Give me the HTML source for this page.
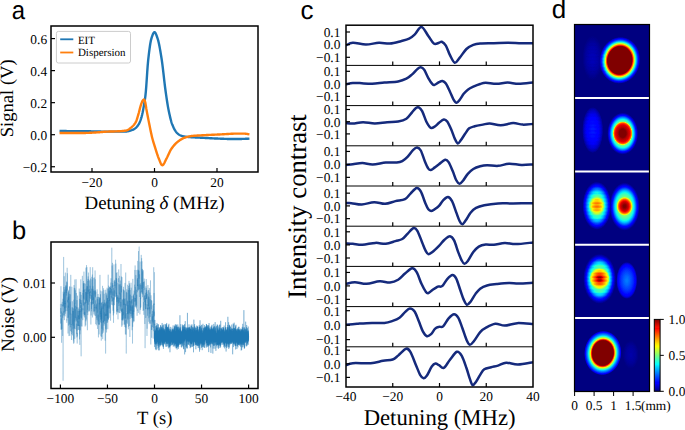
<!DOCTYPE html>
<html><head><meta charset="utf-8"><style>
html,body{margin:0;padding:0;background:#fff;overflow:hidden;}
svg{display:block;text-rendering:geometricPrecision;}
</style></head><body>
<svg width="685" height="430" viewBox="0 0 685 430">
<defs>
<clipPath id="clipA"><rect x="51" y="26" width="207" height="146"/></clipPath>
<clipPath id="clipB"><rect x="51" y="242" width="207" height="146.5"/></clipPath>
<clipPath id="clipC"><rect x="346" y="25.2" width="187" height="361.8"/></clipPath>
<clipPath id="clipD"><rect x="574.5" y="24.5" width="75.0" height="367.0"/></clipPath>
</defs>
<rect width="685" height="430" fill="#fff"/>
<g clip-path="url(#clipA)"><path d="M60.75,131.02 L61.22,131.02 L61.69,131.03 L62.16,131.03 L62.63,131.03 L63.10,131.04 L63.57,131.04 L64.04,131.05 L64.51,131.05 L64.98,131.06 L65.45,131.06 L65.92,131.07 L66.39,131.07 L66.86,131.08 L67.33,131.08 L67.80,131.09 L68.27,131.09 L68.74,131.10 L69.21,131.10 L69.68,131.11 L70.15,131.11 L70.62,131.12 L71.09,131.12 L71.56,131.13 L72.03,131.13 L72.50,131.14 L72.97,131.14 L73.44,131.15 L73.91,131.15 L74.38,131.16 L74.85,131.16 L75.32,131.16 L75.79,131.17 L76.26,131.17 L76.73,131.18 L77.20,131.18 L77.67,131.19 L78.14,131.19 L78.61,131.20 L79.08,131.20 L79.55,131.21 L80.02,131.21 L80.49,131.21 L80.96,131.22 L81.43,131.22 L81.90,131.23 L82.37,131.23 L82.84,131.24 L83.31,131.24 L83.78,131.24 L84.25,131.25 L84.72,131.25 L85.19,131.26 L85.66,131.26 L86.13,131.27 L86.60,131.27 L87.07,131.28 L87.54,131.28 L88.01,131.29 L88.48,131.29 L88.95,131.30 L89.42,131.30 L89.89,131.31 L90.36,131.31 L90.83,131.32 L91.30,131.33 L91.77,131.33 L92.23,131.34 L92.70,131.35 L93.17,131.36 L93.64,131.37 L94.11,131.38 L94.58,131.39 L95.05,131.40 L95.52,131.41 L95.99,131.43 L96.46,131.44 L96.93,131.45 L97.40,131.47 L97.87,131.48 L98.34,131.50 L98.81,131.51 L99.28,131.52 L99.75,131.54 L100.22,131.55 L100.69,131.56 L101.16,131.58 L101.63,131.59 L102.10,131.60 L102.57,131.61 L103.04,131.62 L103.51,131.63 L103.98,131.64 L104.45,131.64 L104.92,131.65 L105.39,131.65 L105.86,131.66 L106.33,131.66 L106.80,131.66 L107.27,131.66 L107.74,131.66 L108.21,131.66 L108.68,131.66 L109.15,131.66 L109.62,131.66 L110.09,131.66 L110.56,131.66 L111.03,131.66 L111.50,131.66 L111.97,131.66 L112.44,131.66 L112.91,131.66 L113.38,131.66 L113.85,131.66 L114.32,131.66 L114.79,131.66 L115.26,131.66 L115.73,131.66 L116.20,131.66 L116.67,131.66 L117.14,131.66 L117.61,131.66 L118.08,131.65 L118.55,131.65 L119.02,131.65 L119.49,131.64 L119.96,131.64 L120.43,131.63 L120.90,131.63 L121.37,131.62 L121.84,131.61 L122.31,131.60 L122.78,131.59 L123.25,131.58 L123.72,131.57 L124.19,131.56 L124.66,131.54 L125.13,131.53 L125.60,131.51 L126.07,131.50 L126.54,131.47 L127.01,131.41 L127.48,131.34 L127.95,131.25 L128.42,131.14 L128.89,131.02 L129.36,130.89 L129.83,130.75 L130.30,130.61 L130.77,130.47 L131.24,130.32 L131.71,130.16 L132.18,129.98 L132.65,129.79 L133.12,129.57 L133.59,129.34 L134.06,129.08 L134.53,128.80 L135.00,128.49 L135.47,128.13 L135.94,127.73 L136.41,127.27 L136.88,126.76 L137.35,126.20 L137.82,125.58 L138.29,124.90 L138.76,124.17 L139.23,123.31 L139.70,122.28 L140.17,121.10 L140.64,119.78 L141.11,118.34 L141.58,116.78 L142.05,115.07 L142.52,113.02 L142.99,110.66 L143.46,108.10 L143.93,105.43 L144.40,102.70 L144.87,99.75 L145.34,96.32 L145.81,91.95 L146.28,86.05 L146.75,79.24 L147.22,72.20 L147.69,65.65 L148.16,60.28 L148.63,56.12 L149.10,52.19 L149.57,48.54 L150.04,45.24 L150.51,42.39 L150.98,40.07 L151.45,38.36 L151.92,36.91 L152.39,35.55 L152.86,34.34 L153.33,33.34 L153.80,32.62 L154.27,32.22 L154.73,32.23 L155.20,32.65 L155.67,33.42 L156.14,34.45 L156.61,35.67 L157.08,37.01 L157.55,38.38 L158.02,39.85 L158.49,41.65 L158.96,43.74 L159.43,46.07 L159.90,48.61 L160.37,51.31 L160.84,54.14 L161.31,57.05 L161.78,60.03 L162.25,63.35 L162.72,67.07 L163.19,71.06 L163.66,75.21 L164.13,79.38 L164.60,83.44 L165.07,87.27 L165.54,90.76 L166.01,94.10 L166.48,97.38 L166.95,100.54 L167.42,103.54 L167.89,106.33 L168.36,108.85 L168.83,111.17 L169.30,113.42 L169.77,115.58 L170.24,117.62 L170.71,119.51 L171.18,121.24 L171.65,122.79 L172.12,124.12 L172.59,125.29 L173.06,126.39 L173.53,127.44 L174.00,128.42 L174.47,129.33 L174.94,130.17 L175.41,130.93 L175.88,131.62 L176.35,132.23 L176.82,132.76 L177.29,133.21 L177.76,133.63 L178.23,134.02 L178.70,134.38 L179.17,134.70 L179.64,135.00 L180.11,135.25 L180.58,135.47 L181.05,135.66 L181.52,135.81 L181.99,135.96 L182.46,136.09 L182.93,136.21 L183.40,136.32 L183.87,136.41 L184.34,136.50 L184.81,136.58 L185.28,136.64 L185.75,136.71 L186.22,136.76 L186.69,136.82 L187.16,136.87 L187.63,136.92 L188.10,136.96 L188.57,137.01 L189.04,137.05 L189.51,137.08 L189.98,137.12 L190.45,137.16 L190.92,137.19 L191.39,137.22 L191.86,137.25 L192.33,137.28 L192.80,137.31 L193.27,137.34 L193.74,137.37 L194.21,137.40 L194.68,137.42 L195.15,137.45 L195.62,137.47 L196.09,137.49 L196.56,137.52 L197.03,137.54 L197.50,137.56 L197.97,137.58 L198.44,137.60 L198.91,137.62 L199.38,137.65 L199.85,137.67 L200.32,137.69 L200.79,137.71 L201.26,137.74 L201.73,137.76 L202.20,137.79 L202.67,137.81 L203.14,137.84 L203.61,137.86 L204.08,137.89 L204.55,137.91 L205.02,137.94 L205.49,137.96 L205.96,137.99 L206.43,138.02 L206.90,138.04 L207.37,138.07 L207.84,138.10 L208.31,138.12 L208.78,138.15 L209.25,138.17 L209.72,138.20 L210.19,138.22 L210.66,138.25 L211.13,138.27 L211.60,138.30 L212.07,138.32 L212.54,138.35 L213.01,138.37 L213.48,138.39 L213.95,138.41 L214.42,138.44 L214.89,138.46 L215.36,138.48 L215.83,138.50 L216.30,138.52 L216.77,138.54 L217.23,138.55 L217.70,138.57 L218.17,138.59 L218.64,138.61 L219.11,138.63 L219.58,138.65 L220.05,138.67 L220.52,138.69 L220.99,138.71 L221.46,138.73 L221.93,138.75 L222.40,138.77 L222.87,138.79 L223.34,138.80 L223.81,138.82 L224.28,138.84 L224.75,138.86 L225.22,138.87 L225.69,138.89 L226.16,138.91 L226.63,138.92 L227.10,138.94 L227.57,138.95 L228.04,138.96 L228.51,138.97 L228.98,138.98 L229.45,138.99 L229.92,139.00 L230.39,139.01 L230.86,139.02 L231.33,139.02 L231.80,139.02 L232.27,139.02 L232.74,139.03 L233.21,139.03 L233.68,139.02 L234.15,139.02 L234.62,139.02 L235.09,139.02 L235.56,139.02 L236.03,139.01 L236.50,139.01 L236.97,139.01 L237.44,139.00 L237.91,138.99 L238.38,138.99 L238.85,138.98 L239.32,138.97 L239.79,138.97 L240.26,138.96 L240.73,138.95 L241.20,138.94 L241.67,138.93 L242.14,138.92 L242.61,138.91 L243.08,138.89 L243.55,138.88 L244.02,138.87 L244.49,138.85 L244.96,138.84 L245.43,138.82 L245.90,138.80 L246.37,138.78 L246.84,138.77 L247.31,138.75 L247.78,138.73 L248.25,138.70" fill="none" stroke="#1f77b4" stroke-width="2.4" stroke-linejoin="round" stroke-linecap="square"/><path d="M60.75,132.94 L61.22,132.94 L61.69,132.94 L62.16,132.94 L62.63,132.94 L63.10,132.94 L63.57,132.94 L64.04,132.94 L64.51,132.94 L64.98,132.94 L65.45,132.94 L65.92,132.94 L66.39,132.94 L66.86,132.94 L67.33,132.94 L67.80,132.94 L68.27,132.94 L68.74,132.94 L69.21,132.94 L69.68,132.94 L70.15,132.94 L70.62,132.94 L71.09,132.94 L71.56,132.94 L72.03,132.94 L72.50,132.94 L72.97,132.94 L73.44,132.94 L73.91,132.94 L74.38,132.94 L74.85,132.94 L75.32,132.94 L75.79,132.94 L76.26,132.94 L76.73,132.94 L77.20,132.94 L77.67,132.94 L78.14,132.94 L78.61,132.94 L79.08,132.94 L79.55,132.94 L80.02,132.94 L80.49,132.94 L80.96,132.94 L81.43,132.94 L81.90,132.94 L82.37,132.94 L82.84,132.94 L83.31,132.94 L83.78,132.94 L84.25,132.94 L84.72,132.94 L85.19,132.94 L85.66,132.93 L86.13,132.92 L86.60,132.91 L87.07,132.90 L87.54,132.89 L88.01,132.87 L88.48,132.86 L88.95,132.84 L89.42,132.82 L89.89,132.80 L90.36,132.77 L90.83,132.75 L91.30,132.72 L91.77,132.70 L92.23,132.67 L92.70,132.64 L93.17,132.62 L93.64,132.59 L94.11,132.56 L94.58,132.53 L95.05,132.50 L95.52,132.47 L95.99,132.44 L96.46,132.41 L96.93,132.38 L97.40,132.35 L97.87,132.32 L98.34,132.29 L98.81,132.26 L99.28,132.23 L99.75,132.19 L100.22,132.15 L100.69,132.11 L101.16,132.07 L101.63,132.02 L102.10,131.98 L102.57,131.94 L103.04,131.89 L103.51,131.85 L103.98,131.81 L104.45,131.78 L104.92,131.74 L105.39,131.71 L105.86,131.68 L106.33,131.66 L106.80,131.64 L107.27,131.62 L107.74,131.60 L108.21,131.59 L108.68,131.57 L109.15,131.56 L109.62,131.55 L110.09,131.53 L110.56,131.52 L111.03,131.51 L111.50,131.50 L111.97,131.49 L112.44,131.48 L112.91,131.47 L113.38,131.46 L113.85,131.45 L114.32,131.43 L114.79,131.42 L115.26,131.40 L115.73,131.39 L116.20,131.37 L116.67,131.35 L117.14,131.33 L117.61,131.31 L118.08,131.28 L118.55,131.26 L119.02,131.24 L119.49,131.21 L119.96,131.18 L120.43,131.15 L120.90,131.12 L121.37,131.08 L121.84,131.05 L122.31,131.00 L122.78,130.96 L123.25,130.91 L123.72,130.86 L124.19,130.80 L124.66,130.74 L125.13,130.68 L125.60,130.61 L126.07,130.53 L126.54,130.43 L127.01,130.27 L127.48,130.07 L127.95,129.83 L128.42,129.55 L128.89,129.24 L129.36,128.91 L129.83,128.56 L130.30,128.19 L130.77,127.82 L131.24,127.44 L131.71,127.06 L132.18,126.65 L132.65,126.22 L133.12,125.76 L133.59,125.25 L134.06,124.70 L134.53,124.09 L135.00,123.42 L135.47,122.68 L135.94,121.85 L136.41,120.75 L136.88,119.41 L137.35,117.89 L137.82,116.28 L138.29,114.65 L138.76,113.03 L139.23,111.24 L139.70,109.35 L140.17,107.51 L140.64,105.89 L141.11,104.48 L141.58,103.12 L142.05,101.87 L142.52,100.87 L142.99,100.20 L143.46,99.73 L143.93,99.47 L144.40,99.83 L144.87,101.04 L145.34,102.70 L145.81,105.47 L146.28,108.50 L146.75,111.09 L147.22,113.61 L147.69,116.07 L148.16,118.49 L148.63,120.88 L149.10,123.22 L149.57,125.54 L150.04,127.87 L150.51,130.19 L150.98,132.45 L151.45,134.62 L151.92,136.65 L152.39,138.51 L152.86,140.22 L153.33,141.84 L153.80,143.38 L154.27,144.88 L154.73,146.36 L155.20,147.85 L155.67,149.36 L156.14,150.87 L156.61,152.37 L157.08,153.83 L157.55,155.24 L158.02,156.57 L158.49,157.80 L158.96,158.93 L159.43,160.11 L159.90,161.33 L160.37,162.51 L160.84,163.57 L161.31,164.44 L161.78,165.04 L162.25,165.29 L162.72,165.18 L163.19,164.79 L163.66,164.17 L164.13,163.38 L164.60,162.47 L165.07,161.48 L165.54,160.48 L166.01,159.50 L166.48,158.60 L166.95,157.72 L167.42,156.78 L167.89,155.78 L168.36,154.76 L168.83,153.73 L169.30,152.71 L169.77,151.72 L170.24,150.79 L170.71,149.93 L171.18,149.17 L171.65,148.48 L172.12,147.82 L172.59,147.18 L173.06,146.56 L173.53,145.97 L174.00,145.40 L174.47,144.86 L174.94,144.34 L175.41,143.85 L175.88,143.38 L176.35,142.95 L176.82,142.54 L177.29,142.15 L177.76,141.78 L178.23,141.41 L178.70,141.05 L179.17,140.70 L179.64,140.36 L180.11,140.04 L180.58,139.73 L181.05,139.43 L181.52,139.14 L181.99,138.88 L182.46,138.63 L182.93,138.39 L183.40,138.17 L183.87,137.98 L184.34,137.80 L184.81,137.64 L185.28,137.49 L185.75,137.34 L186.22,137.19 L186.69,137.06 L187.16,136.92 L187.63,136.80 L188.10,136.68 L188.57,136.57 L189.04,136.46 L189.51,136.37 L189.98,136.28 L190.45,136.19 L190.92,136.12 L191.39,136.05 L191.86,136.00 L192.33,135.95 L192.80,135.90 L193.27,135.85 L193.74,135.81 L194.21,135.77 L194.68,135.73 L195.15,135.70 L195.62,135.66 L196.09,135.63 L196.56,135.60 L197.03,135.57 L197.50,135.54 L197.97,135.51 L198.44,135.48 L198.91,135.46 L199.38,135.43 L199.85,135.41 L200.32,135.38 L200.79,135.36 L201.26,135.33 L201.73,135.31 L202.20,135.29 L202.67,135.26 L203.14,135.24 L203.61,135.21 L204.08,135.19 L204.55,135.16 L205.02,135.14 L205.49,135.11 L205.96,135.09 L206.43,135.06 L206.90,135.04 L207.37,135.01 L207.84,134.99 L208.31,134.97 L208.78,134.94 L209.25,134.92 L209.72,134.90 L210.19,134.88 L210.66,134.85 L211.13,134.83 L211.60,134.81 L212.07,134.79 L212.54,134.77 L213.01,134.75 L213.48,134.72 L213.95,134.70 L214.42,134.68 L214.89,134.66 L215.36,134.64 L215.83,134.62 L216.30,134.60 L216.77,134.58 L217.23,134.56 L217.70,134.53 L218.17,134.51 L218.64,134.49 L219.11,134.47 L219.58,134.45 L220.05,134.43 L220.52,134.41 L220.99,134.38 L221.46,134.36 L221.93,134.34 L222.40,134.31 L222.87,134.29 L223.34,134.26 L223.81,134.23 L224.28,134.20 L224.75,134.17 L225.22,134.15 L225.69,134.12 L226.16,134.09 L226.63,134.06 L227.10,134.03 L227.57,134.00 L228.04,133.97 L228.51,133.94 L228.98,133.91 L229.45,133.88 L229.92,133.85 L230.39,133.83 L230.86,133.80 L231.33,133.78 L231.80,133.75 L232.27,133.73 L232.74,133.71 L233.21,133.69 L233.68,133.67 L234.15,133.65 L234.62,133.63 L235.09,133.62 L235.56,133.61 L236.03,133.60 L236.50,133.59 L236.97,133.58 L237.44,133.58 L237.91,133.58 L238.38,133.58 L238.85,133.58 L239.32,133.58 L239.79,133.58 L240.26,133.58 L240.73,133.58 L241.20,133.58 L241.67,133.58 L242.14,133.58 L242.61,133.58 L243.08,133.58 L243.55,133.58 L244.02,133.59 L244.49,133.61 L244.96,133.66 L245.43,133.71 L245.90,133.78 L246.37,133.86 L246.84,133.94 L247.31,134.03 L247.78,134.13 L248.25,134.22" fill="none" stroke="#ff7f0e" stroke-width="2.4" stroke-linejoin="round" stroke-linecap="square"/></g>
<rect x="56.4" y="31.4" width="74.1" height="31.6" rx="2" ry="2" fill="#fff" fill-opacity="0.8" stroke="#cccccc" stroke-width="1"/>
<line x1="60.2" y1="39.3" x2="73.3" y2="39.3" stroke="#1f77b4" stroke-width="1.8"/>
<line x1="60.2" y1="52.5" x2="73.3" y2="52.5" stroke="#ff7f0e" stroke-width="1.8"/>
<text x="77.90" y="43.60" font-size="11" text-anchor="start" font-family='"Liberation Serif", serif' >EIT</text>
<text x="77.90" y="56.20" font-size="11" text-anchor="start" font-family='"Liberation Serif", serif' >Dispersion</text>
<rect x="51" y="26" width="207" height="146" fill="none" stroke="#000" stroke-width="1.5"/>
<line x1="92.00" y1="172" x2="92.00" y2="168.0" stroke="#000" stroke-width="1.2"/>
<text x="92.00" y="186.80" font-size="13.4" text-anchor="middle" font-family='"Liberation Serif", serif' >&#8722;20</text>
<line x1="154.50" y1="172" x2="154.50" y2="168.0" stroke="#000" stroke-width="1.2"/>
<text x="154.50" y="186.80" font-size="13.4" text-anchor="middle" font-family='"Liberation Serif", serif' >0</text>
<line x1="217.00" y1="172" x2="217.00" y2="168.0" stroke="#000" stroke-width="1.2"/>
<text x="217.00" y="186.80" font-size="13.4" text-anchor="middle" font-family='"Liberation Serif", serif' >20</text>
<line x1="51" y1="166.74" x2="55.0" y2="166.74" stroke="#000" stroke-width="1.2"/>
<text x="47.10" y="171.74" font-size="13.4" text-anchor="end" font-family='"Liberation Serif", serif' >&#8722;0.2</text>
<line x1="51" y1="134.70" x2="55.0" y2="134.70" stroke="#000" stroke-width="1.2"/>
<text x="47.10" y="139.70" font-size="13.4" text-anchor="end" font-family='"Liberation Serif", serif' >0.0</text>
<line x1="51" y1="102.66" x2="55.0" y2="102.66" stroke="#000" stroke-width="1.2"/>
<text x="47.10" y="107.66" font-size="13.4" text-anchor="end" font-family='"Liberation Serif", serif' >0.2</text>
<line x1="51" y1="70.62" x2="55.0" y2="70.62" stroke="#000" stroke-width="1.2"/>
<text x="47.10" y="75.62" font-size="13.4" text-anchor="end" font-family='"Liberation Serif", serif' >0.4</text>
<line x1="51" y1="38.58" x2="55.0" y2="38.58" stroke="#000" stroke-width="1.2"/>
<text x="47.10" y="43.58" font-size="13.4" text-anchor="end" font-family='"Liberation Serif", serif' >0.6</text>
<text x="154.50" y="208.60" font-size="18.9" text-anchor="middle" font-family='"Liberation Serif", serif' >Detuning <tspan font-style="italic">&#948;</tspan> (MHz)</text>
<text transform="translate(13.2,98.3) rotate(-90)" x="0" y="0" font-size="18.6" text-anchor="middle" font-family='"Liberation Serif", serif'>Signal (V)</text>
<text transform="translate(11.8,18.8) scale(0.92,1)" x="0" y="0" font-size="26" font-family='"Liberation Sans", sans-serif'>a</text>
<g clip-path="url(#clipB)">
<path d="M60.41,303.96 L60.49,316.58 L60.57,315.32 L60.64,323.49 L60.72,308.07 L60.80,313.50 L60.88,299.99 L60.96,286.16 L61.04,312.97 L61.12,329.31 L61.19,318.46 L61.27,330.03 L61.35,328.85 L61.43,303.81 L61.51,317.52 L61.59,342.76 L61.66,319.02 L61.74,311.53 L61.82,329.04 L61.90,327.73 L61.98,320.93 L62.06,315.06 L62.14,311.47 L62.21,301.93 L62.29,301.86 L62.37,306.19 L62.45,304.69 L62.53,309.19 L62.61,335.92 L62.68,316.37 L62.76,313.18 L62.84,317.72 L62.92,298.81 L63.00,312.90 L63.08,380.74 L63.16,291.68 L63.23,298.70 L63.31,306.80 L63.39,300.17 L63.47,293.66 L63.55,305.63 L63.63,256.94 L63.70,315.50 L63.78,311.30 L63.86,312.75 L63.94,299.91 L64.02,287.03 L64.10,308.82 L64.18,315.31 L64.25,276.26 L64.33,312.23 L64.41,320.13 L64.49,297.85 L64.57,292.11 L64.65,308.52 L64.73,289.54 L64.80,307.44 L64.88,312.02 L64.96,303.23 L65.04,300.93 L65.12,316.39 L65.20,303.03 L65.27,304.03 L65.35,272.58 L65.43,313.69 L65.51,285.57 L65.59,306.98 L65.67,311.07 L65.75,303.84 L65.82,288.93 L65.90,287.19 L65.98,300.67 L66.06,307.71 L66.14,306.34 L66.22,289.79 L66.29,292.96 L66.37,285.55 L66.45,295.52 L66.53,287.18 L66.61,281.54 L66.69,304.07 L66.77,322.72 L66.84,319.37 L66.92,320.44 L67.00,282.34 L67.08,311.04 L67.16,267.80 L67.24,290.37 L67.31,273.25 L67.39,284.66 L67.47,298.09 L67.55,302.41 L67.63,299.88 L67.71,302.19 L67.79,318.27 L67.86,313.18 L67.94,297.33 L68.02,333.50 L68.10,305.62 L68.18,317.63 L68.26,301.31 L68.33,292.47 L68.41,300.01 L68.49,291.14 L68.57,325.57 L68.65,289.85 L68.73,307.73 L68.81,296.37 L68.88,303.27 L68.96,336.09 L69.04,316.57 L69.12,306.26 L69.20,293.96 L69.28,304.48 L69.36,304.46 L69.43,324.57 L69.51,289.75 L69.59,286.47 L69.67,310.78 L69.75,319.16 L69.83,335.75 L69.90,311.55 L69.98,286.60 L70.06,314.56 L70.14,301.59 L70.22,309.79 L70.30,327.28 L70.38,294.30 L70.45,331.09 L70.53,311.81 L70.61,304.53 L70.69,295.65 L70.77,274.86 L70.85,305.31 L70.92,317.87 L71.00,324.74 L71.08,313.63 L71.16,323.00 L71.24,331.57 L71.32,332.37 L71.40,323.98 L71.47,340.00 L71.55,333.14 L71.63,334.19 L71.71,310.60 L71.79,308.15 L71.87,286.78 L71.94,333.12 L72.02,322.97 L72.10,307.23 L72.18,321.48 L72.26,324.46 L72.34,301.31 L72.42,320.37 L72.49,331.79 L72.57,335.37 L72.65,314.07 L72.73,307.63 L72.81,329.24 L72.89,329.16 L72.96,310.90 L73.04,312.11 L73.12,325.72 L73.20,314.09 L73.28,310.96 L73.36,340.41 L73.44,320.18 L73.51,308.51 L73.59,322.45 L73.67,343.79 L73.75,324.75 L73.83,307.28 L73.91,299.73 L73.98,342.74 L74.06,285.07 L74.14,328.12 L74.22,301.49 L74.30,287.86 L74.38,302.37 L74.46,313.40 L74.53,328.91 L74.61,303.59 L74.69,316.71 L74.77,338.89 L74.85,279.49 L74.93,303.91 L75.01,288.38 L75.08,321.48 L75.16,295.05 L75.24,293.18 L75.32,290.31 L75.40,303.72 L75.48,317.89 L75.55,309.09 L75.63,329.23 L75.71,327.60 L75.79,305.95 L75.87,319.70 L75.95,309.92 L76.03,303.54 L76.10,279.23 L76.18,286.53 L76.26,308.77 L76.34,292.99 L76.42,321.33 L76.50,320.63 L76.57,307.28 L76.65,334.19 L76.73,323.69 L76.81,337.48 L76.89,317.69 L76.97,300.14 L77.05,330.56 L77.12,316.95 L77.20,343.53 L77.28,332.92 L77.36,336.40 L77.44,307.65 L77.52,295.64 L77.59,316.12 L77.67,325.74 L77.75,310.75 L77.83,322.38 L77.91,307.21 L77.99,316.68 L78.07,316.17 L78.14,315.13 L78.22,326.00 L78.30,321.45 L78.38,329.78 L78.46,315.69 L78.54,325.68 L78.61,308.69 L78.69,319.26 L78.77,310.93 L78.85,312.74 L78.93,329.86 L79.01,324.92 L79.09,326.00 L79.16,306.43 L79.24,288.55 L79.32,297.63 L79.40,319.09 L79.48,298.83 L79.56,339.35 L79.64,310.49 L79.71,340.28 L79.79,344.90 L79.87,291.83 L79.95,305.73 L80.03,334.32 L80.11,309.20 L80.18,312.02 L80.26,311.28 L80.34,330.37 L80.42,317.75 L80.50,299.66 L80.58,303.91 L80.66,292.00 L80.73,307.93 L80.81,279.34 L80.89,317.61 L80.97,305.16 L81.05,335.49 L81.13,356.31 L81.20,294.85 L81.28,326.35 L81.36,302.76 L81.44,308.83 L81.52,318.49 L81.60,307.84 L81.68,308.77 L81.75,311.47 L81.83,300.12 L81.91,304.92 L81.99,318.16 L82.07,326.49 L82.15,313.74 L82.22,312.24 L82.30,296.36 L82.38,275.83 L82.46,297.58 L82.54,301.58 L82.62,303.80 L82.70,312.37 L82.77,320.17 L82.85,318.19 L82.93,308.43 L83.01,310.18 L83.09,293.08 L83.17,305.39 L83.24,290.27 L83.32,314.41 L83.40,282.94 L83.48,298.51 L83.56,281.01 L83.64,291.65 L83.72,283.92 L83.79,305.36 L83.87,285.18 L83.95,271.60 L84.03,316.37 L84.11,288.77 L84.19,283.12 L84.27,299.54 L84.34,293.93 L84.42,289.44 L84.50,314.79 L84.58,302.38 L84.66,317.53 L84.74,312.06 L84.81,314.92 L84.89,311.68 L84.97,309.11 L85.05,302.49 L85.13,326.53 L85.21,283.67 L85.29,285.97 L85.36,291.24 L85.44,303.70 L85.52,301.92 L85.60,292.07 L85.68,297.38 L85.76,325.37 L85.83,289.87 L85.91,267.69 L85.99,321.29 L86.07,288.84 L86.15,293.09 L86.23,302.94 L86.31,292.18 L86.38,319.53 L86.46,304.55 L86.54,265.08 L86.62,300.42 L86.70,299.25 L86.78,288.46 L86.85,288.59 L86.93,267.11 L87.01,301.10 L87.09,286.07 L87.17,312.48 L87.25,286.43 L87.33,298.15 L87.40,330.20 L87.48,300.53 L87.56,309.76 L87.64,301.31 L87.72,280.87 L87.80,315.11 L87.87,311.21 L87.95,278.95 L88.03,293.91 L88.11,276.43 L88.19,290.91 L88.27,304.85 L88.35,290.82 L88.42,272.57 L88.50,275.71 L88.58,291.72 L88.66,289.83 L88.74,297.64 L88.82,311.21 L88.89,279.61 L88.97,301.53 L89.05,311.63 L89.13,308.59 L89.21,289.86 L89.29,289.01 L89.37,299.00 L89.44,301.64 L89.52,292.15 L89.60,310.65 L89.68,307.95 L89.76,280.56 L89.84,298.18 L89.92,295.95 L89.99,285.78 L90.07,293.63 L90.15,295.76 L90.23,267.12 L90.31,281.97 L90.39,292.86 L90.46,278.54 L90.54,280.04 L90.62,299.23 L90.70,291.26 L90.78,300.01 L90.86,324.52 L90.94,301.83 L91.01,303.36 L91.09,303.82 L91.17,315.41 L91.25,300.66 L91.33,295.22 L91.41,295.04 L91.48,308.86 L91.56,288.65 L91.64,311.34 L91.72,294.48 L91.80,276.81 L91.88,304.11 L91.96,300.94 L92.03,279.50 L92.11,304.62 L92.19,300.85 L92.27,290.15 L92.35,274.52 L92.43,317.45 L92.50,302.50 L92.58,302.90 L92.66,267.25 L92.74,300.20 L92.82,299.51 L92.90,286.27 L92.98,299.84 L93.05,288.88 L93.13,292.69 L93.21,303.82 L93.29,300.32 L93.37,277.80 L93.45,293.59 L93.52,303.92 L93.60,297.32 L93.68,311.37 L93.76,294.04 L93.84,290.86 L93.92,314.37 L94.00,305.24 L94.07,290.51 L94.15,312.32 L94.23,304.08 L94.31,315.54 L94.39,314.88 L94.47,310.52 L94.55,277.49 L94.62,307.74 L94.70,307.12 L94.78,311.07 L94.86,299.08 L94.94,291.31 L95.02,294.49 L95.09,270.48 L95.17,296.57 L95.25,279.28 L95.33,297.43 L95.41,290.27 L95.49,315.95 L95.57,302.45 L95.64,300.31 L95.72,303.83 L95.80,324.08 L95.88,291.66 L95.96,306.92 L96.04,309.22 L96.11,305.34 L96.19,307.91 L96.27,307.21 L96.35,325.32 L96.43,318.61 L96.51,303.67 L96.59,309.78 L96.66,315.33 L96.74,316.16 L96.82,318.34 L96.90,313.87 L96.98,297.24 L97.06,320.03 L97.13,289.35 L97.21,293.79 L97.29,312.70 L97.37,299.04 L97.45,328.75 L97.53,328.93 L97.61,322.71 L97.68,312.77 L97.76,309.59 L97.84,308.63 L97.92,296.81 L98.00,323.51 L98.08,293.97 L98.15,321.37 L98.23,314.83 L98.31,315.65 L98.39,337.25 L98.47,337.39 L98.55,323.93 L98.63,311.80 L98.70,303.16 L98.78,296.97 L98.86,324.45 L98.94,322.90 L99.02,324.88 L99.10,302.74 L99.18,334.38 L99.25,299.50 L99.33,317.04 L99.41,324.45 L99.49,305.20 L99.57,297.62 L99.65,304.38 L99.72,297.49 L99.80,309.58 L99.88,295.24 L99.96,274.86 L100.04,317.12 L100.12,298.16 L100.20,314.17 L100.27,310.81 L100.35,322.16 L100.43,311.55 L100.51,294.22 L100.59,319.46 L100.67,295.32 L100.74,290.60 L100.82,301.47 L100.90,336.26 L100.98,315.99 L101.06,309.38 L101.14,323.05 L101.22,313.10 L101.29,340.65 L101.37,303.00 L101.45,320.71 L101.53,302.30 L101.61,336.92 L101.69,307.86 L101.76,319.13 L101.84,306.35 L101.92,328.73 L102.00,322.71 L102.08,291.34 L102.16,328.33 L102.24,328.25 L102.31,328.27 L102.39,333.74 L102.47,307.20 L102.55,285.84 L102.63,326.66 L102.71,339.15 L102.78,301.93 L102.86,303.64 L102.94,308.85 L103.02,304.31 L103.10,330.45 L103.18,320.66 L103.26,332.50 L103.33,332.63 L103.41,303.73 L103.49,322.38 L103.57,288.27 L103.65,314.08 L103.73,322.38 L103.80,304.17 L103.88,290.17 L103.96,308.81 L104.04,325.70 L104.12,306.27 L104.20,293.78 L104.28,316.25 L104.35,324.17 L104.43,299.82 L104.51,306.74 L104.59,320.60 L104.67,312.37 L104.75,321.08 L104.83,302.43 L104.90,306.23 L104.98,302.72 L105.06,309.42 L105.14,340.67 L105.22,316.38 L105.30,314.25 L105.37,315.92 L105.45,303.66 L105.53,322.65 L105.61,353.59 L105.69,289.73 L105.77,312.12 L105.85,328.72 L105.92,292.68 L106.00,315.77 L106.08,313.83 L106.16,329.63 L106.24,328.07 L106.32,322.85 L106.39,311.97 L106.47,301.50 L106.55,332.44 L106.63,295.35 L106.71,315.92 L106.79,315.81 L106.87,293.64 L106.94,301.42 L107.02,322.91 L107.10,287.74 L107.18,321.04 L107.26,310.58 L107.34,307.56 L107.41,297.91 L107.49,318.45 L107.57,298.22 L107.65,322.44 L107.73,305.33 L107.81,329.21 L107.89,317.88 L107.96,288.88 L108.04,307.53 L108.12,307.73 L108.20,274.71 L108.28,302.88 L108.36,319.23 L108.43,300.11 L108.51,319.67 L108.59,287.69 L108.67,285.64 L108.75,299.20 L108.83,298.62 L108.91,288.22 L108.98,292.94 L109.06,308.85 L109.14,290.75 L109.22,317.74 L109.30,299.46 L109.38,300.97 L109.46,297.44 L109.53,286.96 L109.61,307.41 L109.69,286.74 L109.77,297.73 L109.85,303.52 L109.93,312.90 L110.00,311.91 L110.08,290.70 L110.16,313.65 L110.24,301.11 L110.32,287.78 L110.40,289.13 L110.48,288.34 L110.55,320.70 L110.63,314.85 L110.71,286.16 L110.79,294.59 L110.87,282.59 L110.95,292.66 L111.02,278.27 L111.10,285.78 L111.18,290.51 L111.26,291.30 L111.34,296.69 L111.42,296.32 L111.50,298.35 L111.57,289.15 L111.65,304.73 L111.73,263.84 L111.81,247.71 L111.89,287.14 L111.97,301.60 L112.04,298.16 L112.12,265.56 L112.20,287.70 L112.28,301.24 L112.36,292.34 L112.44,282.69 L112.52,262.85 L112.59,287.33 L112.67,283.13 L112.75,305.22 L112.83,291.50 L112.91,295.35 L112.99,284.95 L113.06,310.70 L113.14,297.21 L113.22,302.16 L113.30,315.35 L113.38,297.76 L113.46,297.89 L113.54,322.84 L113.61,288.14 L113.69,289.29 L113.77,303.92 L113.85,313.33 L113.93,264.39 L114.01,296.26 L114.09,285.90 L114.16,280.78 L114.24,299.56 L114.32,290.21 L114.40,305.18 L114.48,302.09 L114.56,295.25 L114.63,291.30 L114.71,279.88 L114.79,286.02 L114.87,281.72 L114.95,282.76 L115.03,282.39 L115.11,296.46 L115.18,290.24 L115.26,284.90 L115.34,297.23 L115.42,286.57 L115.50,287.33 L115.58,259.73 L115.65,265.16 L115.73,282.20 L115.81,285.37 L115.89,263.68 L115.97,289.06 L116.05,293.63 L116.13,291.43 L116.20,290.54 L116.28,277.97 L116.36,296.34 L116.44,272.87 L116.52,311.60 L116.60,292.75 L116.67,314.49 L116.75,278.72 L116.83,301.94 L116.91,295.15 L116.99,277.10 L117.07,272.25 L117.15,299.28 L117.22,295.28 L117.30,311.36 L117.38,296.99 L117.46,304.49 L117.54,312.39 L117.62,311.19 L117.69,309.15 L117.77,309.82 L117.85,293.66 L117.93,282.87 L118.01,319.39 L118.09,299.91 L118.17,301.39 L118.24,295.41 L118.32,312.53 L118.40,297.72 L118.48,303.46 L118.56,278.26 L118.64,282.27 L118.71,269.43 L118.79,273.17 L118.87,285.27 L118.95,305.99 L119.03,284.35 L119.11,289.63 L119.19,294.44 L119.26,284.68 L119.34,284.52 L119.42,312.99 L119.50,303.13 L119.58,275.84 L119.66,277.03 L119.74,301.43 L119.81,302.49 L119.89,297.95 L119.97,302.49 L120.05,313.20 L120.13,292.82 L120.21,309.64 L120.28,306.89 L120.36,280.59 L120.44,299.14 L120.52,295.50 L120.60,284.32 L120.68,287.34 L120.76,306.67 L120.83,301.92 L120.91,311.06 L120.99,264.00 L121.07,291.26 L121.15,311.45 L121.23,294.93 L121.30,286.06 L121.38,292.27 L121.46,276.48 L121.54,287.76 L121.62,311.99 L121.70,309.52 L121.78,326.88 L121.85,308.72 L121.93,320.14 L122.01,277.16 L122.09,299.53 L122.17,325.46 L122.25,308.74 L122.32,299.80 L122.40,319.47 L122.48,318.72 L122.56,315.71 L122.64,308.51 L122.72,315.82 L122.80,321.08 L122.87,299.24 L122.95,319.96 L123.03,311.90 L123.11,319.46 L123.19,307.61 L123.27,289.28 L123.34,315.23 L123.42,296.82 L123.50,286.80 L123.58,305.12 L123.66,298.38 L123.74,318.37 L123.82,290.05 L123.89,296.95 L123.97,304.43 L124.05,324.53 L124.13,318.73 L124.21,298.23 L124.29,290.74 L124.37,304.68 L124.44,299.16 L124.52,321.46 L124.60,324.55 L124.68,307.48 L124.76,303.63 L124.84,326.92 L124.91,293.39 L124.99,282.88 L125.07,313.40 L125.15,318.45 L125.23,298.46 L125.31,308.57 L125.39,334.36 L125.46,303.94 L125.54,309.47 L125.62,318.38 L125.70,272.56 L125.78,314.61 L125.86,327.70 L125.93,319.94 L126.01,334.62 L126.09,328.66 L126.17,313.17 L126.25,353.59 L126.33,322.57 L126.41,291.88 L126.48,299.30 L126.56,300.64 L126.64,305.73 L126.72,300.51 L126.80,289.29 L126.88,311.83 L126.95,292.85 L127.03,322.76 L127.11,311.85 L127.19,324.09 L127.27,311.60 L127.35,296.26 L127.43,284.74 L127.50,314.02 L127.58,300.61 L127.66,306.03 L127.74,310.72 L127.82,318.70 L127.90,301.60 L127.97,319.78 L128.05,305.13 L128.13,312.41 L128.21,320.08 L128.29,324.15 L128.37,329.24 L128.45,290.18 L128.52,326.69 L128.60,285.92 L128.68,299.45 L128.76,308.98 L128.84,313.70 L128.92,288.84 L129.00,280.87 L129.07,314.38 L129.15,299.83 L129.23,288.16 L129.31,302.17 L129.39,283.13 L129.47,312.71 L129.54,300.94 L129.62,326.04 L129.70,284.55 L129.78,317.81 L129.86,336.98 L129.94,316.77 L130.02,315.98 L130.09,290.10 L130.17,318.77 L130.25,315.81 L130.33,306.68 L130.41,294.70 L130.49,313.96 L130.56,305.56 L130.64,306.71 L130.72,310.25 L130.80,302.51 L130.88,301.06 L130.96,311.02 L131.04,282.74 L131.11,316.34 L131.19,287.69 L131.27,298.45 L131.35,307.88 L131.43,317.85 L131.51,308.29 L131.58,299.74 L131.66,301.94 L131.74,303.51 L131.82,295.87 L131.90,314.17 L131.98,306.95 L132.06,330.19 L132.13,305.84 L132.21,311.55 L132.29,318.34 L132.37,299.11 L132.45,305.62 L132.53,343.57 L132.60,305.19 L132.68,326.78 L132.76,298.62 L132.84,278.86 L132.92,318.10 L133.00,310.38 L133.08,314.44 L133.15,307.93 L133.23,300.59 L133.31,295.73 L133.39,322.36 L133.47,295.22 L133.55,320.94 L133.62,300.54 L133.70,293.75 L133.78,297.45 L133.86,311.86 L133.94,309.32 L134.02,307.44 L134.10,304.81 L134.17,290.59 L134.25,321.46 L134.33,301.58 L134.41,297.75 L134.49,300.14 L134.57,301.72 L134.65,284.65 L134.72,294.74 L134.80,287.84 L134.88,287.99 L134.96,269.98 L135.04,307.01 L135.12,265.44 L135.19,289.68 L135.27,292.34 L135.35,298.45 L135.43,305.96 L135.51,297.99 L135.59,301.46 L135.67,287.18 L135.74,307.45 L135.82,274.97 L135.90,292.63 L135.98,292.45 L136.06,293.50 L136.14,295.73 L136.21,304.91 L136.29,298.55 L136.37,289.76 L136.45,295.09 L136.53,308.64 L136.61,294.81 L136.69,306.50 L136.76,287.03 L136.84,269.98 L136.92,284.04 L137.00,300.97 L137.08,315.72 L137.16,309.41 L137.23,310.66 L137.31,279.56 L137.39,292.20 L137.47,278.07 L137.55,286.04 L137.63,276.98 L137.71,260.90 L137.78,285.99 L137.86,284.71 L137.94,290.41 L138.02,269.62 L138.10,295.64 L138.18,296.74 L138.25,299.69 L138.33,312.90 L138.41,276.97 L138.49,251.05 L138.57,290.31 L138.65,270.44 L138.73,272.77 L138.80,289.05 L138.88,272.76 L138.96,270.71 L139.04,278.70 L139.12,247.27 L139.20,246.62 L139.28,270.41 L139.35,275.23 L139.43,297.13 L139.51,283.31 L139.59,274.28 L139.67,289.47 L139.75,285.62 L139.82,284.29 L139.90,314.39 L139.98,272.26 L140.06,261.60 L140.14,275.29 L140.22,280.19 L140.30,310.08 L140.37,298.05 L140.45,308.30 L140.53,302.55 L140.61,283.23 L140.69,298.70 L140.77,291.57 L140.84,307.28 L140.92,284.99 L141.00,286.24 L141.08,291.97 L141.16,289.66 L141.24,254.91 L141.32,292.54 L141.39,292.46 L141.47,288.23 L141.55,266.47 L141.63,258.18 L141.71,280.14 L141.79,288.98 L141.86,288.23 L141.94,261.35 L142.02,293.92 L142.10,268.82 L142.18,271.35 L142.26,292.60 L142.34,284.52 L142.41,282.55 L142.49,269.42 L142.57,297.18 L142.65,271.56 L142.73,291.93 L142.81,294.53 L142.88,282.26 L142.96,294.30 L143.04,308.30 L143.12,311.02 L143.20,299.25 L143.28,270.87 L143.36,270.25 L143.43,288.01 L143.51,281.93 L143.59,310.17 L143.67,305.50 L143.75,302.12 L143.83,314.82 L143.91,305.69 L143.98,288.44 L144.06,291.10 L144.14,299.98 L144.22,278.60 L144.30,289.65 L144.38,281.48 L144.45,297.16 L144.53,302.08 L144.61,295.79 L144.69,308.34 L144.77,315.43 L144.85,324.01 L144.93,297.68 L145.00,294.87 L145.08,348.16 L145.16,320.94 L145.24,300.21 L145.32,305.28 L145.40,297.98 L145.47,307.84 L145.55,309.16 L145.63,292.86 L145.71,305.32 L145.79,317.96 L145.87,286.39 L145.95,288.05 L146.02,309.02 L146.10,288.01 L146.18,299.08 L146.26,279.05 L146.34,296.50 L146.42,298.41 L146.49,289.89 L146.57,299.19 L146.65,294.06 L146.73,292.19 L146.81,295.29 L146.89,310.00 L146.97,335.96 L147.04,304.21 L147.12,328.72 L147.20,304.95 L147.28,294.15 L147.36,305.41 L147.44,315.77 L147.51,309.95 L147.59,307.61 L147.67,308.61 L147.75,308.22 L147.83,310.15 L147.91,284.98 L147.99,302.84 L148.06,290.47 L148.14,308.94 L148.22,302.89 L148.30,306.04 L148.38,300.18 L148.46,296.46 L148.53,307.17 L148.61,315.23 L148.69,321.71 L148.77,290.06 L148.85,313.49 L148.93,318.16 L149.01,297.49 L149.08,307.47 L149.16,312.62 L149.24,324.15 L149.32,287.95 L149.40,309.27 L149.48,307.68 L149.56,307.19 L149.63,321.34 L149.71,323.13 L149.79,301.49 L149.87,292.59 L149.95,295.28 L150.03,310.56 L150.10,313.86 L150.18,299.21 L150.26,316.90 L150.34,297.48 L150.42,297.62 L150.50,280.38 L150.58,304.84 L150.65,323.81 L150.73,320.07 L150.81,344.47 L150.89,316.92 L150.97,310.14 L151.05,295.36 L151.12,297.40 L151.20,304.69 L151.28,309.19 L151.36,307.64 L151.44,300.19 L151.52,330.05 L151.60,325.31 L151.67,337.79 L151.75,300.84 L151.83,300.67 L151.91,303.74 L151.99,329.85 L152.07,314.24 L152.14,321.11 L152.22,319.27 L152.30,318.64 L152.38,316.77 L152.46,327.09 L152.54,311.03 L152.62,314.84 L152.69,320.39 L152.77,322.32 L152.85,320.92 L152.93,305.31 L153.01,323.39 L153.09,316.07 L153.16,324.39 L153.24,338.63 L153.32,309.50 L153.40,331.21 L153.48,303.69 L153.56,307.63 L153.64,328.10 L153.71,267.25 L153.79,308.04 L153.87,309.87 L153.95,316.73 L154.03,292.98 L154.11,304.93 L154.19,303.65 L154.26,315.67 L154.34,311.56 L154.42,324.72 L154.50,319.89" fill="none" stroke="#1f77b4" stroke-width="0.4" stroke-opacity="0.6"/>
<path d="M154.50,272.14 L154.52,335.42 L154.55,340.19 L154.57,337.56 L154.59,341.07 L154.62,331.03 L154.64,347.06 L154.66,337.34 L154.69,323.90 L154.71,337.98 L154.73,342.07 L154.76,336.31 L154.78,329.56 L154.80,337.04 L154.83,333.05 L154.85,335.70 L154.88,338.14 L154.90,319.96 L154.92,335.85 L154.95,338.98 L154.97,338.74 L154.99,334.25 L155.02,334.10 L155.04,332.23 L155.06,335.49 L155.09,343.60 L155.11,333.47 L155.13,337.81 L155.16,337.69 L155.18,343.86 L155.20,339.17 L155.23,339.96 L155.25,336.40 L155.28,343.71 L155.30,335.95 L155.32,335.57 L155.35,341.99 L155.37,339.44 L155.39,340.64 L155.42,331.53 L155.44,349.26 L155.46,337.99 L155.49,344.78 L155.51,338.44 L155.53,331.85 L155.56,339.47 L155.58,335.50 L155.60,340.57 L155.63,326.21 L155.65,331.50 L155.68,330.40 L155.70,343.07 L155.72,341.89 L155.75,330.64 L155.77,337.22 L155.79,337.54 L155.82,334.49 L155.84,342.69 L155.86,332.23 L155.89,336.12 L155.91,333.74 L155.93,339.67 L155.96,333.57 L155.98,339.85 L156.00,331.29 L156.03,330.39 L156.05,331.51 L156.08,333.55 L156.10,332.94 L156.12,350.17 L156.15,331.91 L156.17,337.63 L156.19,335.72 L156.22,337.68 L156.24,343.39 L156.26,338.99 L156.29,332.82 L156.31,328.90 L156.33,339.43 L156.36,340.88 L156.38,328.73 L156.40,340.77 L156.43,325.52 L156.45,335.95 L156.48,340.77 L156.50,331.14 L156.52,327.48 L156.55,343.62 L156.57,328.17 L156.59,337.67 L156.62,328.55 L156.64,338.18 L156.66,344.35 L156.69,333.62 L156.71,331.43 L156.73,325.40 L156.76,327.32 L156.78,332.63 L156.80,337.44 L156.83,338.90 L156.85,337.74 L156.88,340.50 L156.90,337.63 L156.92,349.34 L156.95,335.29 L156.97,336.36 L156.99,322.98 L157.02,332.30 L157.04,338.69 L157.06,333.30 L157.09,342.54 L157.11,339.32 L157.13,345.85 L157.16,328.81 L157.18,333.15 L157.20,342.28 L157.23,336.53 L157.25,331.31 L157.28,333.66 L157.30,334.24 L157.32,340.64 L157.35,339.50 L157.37,335.72 L157.39,331.47 L157.42,340.49 L157.44,342.00 L157.46,330.31 L157.49,341.01 L157.51,330.66 L157.53,334.96 L157.56,331.67 L157.58,327.22 L157.60,332.66 L157.63,332.21 L157.65,340.95 L157.68,339.80 L157.70,332.89 L157.72,328.30 L157.75,329.03 L157.77,324.26 L157.79,334.61 L157.82,335.17 L157.84,331.02 L157.86,336.12 L157.89,336.54 L157.91,341.62 L157.93,331.10 L157.96,341.74 L157.98,333.57 L158.00,343.53 L158.03,330.56 L158.05,341.52 L158.08,331.86 L158.10,344.41 L158.12,338.48 L158.15,330.14 L158.17,340.37 L158.19,335.87 L158.22,338.68 L158.24,348.13 L158.26,334.62 L158.29,333.98 L158.31,341.93 L158.33,333.25 L158.36,340.32 L158.38,341.39 L158.40,336.18 L158.43,339.73 L158.45,324.39 L158.48,344.24 L158.50,332.40 L158.52,331.11 L158.55,346.42 L158.57,345.15 L158.59,333.31 L158.62,338.70 L158.64,334.24 L158.66,330.34 L158.69,338.13 L158.71,341.70 L158.73,350.29 L158.76,335.16 L158.78,341.00 L158.80,334.60 L158.83,335.02 L158.85,343.36 L158.88,327.32 L158.90,330.63 L158.92,331.84 L158.95,342.32 L158.97,338.32 L158.99,339.04 L159.02,338.35 L159.04,342.01 L159.06,333.97 L159.09,335.03 L159.11,334.33 L159.13,338.82 L159.16,329.55 L159.18,335.25 L159.20,350.34 L159.23,339.52 L159.25,336.51 L159.28,331.23 L159.30,337.77 L159.32,337.50 L159.35,339.63 L159.37,332.78 L159.39,338.52 L159.42,339.33 L159.44,340.04 L159.46,333.34 L159.49,338.96 L159.51,344.86 L159.53,333.00 L159.56,339.83 L159.58,334.37 L159.60,334.29 L159.63,330.01 L159.65,330.83 L159.68,339.18 L159.70,337.07 L159.72,342.87 L159.75,327.56 L159.77,333.94 L159.79,329.02 L159.82,337.86 L159.84,346.78 L159.86,328.31 L159.89,335.73 L159.91,335.53 L159.93,335.93 L159.96,332.89 L159.98,333.46 L160.00,344.42 L160.03,330.61 L160.05,338.94 L160.08,338.62 L160.10,327.30 L160.12,331.47 L160.15,337.96 L160.17,345.79 L160.19,335.38 L160.22,333.44 L160.24,336.63 L160.26,342.64 L160.29,340.29 L160.31,342.69 L160.33,335.10 L160.36,331.99 L160.38,330.92 L160.40,339.99 L160.43,335.00 L160.45,333.36 L160.48,338.85 L160.50,336.98 L160.52,325.26 L160.55,335.16 L160.57,331.66 L160.59,338.46 L160.62,336.00 L160.64,345.06 L160.66,336.34 L160.69,330.06 L160.71,325.39 L160.73,330.04 L160.76,332.67 L160.78,335.94 L160.80,339.31 L160.83,337.04 L160.85,333.05 L160.88,340.26 L160.90,331.40 L160.92,341.29 L160.95,345.39 L160.97,341.43 L160.99,344.80 L161.02,343.29 L161.04,330.37 L161.06,337.25 L161.09,335.09 L161.11,330.24 L161.13,329.72 L161.16,338.82 L161.18,329.36 L161.20,334.23 L161.23,336.20 L161.25,333.93 L161.28,343.57 L161.30,340.27 L161.32,336.77 L161.35,333.07 L161.37,338.13 L161.39,336.87 L161.42,331.21 L161.44,328.93 L161.46,332.26 L161.49,329.67 L161.51,338.30 L161.53,337.79 L161.56,334.57 L161.58,337.77 L161.60,338.83 L161.63,327.69 L161.65,337.25 L161.68,341.20 L161.70,333.70 L161.72,326.74 L161.75,335.80 L161.77,329.86 L161.79,338.47 L161.82,338.75 L161.84,339.77 L161.86,336.95 L161.89,326.74 L161.91,342.17 L161.93,327.77 L161.96,341.42 L161.98,337.42 L162.00,331.90 L162.03,332.96 L162.05,334.76 L162.08,344.72 L162.10,334.35 L162.12,341.49 L162.15,322.96 L162.17,337.31 L162.19,335.24 L162.22,342.13 L162.24,338.68 L162.26,342.87 L162.29,331.15 L162.31,337.57 L162.33,333.31 L162.36,339.75 L162.38,338.80 L162.40,329.57 L162.43,341.23 L162.45,345.51 L162.48,334.12 L162.50,342.10 L162.52,338.48 L162.55,331.51 L162.57,340.44 L162.59,331.68 L162.62,339.73 L162.64,328.52 L162.66,329.38 L162.69,338.65 L162.71,337.31 L162.73,340.51 L162.76,335.18 L162.78,330.29 L162.80,343.68 L162.83,331.48 L162.85,343.04 L162.88,340.65 L162.90,345.44 L162.92,325.36 L162.95,335.91 L162.97,334.95 L162.99,339.70 L163.02,330.71 L163.04,347.06 L163.06,336.08 L163.09,324.83 L163.11,338.18 L163.13,336.13 L163.16,332.75 L163.18,340.40 L163.20,336.10 L163.23,331.26 L163.25,335.21 L163.28,334.30 L163.30,338.02 L163.32,334.59 L163.35,335.93 L163.37,328.71 L163.39,332.48 L163.42,337.47 L163.44,348.84 L163.46,332.52 L163.49,332.32 L163.51,340.94 L163.53,346.52 L163.56,342.10 L163.58,331.44 L163.60,341.71 L163.63,338.58 L163.65,335.08 L163.68,329.90 L163.70,336.31 L163.72,336.73 L163.75,339.05 L163.77,327.80 L163.79,330.72 L163.82,336.70 L163.84,343.42 L163.86,340.29 L163.89,333.22 L163.91,339.94 L163.93,331.61 L163.96,334.35 L163.98,334.70 L164.00,332.84 L164.03,333.64 L164.05,340.63 L164.08,337.89 L164.10,324.14 L164.12,342.44 L164.15,338.66 L164.17,330.72 L164.19,337.04 L164.22,340.40 L164.24,343.04 L164.26,333.45 L164.29,330.95 L164.31,328.99 L164.33,335.94 L164.36,330.82 L164.38,341.54 L164.40,335.35 L164.43,339.71 L164.45,335.32 L164.48,332.34 L164.50,330.70 L164.52,341.32 L164.55,329.68 L164.57,338.66 L164.59,341.51 L164.62,337.09 L164.64,343.76 L164.66,336.19 L164.69,334.72 L164.71,337.25 L164.73,333.45 L164.76,337.84 L164.78,336.19 L164.80,343.65 L164.83,335.99 L164.85,340.60 L164.88,338.53 L164.90,336.70 L164.92,335.23 L164.95,344.71 L164.97,344.28 L164.99,337.77 L165.02,333.77 L165.04,334.36 L165.06,331.61 L165.09,329.50 L165.11,333.65 L165.13,336.32 L165.16,341.53 L165.18,341.09 L165.20,338.62 L165.23,334.83 L165.25,335.08 L165.27,336.19 L165.30,337.00 L165.32,332.96 L165.35,335.14 L165.37,334.68 L165.39,334.62 L165.42,339.03 L165.44,341.53 L165.46,333.68 L165.49,334.06 L165.51,337.35 L165.53,338.36 L165.56,324.46 L165.58,340.13 L165.60,337.34 L165.63,334.84 L165.65,342.17 L165.67,335.61 L165.70,326.94 L165.72,331.40 L165.75,332.95 L165.77,333.16 L165.79,335.64 L165.82,331.27 L165.84,337.02 L165.86,338.40 L165.89,335.69 L165.91,331.54 L165.93,334.51 L165.96,332.73 L165.98,346.66 L166.00,330.06 L166.03,324.14 L166.05,329.33 L166.07,337.85 L166.10,340.59 L166.12,334.78 L166.15,341.31 L166.17,332.47 L166.19,338.92 L166.22,331.26 L166.24,329.19 L166.26,346.70 L166.29,334.70 L166.31,339.82 L166.33,343.49 L166.36,339.40 L166.38,337.34 L166.40,324.46 L166.43,344.06 L166.45,330.79 L166.47,325.80 L166.50,333.13 L166.52,333.40 L166.55,336.28 L166.57,342.28 L166.59,333.46 L166.62,334.23 L166.64,332.44 L166.66,322.96 L166.69,332.46 L166.71,334.02 L166.73,328.16 L166.76,343.15 L166.78,342.11 L166.80,338.15 L166.83,339.59 L166.85,332.63 L166.87,337.85 L166.90,327.24 L166.92,328.37 L166.95,332.24 L166.97,338.21 L166.99,333.03 L167.02,332.03 L167.04,341.72 L167.06,334.41 L167.09,332.57 L167.11,335.10 L167.13,328.11 L167.16,329.95 L167.18,340.47 L167.20,335.57 L167.23,340.52 L167.25,333.22 L167.27,340.69 L167.30,331.45 L167.32,334.21 L167.35,331.21 L167.37,336.96 L167.39,343.73 L167.42,327.10 L167.44,337.10 L167.46,329.11 L167.49,333.99 L167.51,332.74 L167.53,326.78 L167.56,334.46 L167.58,328.99 L167.60,343.87 L167.63,331.72 L167.65,337.46 L167.67,336.91 L167.70,336.17 L167.72,334.43 L167.75,327.67 L167.77,345.78 L167.79,335.99 L167.82,339.91 L167.84,330.20 L167.86,338.40 L167.89,333.86 L167.91,338.26 L167.93,332.77 L167.96,330.98 L167.98,338.26 L168.00,335.96 L168.03,343.54 L168.05,334.64 L168.07,331.80 L168.10,339.08 L168.12,330.43 L168.15,346.91 L168.17,345.76 L168.19,343.38 L168.22,338.71 L168.24,336.12 L168.26,336.62 L168.29,336.56 L168.31,332.48 L168.33,338.65 L168.36,342.73 L168.38,342.63 L168.40,325.32 L168.43,348.35 L168.45,337.12 L168.47,328.69 L168.50,333.72 L168.52,340.49 L168.55,336.20 L168.57,331.76 L168.59,329.98 L168.62,340.85 L168.64,332.29 L168.66,334.91 L168.69,330.52 L168.71,329.04 L168.73,337.98 L168.76,343.69 L168.78,334.17 L168.80,327.05 L168.83,332.68 L168.85,335.03 L168.87,323.83 L168.90,341.58 L168.92,331.56 L168.95,339.16 L168.97,335.96 L168.99,335.75 L169.02,328.40 L169.04,341.04 L169.06,338.97 L169.09,344.43 L169.11,333.70 L169.13,338.58 L169.16,334.04 L169.18,341.75 L169.20,338.07 L169.23,330.85 L169.25,337.11 L169.27,332.99 L169.30,333.49 L169.32,338.04 L169.35,344.26 L169.37,331.13 L169.39,335.33 L169.42,331.14 L169.44,346.60 L169.46,344.75 L169.49,347.27 L169.51,340.74 L169.53,330.84 L169.56,333.29 L169.58,336.39 L169.60,335.54 L169.63,332.29 L169.65,337.77 L169.67,334.17 L169.70,335.49 L169.72,347.50 L169.75,338.20 L169.77,329.20 L169.79,338.26 L169.82,336.95 L169.84,339.34 L169.86,338.71 L169.89,330.42 L169.91,337.60 L169.93,341.49 L169.96,352.26 L169.98,339.17 L170.00,346.36 L170.03,345.62 L170.05,332.11 L170.07,332.56 L170.10,346.10 L170.12,331.82 L170.15,333.84 L170.17,340.26 L170.19,332.43 L170.22,344.61 L170.24,342.43 L170.26,343.64 L170.29,341.95 L170.31,331.68 L170.33,343.09 L170.36,342.15 L170.38,341.12 L170.40,335.21 L170.43,337.97 L170.45,331.77 L170.47,339.88 L170.50,342.87 L170.52,338.81 L170.55,336.03 L170.57,341.03 L170.59,334.80 L170.62,326.87 L170.64,339.25 L170.66,336.03 L170.69,329.28 L170.71,339.61 L170.73,340.64 L170.76,341.92 L170.78,334.23 L170.80,333.63 L170.83,337.06 L170.85,336.08 L170.87,329.73 L170.90,331.83 L170.92,343.54 L170.95,336.37 L170.97,335.78 L170.99,332.61 L171.02,337.49 L171.04,339.67 L171.06,338.71 L171.09,345.52 L171.11,336.48 L171.13,339.43 L171.16,333.95 L171.18,341.66 L171.20,338.62 L171.23,341.42 L171.25,341.88 L171.27,332.77 L171.30,338.78 L171.32,334.10 L171.35,342.17 L171.37,335.90 L171.39,345.11 L171.42,338.87 L171.44,339.00 L171.46,333.41 L171.49,335.49 L171.51,337.32 L171.53,332.10 L171.56,335.44 L171.58,333.66 L171.60,332.48 L171.63,336.78 L171.65,337.95 L171.67,334.75 L171.70,338.59 L171.72,334.44 L171.75,330.73 L171.77,332.04 L171.79,338.41 L171.82,343.07 L171.84,336.73 L171.86,337.10 L171.89,330.75 L171.91,338.42 L171.93,337.53 L171.96,332.66 L171.98,338.91 L172.00,337.27 L172.03,327.63 L172.05,328.78 L172.07,333.21 L172.10,335.07 L172.12,341.45 L172.15,333.58 L172.17,336.16 L172.19,335.32 L172.22,339.13 L172.24,336.52 L172.26,337.41 L172.29,334.83 L172.31,329.11 L172.33,334.60 L172.36,344.99 L172.38,341.45 L172.40,344.61 L172.43,340.54 L172.45,333.58 L172.47,334.40 L172.50,339.54 L172.52,335.09 L172.55,340.36 L172.57,343.77 L172.59,343.70 L172.62,340.88 L172.64,329.15 L172.66,343.37 L172.69,330.06 L172.71,329.63 L172.73,337.40 L172.76,336.72 L172.78,339.62 L172.80,336.60 L172.83,333.08 L172.85,336.42 L172.87,331.34 L172.90,330.37 L172.92,334.71 L172.95,334.79 L172.97,336.79 L172.99,334.69 L173.02,342.21 L173.04,334.39 L173.06,335.42 L173.09,340.92 L173.11,325.40 L173.13,341.48 L173.16,340.95 L173.18,335.05 L173.20,346.46 L173.23,343.82 L173.25,344.33 L173.27,341.46 L173.30,337.17 L173.32,334.84 L173.35,330.80 L173.37,332.34 L173.39,330.39 L173.42,333.46 L173.44,338.90 L173.46,330.75 L173.49,339.00 L173.51,339.65 L173.53,328.62 L173.56,332.43 L173.58,335.36 L173.60,332.62 L173.63,331.97 L173.65,343.51 L173.67,336.98 L173.70,342.57 L173.72,335.87 L173.75,339.95 L173.77,329.50 L173.79,333.83 L173.82,340.68 L173.84,336.59 L173.86,342.74 L173.89,336.29 L173.91,333.68 L173.93,335.14 L173.96,346.45 L173.98,338.23 L174.00,333.88 L174.03,334.93 L174.05,330.53 L174.07,343.13 L174.10,333.81 L174.12,339.86 L174.15,335.50 L174.17,334.42 L174.19,332.97 L174.22,339.48 L174.24,335.55 L174.26,342.53 L174.29,343.78 L174.31,333.65 L174.33,336.79 L174.36,344.86 L174.38,340.89 L174.40,336.41 L174.43,328.49 L174.45,331.12 L174.47,332.40 L174.50,345.72 L174.52,337.01 L174.55,334.05 L174.57,334.48 L174.59,334.37 L174.62,337.72 L174.64,327.45 L174.66,328.90 L174.69,337.00 L174.71,341.57 L174.73,325.92 L174.76,339.36 L174.78,330.34 L174.80,326.67 L174.83,341.38 L174.85,335.02 L174.87,338.31 L174.90,333.86 L174.92,334.86 L174.95,326.48 L174.97,333.47 L174.99,336.56 L175.02,330.71 L175.04,337.92 L175.06,338.40 L175.09,324.97 L175.11,340.75 L175.13,339.04 L175.16,336.29 L175.18,341.97 L175.20,347.39 L175.23,331.07 L175.25,340.56 L175.27,339.31 L175.30,338.44 L175.32,341.58 L175.35,342.06 L175.37,335.69 L175.39,324.15 L175.42,332.72 L175.44,332.66 L175.46,344.28 L175.49,336.64 L175.51,342.62 L175.53,332.53 L175.56,337.69 L175.58,336.32 L175.60,336.97 L175.63,339.53 L175.65,344.37 L175.67,333.53 L175.70,343.65 L175.72,342.61 L175.75,338.05 L175.77,340.16 L175.79,335.17 L175.82,331.31 L175.84,335.23 L175.86,335.50 L175.89,336.40 L175.91,332.09 L175.93,346.04 L175.96,334.62 L175.98,341.33 L176.00,342.88 L176.03,336.49 L176.05,338.52 L176.07,333.51 L176.10,330.84 L176.12,348.52 L176.15,336.89 L176.17,326.42 L176.19,332.04 L176.22,329.06 L176.24,335.99 L176.26,343.92 L176.29,342.32 L176.31,332.85 L176.33,331.57 L176.36,340.29 L176.38,337.90 L176.40,335.17 L176.43,345.55 L176.45,338.32 L176.47,328.17 L176.50,325.24 L176.52,337.08 L176.55,327.07 L176.57,339.23 L176.59,340.70 L176.62,348.06 L176.64,331.58 L176.66,338.45 L176.69,324.45 L176.71,334.81 L176.73,335.54 L176.76,345.83 L176.78,328.78 L176.80,338.39 L176.83,337.34 L176.85,347.90 L176.87,331.73 L176.90,331.41 L176.92,339.64 L176.95,336.03 L176.97,334.49 L176.99,331.54 L177.02,335.97 L177.04,327.62 L177.06,337.76 L177.09,339.63 L177.11,338.91 L177.13,349.60 L177.16,340.67 L177.18,331.31 L177.20,335.14 L177.23,340.73 L177.25,334.70 L177.27,346.91 L177.30,337.97 L177.32,333.79 L177.35,332.90 L177.37,340.49 L177.39,331.79 L177.42,326.85 L177.44,338.70 L177.46,332.67 L177.49,344.53 L177.51,346.61 L177.53,329.36 L177.56,336.27 L177.58,335.46 L177.60,339.50 L177.63,338.00 L177.65,332.30 L177.67,327.62 L177.70,337.60 L177.72,345.00 L177.75,329.91 L177.77,333.37 L177.79,332.96 L177.82,335.54 L177.84,324.49 L177.86,336.09 L177.89,333.83 L177.91,346.04 L177.93,339.47 L177.96,340.02 L177.98,336.63 L178.00,334.68 L178.03,340.35 L178.05,327.55 L178.07,341.98 L178.10,338.80 L178.12,335.25 L178.15,342.93 L178.17,333.53 L178.19,333.21 L178.22,337.99 L178.24,326.62 L178.26,336.06 L178.29,335.03 L178.31,341.43 L178.33,345.12 L178.36,339.74 L178.38,338.14 L178.40,338.83 L178.43,332.51 L178.45,348.80 L178.47,342.33 L178.50,345.90 L178.52,329.55 L178.55,339.39 L178.57,339.14 L178.59,342.16 L178.62,331.83 L178.64,338.60 L178.66,335.33 L178.69,346.98 L178.71,330.43 L178.73,334.44 L178.76,333.63 L178.78,330.09 L178.80,337.47 L178.83,337.34 L178.85,332.76 L178.87,334.27 L178.90,337.74 L178.92,336.24 L178.94,339.07 L178.97,332.78 L178.99,331.65 L179.02,336.44 L179.04,326.76 L179.06,344.41 L179.09,337.67 L179.11,327.62 L179.13,338.64 L179.16,344.73 L179.18,329.25 L179.20,333.64 L179.23,342.64 L179.25,332.46 L179.27,341.75 L179.30,343.39 L179.32,337.25 L179.34,338.95 L179.37,342.14 L179.39,338.35 L179.42,341.65 L179.44,336.15 L179.46,336.58 L179.49,332.61 L179.51,338.81 L179.53,343.35 L179.56,343.28 L179.58,337.73 L179.60,328.52 L179.63,332.07 L179.65,339.77 L179.67,331.59 L179.70,342.46 L179.72,331.22 L179.74,338.44 L179.77,332.48 L179.79,333.24 L179.82,337.89 L179.84,334.76 L179.86,341.98 L179.89,336.84 L179.91,330.85 L179.93,315.26 L179.96,332.82 L179.98,336.00 L180.00,341.69 L180.03,330.98 L180.05,345.02 L180.07,340.61 L180.10,334.60 L180.12,342.69 L180.14,328.48 L180.17,330.80 L180.19,339.39 L180.22,339.33 L180.24,343.28 L180.26,343.70 L180.29,334.16 L180.31,333.23 L180.33,334.63 L180.36,335.08 L180.38,339.35 L180.40,334.59 L180.43,344.07 L180.45,336.41 L180.47,328.82 L180.50,329.61 L180.52,338.85 L180.54,338.18 L180.57,329.32 L180.59,327.20 L180.62,344.20 L180.64,338.66 L180.66,335.24 L180.69,330.14 L180.71,340.79 L180.73,333.12 L180.76,338.01 L180.78,324.15 L180.80,334.22 L180.83,337.15 L180.85,338.18 L180.87,330.98 L180.90,332.93 L180.92,342.06 L180.94,335.32 L180.97,343.38 L180.99,340.36 L181.02,343.15 L181.04,343.31 L181.06,340.00 L181.09,341.52 L181.11,333.71 L181.13,332.32 L181.16,337.68 L181.18,342.24 L181.20,332.28 L181.23,346.93 L181.25,346.45 L181.27,332.68 L181.30,333.05 L181.32,331.40 L181.34,337.56 L181.37,342.98 L181.39,339.08 L181.42,333.51 L181.44,340.42 L181.46,340.08 L181.49,343.67 L181.51,342.47 L181.53,332.08 L181.56,334.09 L181.58,342.46 L181.60,342.04 L181.63,339.36 L181.65,333.61 L181.67,342.50 L181.70,337.32 L181.72,347.56 L181.74,342.96 L181.77,334.26 L181.79,331.79 L181.82,342.43 L181.84,340.45 L181.86,332.31 L181.89,338.47 L181.91,339.25 L181.93,333.76 L181.96,335.43 L181.98,330.68 L182.00,332.33 L182.03,339.43 L182.05,337.06 L182.07,336.75 L182.10,343.47 L182.12,341.48 L182.14,331.41 L182.17,344.66 L182.19,331.29 L182.22,334.96 L182.24,337.16 L182.26,333.65 L182.29,333.97 L182.31,330.17 L182.33,338.51 L182.36,337.62 L182.38,337.71 L182.40,326.69 L182.43,331.54 L182.45,341.22 L182.47,338.16 L182.50,340.08 L182.52,336.36 L182.54,335.32 L182.57,324.56 L182.59,345.87 L182.62,331.10 L182.64,334.16 L182.66,340.06 L182.69,337.20 L182.71,338.99 L182.73,336.16 L182.76,331.21 L182.78,344.27 L182.80,329.62 L182.83,338.35 L182.85,328.64 L182.87,334.28 L182.90,330.03 L182.92,333.48 L182.94,330.79 L182.97,336.11 L182.99,340.71 L183.02,332.92 L183.04,332.72 L183.06,325.54 L183.09,346.76 L183.11,337.42 L183.13,330.90 L183.16,342.88 L183.18,337.57 L183.20,325.44 L183.23,329.06 L183.25,340.94 L183.27,329.01 L183.30,330.26 L183.32,332.36 L183.34,334.41 L183.37,335.15 L183.39,340.88 L183.42,339.05 L183.44,332.59 L183.46,335.65 L183.49,326.81 L183.51,338.10 L183.53,348.78 L183.56,338.10 L183.58,334.93 L183.60,334.39 L183.63,336.02 L183.65,340.61 L183.67,328.64 L183.70,339.79 L183.72,332.69 L183.74,337.84 L183.77,342.54 L183.79,329.05 L183.82,349.32 L183.84,340.75 L183.86,334.12 L183.89,338.19 L183.91,332.47 L183.93,336.86 L183.96,338.68 L183.98,325.18 L184.00,337.47 L184.03,337.15 L184.05,341.93 L184.07,340.19 L184.10,332.98 L184.12,333.42 L184.14,336.32 L184.17,339.94 L184.19,332.78 L184.22,345.12 L184.24,338.08 L184.26,337.62 L184.29,340.68 L184.31,335.52 L184.33,339.76 L184.36,340.45 L184.38,327.00 L184.40,332.48 L184.43,330.11 L184.45,336.03 L184.47,331.31 L184.50,332.26 L184.52,330.02 L184.54,324.06 L184.57,337.45 L184.59,334.94 L184.62,336.54 L184.64,354.41 L184.66,343.47 L184.69,336.17 L184.71,332.99 L184.73,339.23 L184.76,330.40 L184.78,329.63 L184.80,338.38 L184.83,328.90 L184.85,327.21 L184.87,333.85 L184.90,341.30 L184.92,328.66 L184.94,337.08 L184.97,338.18 L184.99,335.63 L185.02,339.00 L185.04,330.69 L185.06,332.21 L185.09,329.93 L185.11,333.22 L185.13,340.31 L185.16,337.04 L185.18,331.70 L185.20,338.31 L185.23,321.15 L185.25,337.46 L185.27,339.24 L185.30,330.29 L185.32,332.36 L185.34,336.36 L185.37,337.40 L185.39,334.01 L185.42,331.90 L185.44,332.28 L185.46,337.77 L185.49,333.99 L185.51,331.86 L185.53,332.27 L185.56,352.13 L185.58,340.81 L185.60,340.22 L185.63,337.40 L185.65,335.29 L185.67,331.46 L185.70,333.03 L185.72,336.87 L185.74,336.09 L185.77,327.14 L185.79,339.37 L185.82,334.64 L185.84,328.14 L185.86,334.43 L185.89,346.76 L185.91,334.28 L185.93,338.21 L185.96,336.80 L185.98,330.79 L186.00,333.79 L186.03,337.58 L186.05,331.61 L186.07,333.97 L186.10,335.67 L186.12,334.66 L186.14,334.91 L186.17,337.97 L186.19,338.58 L186.22,336.08 L186.24,341.14 L186.26,342.71 L186.29,329.50 L186.31,337.45 L186.33,336.34 L186.36,336.91 L186.38,336.09 L186.40,336.10 L186.43,335.88 L186.45,340.37 L186.47,331.41 L186.50,339.78 L186.52,330.88 L186.54,346.11 L186.57,341.69 L186.59,331.10 L186.62,336.98 L186.64,339.68 L186.66,334.28 L186.69,341.61 L186.71,335.82 L186.73,347.64 L186.76,338.55 L186.78,339.57 L186.80,333.43 L186.83,331.70 L186.85,340.62 L186.87,327.91 L186.90,339.27 L186.92,346.82 L186.94,348.49 L186.97,328.28 L186.99,336.67 L187.02,339.55 L187.04,340.07 L187.06,341.85 L187.09,329.24 L187.11,336.65 L187.13,326.98 L187.16,337.24 L187.18,348.34 L187.20,331.86 L187.23,338.11 L187.25,337.44 L187.27,328.13 L187.30,337.57 L187.32,330.22 L187.34,336.24 L187.37,340.09 L187.39,333.60 L187.42,339.31 L187.44,312.87 L187.46,331.26 L187.49,335.89 L187.51,333.07 L187.53,333.30 L187.56,337.64 L187.58,331.60 L187.60,337.39 L187.63,333.04 L187.65,341.12 L187.67,335.69 L187.70,334.07 L187.72,340.28 L187.74,338.35 L187.77,338.95 L187.79,332.44 L187.82,339.91 L187.84,333.94 L187.86,328.33 L187.89,334.35 L187.91,344.50 L187.93,335.54 L187.96,330.82 L187.98,337.66 L188.00,330.46 L188.03,332.99 L188.05,334.01 L188.07,337.52 L188.10,338.82 L188.12,337.49 L188.14,335.85 L188.17,333.47 L188.19,334.00 L188.22,337.72 L188.24,335.83 L188.26,334.16 L188.29,344.54 L188.31,340.12 L188.33,340.28 L188.36,337.20 L188.38,337.57 L188.40,337.48 L188.43,340.65 L188.45,332.68 L188.47,334.71 L188.50,344.62 L188.52,336.07 L188.54,341.95 L188.57,327.36 L188.59,338.49 L188.62,338.17 L188.64,335.70 L188.66,337.17 L188.69,336.43 L188.71,328.15 L188.73,334.96 L188.76,331.82 L188.78,330.31 L188.80,341.16 L188.83,327.41 L188.85,332.58 L188.87,331.19 L188.90,340.58 L188.92,331.91 L188.94,333.99 L188.97,338.89 L188.99,324.35 L189.02,333.20 L189.04,337.35 L189.06,335.12 L189.09,331.42 L189.11,330.29 L189.13,333.12 L189.16,329.84 L189.18,328.53 L189.20,342.48 L189.23,338.62 L189.25,340.96 L189.27,335.61 L189.30,328.67 L189.32,332.74 L189.34,341.51 L189.37,337.63 L189.39,330.81 L189.42,338.85 L189.44,336.61 L189.46,334.54 L189.49,345.51 L189.51,332.09 L189.53,334.34 L189.56,333.18 L189.58,341.16 L189.60,340.07 L189.63,339.19 L189.65,334.82 L189.67,335.75 L189.70,335.45 L189.72,326.87 L189.74,329.38 L189.77,339.82 L189.79,339.48 L189.82,327.26 L189.84,337.75 L189.86,329.00 L189.89,327.86 L189.91,338.91 L189.93,337.50 L189.96,335.68 L189.98,340.57 L190.00,341.16 L190.03,338.18 L190.05,331.71 L190.07,338.42 L190.10,337.18 L190.12,338.51 L190.14,343.15 L190.17,328.45 L190.19,348.19 L190.22,339.48 L190.24,333.23 L190.26,343.31 L190.29,332.99 L190.31,329.65 L190.33,340.55 L190.36,335.04 L190.38,341.84 L190.40,333.50 L190.43,335.66 L190.45,335.00 L190.47,329.07 L190.50,333.68 L190.52,329.17 L190.54,332.84 L190.57,342.30 L190.59,334.77 L190.62,333.59 L190.64,343.57 L190.66,329.24 L190.69,335.76 L190.71,334.22 L190.73,340.74 L190.76,335.74 L190.78,334.57 L190.80,337.80 L190.83,335.70 L190.85,347.05 L190.87,329.09 L190.90,341.86 L190.92,347.37 L190.94,341.07 L190.97,340.42 L190.99,333.31 L191.02,340.83 L191.04,334.65 L191.06,341.07 L191.09,324.73 L191.11,333.31 L191.13,326.03 L191.16,341.35 L191.18,332.70 L191.20,341.05 L191.23,333.14 L191.25,332.63 L191.27,344.35 L191.30,341.99 L191.32,342.14 L191.34,343.88 L191.37,339.90 L191.39,341.08 L191.42,343.59 L191.44,335.63 L191.46,333.32 L191.49,342.92 L191.51,339.01 L191.53,336.10 L191.56,337.34 L191.58,339.76 L191.60,331.96 L191.63,331.78 L191.65,332.64 L191.67,337.22 L191.70,325.90 L191.72,327.17 L191.74,338.23 L191.77,336.77 L191.79,330.02 L191.82,340.28 L191.84,334.10 L191.86,335.92 L191.89,339.79 L191.91,337.35 L191.93,344.27 L191.96,338.96 L191.98,346.46 L192.00,324.40 L192.03,328.40 L192.05,329.83 L192.07,334.61 L192.10,331.02 L192.12,329.61 L192.14,330.93 L192.17,331.44 L192.19,340.88 L192.21,333.97 L192.24,338.94 L192.26,342.27 L192.29,342.07 L192.31,333.98 L192.33,330.75 L192.36,343.24 L192.38,327.18 L192.40,328.61 L192.43,338.15 L192.45,338.58 L192.47,336.57 L192.50,331.13 L192.52,338.17 L192.54,341.90 L192.57,334.43 L192.59,346.85 L192.61,335.48 L192.64,330.23 L192.66,334.63 L192.69,332.18 L192.71,333.66 L192.73,332.46 L192.76,335.46 L192.78,340.49 L192.80,337.37 L192.83,336.59 L192.85,329.72 L192.87,327.83 L192.90,334.04 L192.92,340.10 L192.94,339.98 L192.97,337.18 L192.99,329.05 L193.01,334.49 L193.04,336.50 L193.06,340.16 L193.09,331.66 L193.11,334.72 L193.13,336.48 L193.16,335.68 L193.18,327.51 L193.20,337.04 L193.23,327.50 L193.25,329.81 L193.27,335.94 L193.30,331.65 L193.32,336.85 L193.34,340.49 L193.37,337.60 L193.39,340.89 L193.41,333.58 L193.44,336.14 L193.46,333.28 L193.49,331.95 L193.51,352.31 L193.53,334.61 L193.56,345.51 L193.58,335.35 L193.60,340.74 L193.63,335.68 L193.65,329.17 L193.67,345.02 L193.70,335.23 L193.72,336.62 L193.74,345.98 L193.77,332.87 L193.79,336.04 L193.81,338.84 L193.84,339.94 L193.86,319.64 L193.89,338.25 L193.91,345.50 L193.93,341.02 L193.96,338.11 L193.98,338.20 L194.00,336.62 L194.03,341.61 L194.05,333.42 L194.07,338.71 L194.10,343.23 L194.12,340.42 L194.14,338.20 L194.17,331.84 L194.19,333.71 L194.21,337.96 L194.24,336.11 L194.26,335.10 L194.29,325.70 L194.31,339.40 L194.33,333.80 L194.36,332.47 L194.38,341.13 L194.40,335.24 L194.43,335.37 L194.45,338.64 L194.47,333.29 L194.50,330.91 L194.52,330.38 L194.54,337.20 L194.57,335.23 L194.59,324.09 L194.61,341.91 L194.64,335.07 L194.66,331.62 L194.69,335.44 L194.71,332.83 L194.73,335.32 L194.76,332.33 L194.78,329.60 L194.80,337.36 L194.83,335.20 L194.85,336.50 L194.87,338.30 L194.90,336.32 L194.92,342.05 L194.94,332.37 L194.97,327.43 L194.99,327.42 L195.01,329.63 L195.04,341.19 L195.06,328.37 L195.09,339.90 L195.11,336.49 L195.13,326.69 L195.16,341.74 L195.18,331.87 L195.20,334.76 L195.23,337.00 L195.25,340.73 L195.27,334.03 L195.30,338.61 L195.32,330.82 L195.34,329.90 L195.37,343.33 L195.39,338.82 L195.41,337.86 L195.44,342.31 L195.46,341.98 L195.49,335.76 L195.51,337.29 L195.53,344.74 L195.56,338.99 L195.58,333.54 L195.60,342.44 L195.63,340.98 L195.65,328.02 L195.67,329.42 L195.70,344.58 L195.72,343.18 L195.74,334.27 L195.77,342.36 L195.79,337.52 L195.81,338.54 L195.84,333.32 L195.86,349.26 L195.89,347.58 L195.91,342.54 L195.93,330.98 L195.96,337.01 L195.98,345.03 L196.00,333.67 L196.03,332.56 L196.05,337.48 L196.07,337.92 L196.10,333.96 L196.12,329.97 L196.14,335.43 L196.17,333.46 L196.19,336.46 L196.21,338.18 L196.24,340.94 L196.26,334.89 L196.29,337.76 L196.31,337.47 L196.33,331.42 L196.36,333.70 L196.38,331.73 L196.40,344.34 L196.43,333.33 L196.45,339.26 L196.47,340.38 L196.50,340.61 L196.52,329.97 L196.54,331.94 L196.57,339.91 L196.59,342.08 L196.61,336.14 L196.64,338.58 L196.66,327.65 L196.69,343.75 L196.71,345.65 L196.73,337.53 L196.76,336.16 L196.78,335.53 L196.80,332.33 L196.83,325.52 L196.85,337.98 L196.87,339.02 L196.90,345.29 L196.92,334.96 L196.94,331.81 L196.97,337.56 L196.99,330.12 L197.01,336.06 L197.04,328.40 L197.06,334.50 L197.09,341.67 L197.11,339.50 L197.13,344.13 L197.16,345.17 L197.18,334.84 L197.20,331.73 L197.23,326.13 L197.25,336.50 L197.27,337.44 L197.30,341.93 L197.32,331.12 L197.34,334.21 L197.37,339.28 L197.39,332.66 L197.41,333.32 L197.44,345.86 L197.46,332.38 L197.49,335.51 L197.51,338.23 L197.53,338.37 L197.56,327.19 L197.58,328.29 L197.60,326.79 L197.63,342.14 L197.65,339.59 L197.67,331.54 L197.70,342.45 L197.72,339.93 L197.74,345.52 L197.77,326.65 L197.79,330.73 L197.81,333.85 L197.84,335.08 L197.86,338.37 L197.89,338.27 L197.91,333.04 L197.93,339.89 L197.96,329.88 L197.98,338.75 L198.00,340.72 L198.03,329.52 L198.05,336.96 L198.07,333.35 L198.10,338.35 L198.12,347.82 L198.14,333.39 L198.17,343.16 L198.19,330.63 L198.21,344.21 L198.24,345.83 L198.26,334.63 L198.29,334.02 L198.31,335.66 L198.33,342.47 L198.36,331.63 L198.38,343.77 L198.40,338.61 L198.43,340.28 L198.45,338.16 L198.47,331.81 L198.50,339.48 L198.52,333.30 L198.54,332.63 L198.57,345.04 L198.59,342.23 L198.61,338.19 L198.64,339.27 L198.66,334.63 L198.69,346.18 L198.71,332.50 L198.73,332.37 L198.76,337.08 L198.78,343.35 L198.80,336.19 L198.83,338.99 L198.85,333.29 L198.87,336.65 L198.90,332.46 L198.92,338.45 L198.94,328.77 L198.97,348.10 L198.99,341.46 L199.01,333.68 L199.04,344.01 L199.06,332.42 L199.09,342.49 L199.11,335.73 L199.13,340.93 L199.16,338.49 L199.18,335.31 L199.20,336.75 L199.23,338.18 L199.25,325.11 L199.27,336.17 L199.30,341.22 L199.32,331.43 L199.34,331.98 L199.37,329.91 L199.39,326.99 L199.41,341.06 L199.44,330.75 L199.46,330.34 L199.49,336.21 L199.51,334.95 L199.53,351.70 L199.56,339.17 L199.58,326.99 L199.60,345.43 L199.63,338.98 L199.65,334.73 L199.67,333.24 L199.70,327.80 L199.72,345.31 L199.74,335.99 L199.77,331.78 L199.79,342.99 L199.81,336.42 L199.84,326.49 L199.86,329.42 L199.89,333.43 L199.91,349.70 L199.93,336.89 L199.96,334.22 L199.98,337.81 L200.00,336.55 L200.03,320.31 L200.05,337.32 L200.07,341.22 L200.10,334.96 L200.12,337.84 L200.14,337.81 L200.17,336.66 L200.19,332.22 L200.21,334.99 L200.24,342.41 L200.26,336.90 L200.29,333.77 L200.31,338.63 L200.33,330.29 L200.36,332.21 L200.38,341.32 L200.40,334.56 L200.43,325.98 L200.45,328.17 L200.47,336.50 L200.50,331.58 L200.52,339.69 L200.54,343.68 L200.57,333.35 L200.59,334.94 L200.61,333.56 L200.64,336.34 L200.66,334.53 L200.69,338.86 L200.71,333.77 L200.73,331.92 L200.76,336.52 L200.78,332.01 L200.80,345.35 L200.83,340.27 L200.85,328.76 L200.87,327.13 L200.90,334.92 L200.92,336.75 L200.94,342.75 L200.97,334.34 L200.99,332.20 L201.01,343.86 L201.04,333.33 L201.06,333.68 L201.09,333.94 L201.11,342.03 L201.13,333.42 L201.16,343.94 L201.18,328.54 L201.20,335.52 L201.23,342.22 L201.25,329.27 L201.27,330.26 L201.30,339.57 L201.32,324.84 L201.34,341.39 L201.37,334.60 L201.39,330.11 L201.41,347.93 L201.44,331.05 L201.46,336.55 L201.49,336.29 L201.51,341.77 L201.53,334.50 L201.56,341.94 L201.58,341.21 L201.60,338.52 L201.63,342.55 L201.65,328.10 L201.67,343.07 L201.70,340.11 L201.72,337.85 L201.74,336.20 L201.77,332.13 L201.79,331.99 L201.81,337.78 L201.84,338.20 L201.86,336.03 L201.89,331.97 L201.91,332.62 L201.93,338.88 L201.96,346.84 L201.98,325.16 L202.00,331.31 L202.03,334.86 L202.05,334.46 L202.07,338.90 L202.10,341.38 L202.12,337.93 L202.14,337.36 L202.17,339.44 L202.19,350.16 L202.21,337.83 L202.24,333.24 L202.26,338.77 L202.29,336.10 L202.31,346.90 L202.33,337.29 L202.36,336.84 L202.38,342.54 L202.40,345.14 L202.43,334.09 L202.45,340.39 L202.47,333.69 L202.50,338.38 L202.52,333.00 L202.54,337.96 L202.57,343.99 L202.59,336.66 L202.61,337.91 L202.64,332.82 L202.66,338.54 L202.69,338.24 L202.71,331.78 L202.73,330.20 L202.76,332.30 L202.78,330.86 L202.80,333.87 L202.83,332.24 L202.85,331.68 L202.87,334.13 L202.90,335.89 L202.92,335.48 L202.94,323.81 L202.97,336.14 L202.99,337.44 L203.01,338.09 L203.04,336.39 L203.06,334.95 L203.09,342.05 L203.11,346.43 L203.13,334.69 L203.16,344.50 L203.18,334.88 L203.20,335.49 L203.23,330.27 L203.25,327.60 L203.27,334.32 L203.30,339.07 L203.32,342.27 L203.34,340.30 L203.37,336.01 L203.39,346.89 L203.41,335.83 L203.44,336.28 L203.46,332.89 L203.49,337.94 L203.51,335.69 L203.53,340.01 L203.56,338.61 L203.58,345.36 L203.60,335.58 L203.63,328.22 L203.65,335.38 L203.67,334.33 L203.70,341.28 L203.72,328.83 L203.74,340.17 L203.77,332.08 L203.79,335.66 L203.81,341.16 L203.84,330.92 L203.86,336.13 L203.89,335.29 L203.91,333.88 L203.93,336.32 L203.96,338.17 L203.98,333.81 L204.00,338.30 L204.03,335.88 L204.05,339.66 L204.07,343.90 L204.10,339.69 L204.12,338.77 L204.14,336.14 L204.17,330.10 L204.19,344.93 L204.21,335.55 L204.24,347.62 L204.26,341.61 L204.29,338.83 L204.31,347.84 L204.33,345.80 L204.36,335.42 L204.38,335.81 L204.40,336.80 L204.43,340.36 L204.45,325.10 L204.47,337.05 L204.50,340.66 L204.52,327.56 L204.54,333.05 L204.57,338.13 L204.59,330.06 L204.61,335.41 L204.64,332.90 L204.66,335.00 L204.69,341.52 L204.71,331.20 L204.73,335.39 L204.76,341.42 L204.78,340.15 L204.80,331.29 L204.83,338.12 L204.85,335.97 L204.87,332.84 L204.90,335.55 L204.92,344.09 L204.94,332.93 L204.97,331.37 L204.99,331.74 L205.01,327.87 L205.04,334.33 L205.06,332.21 L205.09,328.02 L205.11,337.71 L205.13,327.26 L205.16,327.27 L205.18,332.17 L205.20,326.72 L205.23,331.82 L205.25,340.76 L205.27,330.35 L205.30,334.53 L205.32,334.08 L205.34,335.42 L205.37,329.20 L205.39,333.36 L205.41,339.80 L205.44,333.71 L205.46,332.45 L205.49,339.96 L205.51,338.45 L205.53,338.19 L205.56,339.35 L205.58,334.41 L205.60,330.96 L205.63,326.45 L205.65,330.05 L205.67,330.94 L205.70,330.32 L205.72,329.33 L205.74,338.16 L205.77,332.64 L205.79,334.55 L205.81,336.88 L205.84,338.56 L205.86,338.82 L205.88,337.60 L205.91,342.58 L205.93,333.52 L205.96,336.33 L205.98,335.67 L206.00,334.47 L206.03,332.47 L206.05,339.27 L206.07,336.76 L206.10,344.51 L206.12,347.67 L206.14,346.22 L206.17,328.29 L206.19,345.64 L206.21,333.78 L206.24,328.59 L206.26,338.58 L206.28,327.81 L206.31,326.68 L206.33,331.34 L206.36,323.97 L206.38,333.00 L206.40,339.97 L206.43,333.51 L206.45,338.49 L206.47,342.92 L206.50,342.78 L206.52,324.27 L206.54,338.98 L206.57,336.31 L206.59,339.60 L206.61,335.47 L206.64,337.40 L206.66,338.28 L206.68,342.41 L206.71,343.45 L206.73,340.00 L206.76,334.64 L206.78,325.44 L206.80,330.71 L206.83,326.74 L206.85,333.64 L206.87,336.59 L206.90,342.97 L206.92,336.12 L206.94,347.19 L206.97,337.68 L206.99,327.73 L207.01,334.43 L207.04,330.30 L207.06,338.09 L207.08,343.21 L207.11,338.58 L207.13,338.15 L207.16,329.89 L207.18,325.91 L207.20,339.92 L207.23,337.95 L207.25,336.85 L207.27,337.90 L207.30,342.51 L207.32,335.61 L207.34,334.22 L207.37,334.10 L207.39,342.31 L207.41,336.67 L207.44,345.06 L207.46,331.37 L207.48,341.34 L207.51,337.49 L207.53,338.39 L207.56,339.08 L207.58,341.53 L207.60,345.19 L207.63,327.13 L207.65,334.75 L207.67,334.70 L207.70,325.24 L207.72,336.58 L207.74,333.21 L207.77,335.95 L207.79,329.93 L207.81,333.47 L207.84,334.43 L207.86,337.37 L207.88,334.61 L207.91,330.05 L207.93,346.76 L207.96,336.72 L207.98,338.21 L208.00,337.60 L208.03,346.24 L208.05,332.28 L208.07,340.41 L208.10,337.22 L208.12,338.65 L208.14,344.66 L208.17,338.35 L208.19,345.55 L208.21,340.91 L208.24,337.67 L208.26,336.07 L208.28,335.76 L208.31,336.75 L208.33,325.02 L208.36,333.80 L208.38,342.35 L208.40,339.20 L208.43,339.43 L208.45,336.96 L208.47,339.16 L208.50,340.46 L208.52,327.54 L208.54,335.82 L208.57,337.78 L208.59,337.34 L208.61,337.16 L208.64,328.86 L208.66,333.57 L208.68,330.25 L208.71,352.12 L208.73,334.36 L208.76,330.57 L208.78,325.86 L208.80,335.88 L208.83,344.89 L208.85,333.00 L208.87,339.12 L208.90,345.28 L208.92,339.22 L208.94,330.58 L208.97,329.83 L208.99,332.31 L209.01,341.44 L209.04,323.04 L209.06,342.06 L209.08,336.43 L209.11,343.48 L209.13,329.23 L209.16,333.72 L209.18,331.44 L209.20,335.55 L209.23,336.37 L209.25,335.12 L209.27,345.76 L209.30,330.89 L209.32,331.30 L209.34,338.04 L209.37,336.07 L209.39,334.46 L209.41,327.91 L209.44,333.78 L209.46,335.78 L209.48,338.63 L209.51,343.75 L209.53,339.07 L209.56,335.63 L209.58,337.29 L209.60,335.60 L209.63,332.14 L209.65,333.74 L209.67,334.57 L209.70,332.60 L209.72,335.02 L209.74,336.14 L209.77,333.56 L209.79,344.89 L209.81,329.51 L209.84,342.63 L209.86,331.66 L209.88,335.91 L209.91,330.25 L209.93,335.79 L209.96,340.84 L209.98,330.43 L210.00,335.01 L210.03,335.35 L210.05,335.54 L210.07,330.79 L210.10,331.74 L210.12,334.77 L210.14,343.95 L210.17,338.04 L210.19,335.40 L210.21,326.69 L210.24,333.96 L210.26,336.42 L210.28,329.77 L210.31,336.52 L210.33,336.08 L210.36,335.13 L210.38,343.66 L210.40,331.00 L210.43,333.74 L210.45,337.39 L210.47,341.83 L210.50,334.83 L210.52,328.71 L210.54,339.24 L210.57,341.41 L210.59,333.76 L210.61,344.16 L210.64,347.39 L210.66,338.22 L210.68,339.49 L210.71,337.35 L210.73,338.77 L210.76,334.21 L210.78,337.06 L210.80,339.01 L210.83,338.28 L210.85,332.66 L210.87,330.97 L210.90,331.25 L210.92,332.32 L210.94,352.93 L210.97,341.08 L210.99,337.54 L211.01,334.85 L211.04,344.26 L211.06,328.57 L211.08,334.34 L211.11,339.11 L211.13,335.06 L211.16,337.69 L211.18,339.83 L211.20,333.30 L211.23,338.25 L211.25,343.19 L211.27,339.18 L211.30,336.49 L211.32,341.47 L211.34,329.39 L211.37,341.52 L211.39,326.83 L211.41,331.28 L211.44,340.75 L211.46,335.22 L211.48,329.80 L211.51,336.88 L211.53,342.04 L211.56,335.31 L211.58,325.62 L211.60,343.57 L211.63,333.02 L211.65,335.83 L211.67,336.49 L211.70,337.89 L211.72,337.52 L211.74,330.52 L211.77,332.79 L211.79,341.01 L211.81,327.83 L211.84,342.56 L211.86,332.44 L211.88,334.91 L211.91,329.68 L211.93,334.02 L211.96,330.41 L211.98,335.98 L212.00,330.83 L212.03,334.07 L212.05,324.76 L212.07,339.44 L212.10,329.69 L212.12,333.45 L212.14,334.93 L212.17,338.77 L212.19,333.53 L212.21,343.44 L212.24,342.90 L212.26,332.17 L212.28,343.86 L212.31,328.42 L212.33,337.25 L212.36,334.55 L212.38,335.44 L212.40,333.66 L212.43,337.27 L212.45,337.73 L212.47,336.48 L212.50,330.41 L212.52,329.98 L212.54,329.25 L212.57,333.94 L212.59,336.86 L212.61,344.49 L212.64,332.51 L212.66,331.49 L212.68,337.90 L212.71,331.66 L212.73,329.17 L212.76,335.33 L212.78,330.37 L212.80,334.23 L212.83,353.59 L212.85,338.26 L212.87,337.93 L212.90,333.09 L212.92,340.27 L212.94,338.08 L212.97,340.78 L212.99,336.02 L213.01,335.46 L213.04,330.79 L213.06,331.71 L213.08,334.97 L213.11,334.57 L213.13,335.26 L213.16,335.24 L213.18,327.84 L213.20,348.64 L213.23,336.72 L213.25,334.20 L213.27,329.99 L213.30,341.46 L213.32,334.03 L213.34,331.37 L213.37,338.11 L213.39,345.66 L213.41,337.67 L213.44,342.01 L213.46,332.46 L213.48,340.21 L213.51,326.63 L213.53,335.09 L213.56,339.97 L213.58,338.42 L213.60,341.45 L213.63,333.81 L213.65,328.12 L213.67,336.93 L213.70,331.05 L213.72,340.68 L213.74,334.23 L213.77,323.93 L213.79,343.07 L213.81,329.46 L213.84,329.76 L213.86,345.51 L213.88,343.22 L213.91,340.85 L213.93,330.82 L213.96,338.03 L213.98,336.68 L214.00,332.17 L214.03,335.21 L214.05,334.65 L214.07,337.48 L214.10,330.02 L214.12,339.83 L214.14,327.18 L214.17,337.56 L214.19,339.94 L214.21,332.49 L214.24,333.50 L214.26,346.04 L214.28,334.68 L214.31,342.79 L214.33,340.11 L214.36,331.77 L214.38,340.28 L214.40,334.00 L214.43,337.79 L214.45,325.86 L214.47,336.33 L214.50,341.90 L214.52,341.54 L214.54,340.52 L214.57,335.19 L214.59,335.86 L214.61,330.85 L214.64,334.99 L214.66,335.19 L214.68,334.19 L214.71,336.53 L214.73,334.36 L214.76,331.83 L214.78,331.83 L214.80,338.68 L214.83,344.99 L214.85,340.04 L214.87,334.42 L214.90,348.72 L214.92,338.34 L214.94,333.57 L214.97,338.80 L214.99,341.66 L215.01,326.84 L215.04,328.75 L215.06,337.23 L215.08,329.08 L215.11,329.20 L215.13,341.73 L215.16,322.08 L215.18,340.74 L215.20,337.27 L215.23,341.56 L215.25,335.51 L215.27,342.70 L215.30,335.96 L215.32,330.34 L215.34,334.82 L215.37,337.29 L215.39,327.96 L215.41,340.56 L215.44,330.94 L215.46,337.49 L215.48,334.83 L215.51,335.78 L215.53,335.28 L215.56,336.22 L215.58,339.98 L215.60,338.88 L215.63,333.68 L215.65,336.52 L215.67,341.96 L215.70,339.60 L215.72,339.54 L215.74,336.26 L215.77,335.06 L215.79,335.51 L215.81,339.36 L215.84,335.90 L215.86,343.05 L215.88,350.87 L215.91,336.28 L215.93,344.54 L215.96,340.89 L215.98,342.23 L216.00,332.78 L216.03,342.27 L216.05,334.61 L216.07,338.56 L216.10,342.42 L216.12,344.17 L216.14,333.68 L216.17,334.07 L216.19,332.08 L216.21,326.63 L216.24,334.68 L216.26,334.63 L216.28,336.73 L216.31,335.55 L216.33,337.91 L216.36,340.72 L216.38,325.83 L216.40,345.72 L216.43,334.81 L216.45,333.84 L216.47,335.35 L216.50,341.10 L216.52,337.13 L216.54,338.52 L216.57,341.69 L216.59,336.40 L216.61,338.27 L216.64,339.02 L216.66,332.65 L216.68,341.64 L216.71,333.92 L216.73,339.34 L216.76,333.99 L216.78,335.84 L216.80,334.96 L216.83,341.26 L216.85,340.21 L216.87,340.63 L216.90,335.33 L216.92,332.38 L216.94,330.67 L216.97,338.81 L216.99,335.80 L217.01,344.57 L217.04,347.67 L217.06,340.71 L217.08,339.68 L217.11,344.25 L217.13,345.41 L217.16,333.51 L217.18,340.40 L217.20,344.92 L217.23,324.32 L217.25,335.39 L217.27,337.92 L217.30,332.80 L217.32,340.20 L217.34,328.13 L217.37,344.22 L217.39,343.03 L217.41,337.02 L217.44,340.25 L217.46,329.07 L217.48,344.57 L217.51,340.09 L217.53,335.11 L217.56,333.45 L217.58,331.19 L217.60,334.59 L217.63,325.02 L217.65,338.80 L217.67,335.46 L217.70,331.97 L217.72,338.00 L217.74,337.89 L217.77,338.77 L217.79,339.70 L217.81,342.20 L217.84,339.25 L217.86,344.36 L217.88,334.45 L217.91,344.59 L217.93,325.80 L217.96,327.68 L217.98,330.74 L218.00,337.51 L218.03,339.44 L218.05,330.14 L218.07,335.50 L218.10,333.56 L218.12,340.14 L218.14,330.96 L218.17,340.55 L218.19,335.90 L218.21,345.34 L218.24,339.82 L218.26,333.88 L218.28,338.77 L218.31,338.76 L218.33,332.41 L218.36,336.84 L218.38,330.08 L218.40,348.89 L218.43,333.55 L218.45,333.87 L218.47,344.41 L218.50,343.15 L218.52,331.96 L218.54,341.96 L218.57,339.75 L218.59,333.41 L218.61,338.19 L218.64,334.03 L218.66,340.94 L218.68,334.96 L218.71,330.92 L218.73,334.81 L218.76,347.76 L218.78,333.14 L218.80,336.19 L218.83,341.14 L218.85,329.33 L218.87,345.44 L218.90,326.86 L218.92,339.74 L218.94,328.40 L218.97,336.72 L218.99,343.32 L219.01,336.00 L219.04,334.79 L219.06,333.71 L219.08,331.04 L219.11,341.10 L219.13,333.96 L219.15,332.71 L219.18,337.89 L219.20,341.30 L219.23,341.41 L219.25,332.64 L219.27,332.39 L219.30,340.75 L219.32,343.37 L219.34,330.13 L219.37,344.48 L219.39,335.68 L219.41,340.64 L219.44,345.51 L219.46,335.86 L219.48,337.48 L219.51,329.11 L219.53,324.83 L219.55,337.47 L219.58,331.24 L219.60,331.14 L219.63,339.19 L219.65,340.95 L219.67,328.23 L219.70,338.38 L219.72,336.63 L219.74,338.00 L219.77,337.19 L219.79,339.60 L219.81,332.66 L219.84,330.06 L219.86,338.42 L219.88,343.59 L219.91,336.24 L219.93,344.14 L219.95,339.79 L219.98,330.19 L220.00,324.59 L220.03,334.57 L220.05,341.97 L220.07,332.50 L220.10,348.04 L220.12,340.07 L220.14,328.68 L220.17,332.68 L220.19,343.59 L220.21,345.04 L220.24,332.11 L220.26,336.75 L220.28,339.55 L220.31,334.39 L220.33,339.45 L220.35,346.37 L220.38,332.35 L220.40,339.83 L220.43,341.65 L220.45,343.35 L220.47,335.22 L220.50,340.63 L220.52,333.30 L220.54,337.88 L220.57,330.96 L220.59,338.49 L220.61,339.86 L220.64,346.61 L220.66,342.14 L220.68,332.81 L220.71,320.82 L220.73,342.93 L220.75,341.83 L220.78,334.77 L220.80,334.05 L220.83,339.98 L220.85,336.10 L220.87,344.75 L220.90,338.03 L220.92,331.88 L220.94,328.11 L220.97,337.36 L220.99,337.83 L221.01,334.18 L221.04,330.82 L221.06,334.00 L221.08,340.35 L221.11,334.67 L221.13,331.53 L221.15,340.15 L221.18,343.35 L221.20,333.88 L221.23,334.61 L221.25,331.53 L221.27,336.04 L221.30,339.80 L221.32,338.73 L221.34,341.77 L221.37,341.35 L221.39,339.37 L221.41,338.97 L221.44,330.77 L221.46,342.78 L221.48,336.73 L221.51,339.50 L221.53,328.84 L221.55,335.13 L221.58,338.39 L221.60,332.29 L221.63,336.13 L221.65,338.91 L221.67,328.59 L221.70,332.82 L221.72,327.59 L221.74,330.53 L221.77,332.49 L221.79,335.78 L221.81,342.02 L221.84,332.82 L221.86,336.08 L221.88,332.99 L221.91,336.49 L221.93,339.99 L221.95,341.61 L221.98,332.86 L222.00,329.82 L222.03,337.92 L222.05,334.11 L222.07,329.35 L222.10,340.72 L222.12,338.18 L222.14,342.18 L222.17,330.39 L222.19,335.09 L222.21,338.80 L222.24,344.92 L222.26,337.35 L222.28,331.32 L222.31,337.94 L222.33,338.60 L222.35,333.14 L222.38,342.74 L222.40,336.16 L222.43,333.36 L222.45,340.41 L222.47,340.67 L222.50,335.15 L222.52,336.93 L222.54,337.63 L222.57,335.35 L222.59,335.28 L222.61,341.15 L222.64,339.83 L222.66,334.11 L222.68,330.67 L222.71,329.47 L222.73,340.74 L222.75,330.80 L222.78,332.52 L222.80,336.56 L222.83,333.90 L222.85,332.15 L222.87,327.25 L222.90,341.80 L222.92,333.32 L222.94,337.11 L222.97,337.45 L222.99,330.52 L223.01,332.20 L223.04,341.58 L223.06,337.84 L223.08,335.22 L223.11,343.61 L223.13,331.97 L223.15,336.77 L223.18,335.55 L223.20,334.66 L223.23,327.14 L223.25,336.19 L223.27,338.20 L223.30,327.49 L223.32,338.94 L223.34,339.06 L223.37,343.46 L223.39,330.85 L223.41,334.98 L223.44,333.97 L223.46,335.52 L223.48,337.06 L223.51,340.38 L223.53,340.35 L223.55,334.16 L223.58,335.73 L223.60,328.04 L223.63,340.24 L223.65,338.85 L223.67,341.57 L223.70,329.33 L223.72,342.65 L223.74,332.42 L223.77,329.02 L223.79,337.08 L223.81,332.66 L223.84,347.21 L223.86,338.33 L223.88,344.82 L223.91,335.48 L223.93,336.31 L223.95,340.28 L223.98,331.53 L224.00,334.54 L224.03,339.02 L224.05,338.97 L224.07,343.85 L224.10,337.30 L224.12,325.54 L224.14,339.97 L224.17,334.20 L224.19,339.15 L224.21,332.25 L224.24,334.10 L224.26,337.54 L224.28,345.44 L224.31,338.97 L224.33,330.23 L224.35,337.59 L224.38,333.14 L224.40,338.79 L224.43,345.86 L224.45,334.17 L224.47,334.71 L224.50,339.29 L224.52,338.23 L224.54,334.86 L224.57,339.36 L224.59,334.58 L224.61,337.38 L224.64,348.36 L224.66,337.07 L224.68,339.38 L224.71,340.60 L224.73,334.29 L224.75,338.83 L224.78,333.58 L224.80,330.76 L224.83,335.60 L224.85,344.23 L224.87,340.06 L224.90,331.68 L224.92,337.65 L224.94,340.44 L224.97,336.79 L224.99,333.76 L225.01,335.01 L225.04,333.03 L225.06,340.53 L225.08,337.73 L225.11,337.61 L225.13,336.43 L225.15,347.01 L225.18,337.53 L225.20,343.16 L225.23,329.23 L225.25,328.38 L225.27,327.75 L225.30,332.19 L225.32,338.79 L225.34,331.42 L225.37,337.34 L225.39,333.20 L225.41,340.91 L225.44,339.31 L225.46,333.94 L225.48,327.27 L225.51,336.44 L225.53,324.82 L225.55,322.25 L225.58,342.84 L225.60,336.44 L225.63,341.16 L225.65,337.01 L225.67,339.03 L225.70,336.64 L225.72,331.38 L225.74,331.51 L225.77,334.97 L225.79,336.28 L225.81,335.69 L225.84,335.65 L225.86,333.37 L225.88,336.27 L225.91,333.73 L225.93,342.97 L225.95,332.25 L225.98,327.38 L226.00,335.36 L226.03,343.50 L226.05,329.40 L226.07,337.97 L226.10,351.54 L226.12,337.40 L226.14,333.20 L226.17,334.33 L226.19,329.96 L226.21,333.12 L226.24,335.65 L226.26,346.37 L226.28,341.97 L226.31,335.37 L226.33,332.83 L226.35,341.52 L226.38,339.40 L226.40,333.88 L226.43,346.03 L226.45,346.21 L226.47,337.45 L226.50,334.99 L226.52,338.73 L226.54,347.99 L226.57,336.16 L226.59,343.06 L226.61,332.94 L226.64,336.79 L226.66,334.93 L226.68,333.00 L226.71,338.97 L226.73,332.05 L226.75,329.93 L226.78,334.25 L226.80,329.49 L226.83,339.48 L226.85,331.60 L226.87,334.90 L226.90,341.31 L226.92,336.68 L226.94,338.98 L226.97,339.10 L226.99,335.83 L227.01,330.85 L227.04,337.90 L227.06,335.64 L227.08,343.77 L227.11,335.73 L227.13,330.38 L227.15,332.14 L227.18,333.85 L227.20,338.96 L227.23,341.25 L227.25,336.75 L227.27,343.11 L227.30,342.57 L227.32,331.46 L227.34,340.96 L227.37,327.10 L227.39,343.57 L227.41,334.08 L227.44,342.26 L227.46,335.38 L227.48,341.59 L227.51,336.06 L227.53,337.07 L227.55,338.58 L227.58,333.66 L227.60,328.56 L227.63,339.29 L227.65,331.75 L227.67,335.84 L227.70,336.43 L227.72,325.07 L227.74,347.36 L227.77,339.75 L227.79,345.52 L227.81,337.88 L227.84,337.44 L227.86,316.80 L227.88,334.50 L227.91,327.10 L227.93,329.64 L227.95,338.52 L227.98,333.83 L228.00,327.74 L228.03,335.39 L228.05,335.21 L228.07,333.70 L228.10,343.96 L228.12,340.43 L228.14,334.55 L228.17,333.49 L228.19,340.97 L228.21,337.93 L228.24,336.90 L228.26,337.05 L228.28,332.73 L228.31,335.73 L228.33,335.43 L228.35,343.51 L228.38,341.67 L228.40,334.64 L228.43,344.43 L228.45,334.91 L228.47,339.67 L228.50,340.44 L228.52,332.98 L228.54,339.75 L228.57,340.68 L228.59,339.75 L228.61,336.00 L228.64,322.24 L228.66,347.14 L228.68,336.40 L228.71,337.54 L228.73,331.43 L228.75,338.20 L228.78,348.96 L228.80,329.52 L228.83,341.90 L228.85,336.62 L228.87,343.32 L228.90,341.93 L228.92,338.87 L228.94,331.93 L228.97,332.01 L228.99,339.39 L229.01,333.76 L229.04,338.24 L229.06,335.76 L229.08,335.54 L229.11,333.16 L229.13,339.49 L229.15,337.02 L229.18,335.23 L229.20,335.88 L229.23,340.43 L229.25,327.52 L229.27,338.71 L229.30,332.47 L229.32,335.31 L229.34,330.09 L229.37,347.55 L229.39,325.84 L229.41,337.45 L229.44,342.67 L229.46,335.70 L229.48,324.79 L229.51,333.77 L229.53,342.67 L229.55,338.74 L229.58,329.52 L229.60,343.56 L229.63,337.29 L229.65,337.87 L229.67,325.26 L229.70,337.86 L229.72,329.63 L229.74,339.84 L229.77,340.49 L229.79,331.22 L229.81,333.18 L229.84,345.23 L229.86,333.09 L229.88,333.08 L229.91,339.52 L229.93,335.24 L229.95,334.99 L229.98,338.86 L230.00,339.37 L230.03,339.81 L230.05,337.77 L230.07,343.19 L230.10,336.60 L230.12,344.04 L230.14,336.00 L230.17,336.81 L230.19,341.69 L230.21,332.01 L230.24,326.46 L230.26,329.59 L230.28,343.38 L230.31,329.86 L230.33,335.26 L230.35,336.66 L230.38,339.44 L230.40,336.42 L230.43,329.27 L230.45,333.60 L230.47,338.51 L230.50,339.82 L230.52,338.52 L230.54,333.39 L230.57,326.83 L230.59,341.80 L230.61,336.40 L230.64,338.36 L230.66,340.24 L230.68,334.35 L230.71,333.57 L230.73,343.64 L230.75,341.69 L230.78,330.28 L230.80,334.77 L230.83,333.72 L230.85,338.96 L230.87,338.34 L230.90,334.04 L230.92,338.93 L230.94,342.07 L230.97,336.39 L230.99,331.76 L231.01,341.66 L231.04,330.99 L231.06,332.80 L231.08,340.80 L231.11,336.35 L231.13,336.60 L231.15,333.15 L231.18,332.98 L231.20,343.05 L231.23,343.28 L231.25,331.13 L231.27,335.81 L231.30,334.26 L231.32,334.68 L231.34,328.57 L231.37,342.55 L231.39,330.82 L231.41,340.57 L231.44,332.67 L231.46,329.54 L231.48,343.45 L231.51,334.33 L231.53,337.81 L231.55,337.87 L231.58,336.17 L231.60,341.76 L231.63,341.31 L231.65,333.03 L231.67,332.08 L231.70,339.29 L231.72,343.82 L231.74,324.57 L231.77,330.78 L231.79,334.56 L231.81,341.64 L231.84,339.36 L231.86,335.15 L231.88,341.29 L231.91,328.22 L231.93,335.69 L231.95,334.39 L231.98,341.63 L232.00,341.01 L232.03,340.41 L232.05,334.98 L232.07,337.74 L232.10,337.86 L232.12,334.79 L232.14,335.24 L232.17,328.84 L232.19,337.39 L232.21,341.54 L232.24,336.45 L232.26,328.95 L232.28,339.20 L232.31,336.14 L232.33,338.21 L232.35,334.33 L232.38,335.08 L232.40,340.51 L232.43,337.55 L232.45,331.61 L232.47,330.83 L232.50,331.70 L232.52,332.01 L232.54,338.08 L232.57,338.23 L232.59,331.67 L232.61,342.34 L232.64,336.68 L232.66,354.31 L232.68,338.31 L232.71,339.97 L232.73,342.50 L232.75,333.45 L232.78,340.11 L232.80,338.25 L232.82,337.69 L232.85,340.12 L232.87,329.17 L232.90,338.89 L232.92,335.39 L232.94,343.00 L232.97,338.78 L232.99,338.02 L233.01,337.94 L233.04,339.34 L233.06,335.66 L233.08,328.48 L233.11,337.05 L233.13,337.09 L233.15,338.36 L233.18,323.53 L233.20,328.21 L233.22,333.56 L233.25,332.81 L233.27,339.98 L233.30,337.15 L233.32,335.31 L233.34,335.77 L233.37,340.71 L233.39,340.33 L233.41,333.77 L233.44,334.79 L233.46,347.05 L233.48,335.91 L233.51,329.94 L233.53,339.64 L233.55,335.16 L233.58,343.74 L233.60,332.16 L233.62,342.02 L233.65,342.71 L233.67,337.98 L233.70,324.38 L233.72,339.46 L233.74,342.76 L233.77,334.04 L233.79,335.21 L233.81,327.98 L233.84,342.79 L233.86,344.44 L233.88,337.97 L233.91,334.46 L233.93,334.56 L233.95,330.88 L233.98,343.93 L234.00,340.54 L234.02,337.04 L234.05,332.12 L234.07,333.96 L234.10,338.50 L234.12,341.53 L234.14,331.91 L234.17,331.57 L234.19,322.65 L234.21,337.27 L234.24,328.16 L234.26,342.49 L234.28,339.12 L234.31,339.79 L234.33,338.71 L234.35,340.80 L234.38,339.12 L234.40,336.64 L234.42,338.64 L234.45,333.03 L234.47,336.79 L234.50,336.37 L234.52,328.92 L234.54,334.77 L234.57,335.58 L234.59,336.46 L234.61,336.05 L234.64,333.47 L234.66,340.42 L234.68,330.58 L234.71,328.42 L234.73,330.53 L234.75,338.85 L234.78,344.42 L234.80,338.57 L234.82,335.59 L234.85,332.18 L234.87,337.29 L234.90,337.90 L234.92,328.68 L234.94,339.75 L234.97,330.98 L234.99,331.79 L235.01,343.09 L235.04,334.96 L235.06,339.18 L235.08,341.16 L235.11,345.71 L235.13,344.28 L235.15,334.27 L235.18,338.33 L235.20,334.98 L235.22,346.17 L235.25,337.98 L235.27,337.74 L235.30,344.17 L235.32,344.77 L235.34,334.14 L235.37,335.62 L235.39,341.08 L235.41,336.88 L235.44,333.02 L235.46,327.11 L235.48,340.85 L235.51,333.25 L235.53,325.66 L235.55,336.03 L235.58,328.95 L235.60,349.43 L235.62,329.04 L235.65,336.42 L235.67,345.85 L235.70,332.42 L235.72,331.06 L235.74,330.26 L235.77,330.30 L235.79,336.52 L235.81,340.15 L235.84,338.70 L235.86,336.54 L235.88,334.31 L235.91,338.80 L235.93,336.12 L235.95,331.93 L235.98,334.72 L236.00,324.76 L236.02,325.45 L236.05,342.17 L236.07,339.24 L236.10,342.99 L236.12,342.26 L236.14,333.60 L236.17,341.39 L236.19,341.66 L236.21,337.73 L236.24,332.31 L236.26,338.16 L236.28,338.17 L236.31,331.71 L236.33,333.98 L236.35,334.05 L236.38,331.56 L236.40,341.49 L236.42,335.27 L236.45,339.58 L236.47,331.16 L236.50,332.23 L236.52,341.66 L236.54,329.59 L236.57,342.29 L236.59,330.43 L236.61,335.33 L236.64,340.78 L236.66,342.04 L236.68,337.91 L236.71,336.49 L236.73,339.97 L236.75,333.51 L236.78,343.47 L236.80,336.40 L236.82,336.36 L236.85,345.86 L236.87,334.80 L236.90,342.78 L236.92,349.04 L236.94,339.48 L236.97,337.53 L236.99,331.78 L237.01,338.84 L237.04,328.89 L237.06,329.06 L237.08,330.82 L237.11,329.65 L237.13,334.59 L237.15,339.20 L237.18,333.08 L237.20,331.45 L237.22,335.16 L237.25,337.61 L237.27,344.34 L237.30,332.93 L237.32,334.58 L237.34,342.99 L237.37,335.86 L237.39,332.70 L237.41,336.92 L237.44,332.38 L237.46,332.53 L237.48,343.88 L237.51,337.90 L237.53,333.90 L237.55,331.71 L237.58,329.20 L237.60,346.13 L237.62,336.71 L237.65,332.73 L237.67,330.14 L237.70,327.78 L237.72,341.13 L237.74,338.27 L237.77,341.74 L237.79,332.21 L237.81,343.11 L237.84,330.34 L237.86,331.60 L237.88,333.89 L237.91,347.43 L237.93,339.82 L237.95,332.56 L237.98,343.59 L238.00,337.59 L238.02,336.90 L238.05,331.84 L238.07,334.93 L238.10,334.97 L238.12,338.62 L238.14,336.35 L238.17,337.06 L238.19,332.66 L238.21,337.29 L238.24,331.11 L238.26,345.03 L238.28,330.26 L238.31,337.24 L238.33,330.63 L238.35,335.95 L238.38,332.02 L238.40,328.76 L238.42,339.20 L238.45,335.97 L238.47,337.24 L238.50,335.32 L238.52,344.63 L238.54,337.25 L238.57,337.65 L238.59,340.39 L238.61,337.37 L238.64,344.24 L238.66,329.25 L238.68,334.10 L238.71,326.78 L238.73,340.84 L238.75,342.33 L238.78,334.94 L238.80,344.88 L238.82,335.23 L238.85,339.97 L238.87,338.09 L238.90,335.09 L238.92,336.15 L238.94,326.90 L238.97,333.17 L238.99,342.97 L239.01,331.39 L239.04,343.22 L239.06,335.95 L239.08,342.75 L239.11,340.61 L239.13,329.70 L239.15,339.23 L239.18,339.68 L239.20,339.26 L239.22,337.99 L239.25,329.05 L239.27,342.41 L239.30,342.70 L239.32,333.45 L239.34,344.54 L239.37,338.27 L239.39,330.64 L239.41,336.40 L239.44,338.86 L239.46,340.03 L239.48,341.09 L239.51,339.43 L239.53,335.73 L239.55,330.09 L239.58,331.50 L239.60,339.31 L239.62,340.16 L239.65,332.89 L239.67,345.69 L239.70,338.68 L239.72,338.10 L239.74,342.11 L239.77,341.52 L239.79,334.69 L239.81,344.89 L239.84,341.13 L239.86,339.77 L239.88,336.06 L239.91,343.47 L239.93,330.95 L239.95,338.06 L239.98,337.82 L240.00,338.35 L240.02,339.93 L240.05,341.50 L240.07,330.67 L240.10,335.48 L240.12,337.08 L240.14,331.46 L240.17,340.15 L240.19,333.33 L240.21,336.42 L240.24,341.07 L240.26,332.68 L240.28,344.16 L240.31,333.24 L240.33,341.06 L240.35,334.48 L240.38,329.54 L240.40,333.68 L240.42,339.63 L240.45,336.72 L240.47,338.45 L240.50,342.55 L240.52,342.21 L240.54,336.37 L240.57,333.87 L240.59,345.57 L240.61,336.97 L240.64,334.04 L240.66,336.06 L240.68,341.71 L240.71,331.37 L240.73,342.80 L240.75,333.34 L240.78,328.51 L240.80,347.00 L240.82,335.34 L240.85,335.06 L240.87,335.50 L240.90,340.55 L240.92,338.24 L240.94,343.75 L240.97,335.99 L240.99,333.94 L241.01,340.04 L241.04,341.36 L241.06,339.07 L241.08,336.72 L241.11,336.37 L241.13,337.21 L241.15,336.34 L241.18,343.33 L241.20,350.52 L241.22,333.57 L241.25,329.49 L241.27,343.87 L241.30,340.07 L241.32,335.18 L241.34,331.87 L241.37,333.42 L241.39,330.23 L241.41,336.98 L241.44,334.61 L241.46,334.63 L241.48,338.89 L241.51,330.63 L241.53,333.56 L241.55,331.76 L241.58,338.69 L241.60,331.50 L241.62,342.04 L241.65,334.73 L241.67,349.93 L241.70,341.82 L241.72,333.00 L241.74,339.00 L241.77,335.84 L241.79,344.92 L241.81,328.90 L241.84,333.71 L241.86,336.86 L241.88,334.63 L241.91,335.07 L241.93,329.58 L241.95,335.64 L241.98,344.16 L242.00,338.02 L242.02,330.25 L242.05,333.85 L242.07,338.85 L242.10,333.65 L242.12,336.14 L242.14,333.65 L242.17,344.74 L242.19,341.26 L242.21,333.37 L242.24,337.85 L242.26,334.95 L242.28,326.85 L242.31,338.30 L242.33,335.51 L242.35,339.54 L242.38,339.88 L242.40,337.11 L242.42,344.06 L242.45,347.34 L242.47,329.84 L242.50,337.25 L242.52,331.06 L242.54,336.11 L242.57,335.98 L242.59,333.35 L242.61,333.11 L242.64,342.79 L242.66,330.64 L242.68,341.62 L242.71,335.70 L242.73,323.84 L242.75,336.32 L242.78,328.32 L242.80,338.48 L242.82,333.63 L242.85,336.47 L242.87,334.62 L242.90,341.03 L242.92,341.35 L242.94,335.03 L242.97,344.60 L242.99,340.98 L243.01,333.49 L243.04,339.82 L243.06,341.20 L243.08,342.30 L243.11,335.98 L243.13,338.56 L243.15,335.97 L243.18,337.67 L243.20,327.40 L243.22,338.92 L243.25,346.58 L243.27,336.13 L243.30,336.71 L243.32,335.93 L243.34,344.80 L243.37,331.02 L243.39,336.88 L243.41,336.94 L243.44,344.68 L243.46,334.34 L243.48,337.05 L243.51,329.92 L243.53,338.81 L243.55,342.93 L243.58,336.07 L243.60,341.31 L243.62,334.63 L243.65,342.16 L243.67,337.37 L243.70,337.86 L243.72,336.89 L243.74,339.30 L243.77,340.79 L243.79,337.02 L243.81,339.63 L243.84,335.95 L243.86,338.08 L243.88,310.15 L243.91,337.03 L243.93,329.75 L243.95,335.20 L243.98,333.72 L244.00,334.44 L244.02,339.07 L244.05,343.40 L244.07,332.67 L244.10,331.44 L244.12,333.88 L244.14,334.60 L244.17,334.74 L244.19,336.86 L244.21,335.35 L244.24,336.66 L244.26,335.09 L244.28,341.44 L244.31,339.86 L244.33,333.88 L244.35,338.41 L244.38,348.78 L244.40,336.09 L244.42,348.11 L244.45,327.19 L244.47,333.13 L244.50,333.37 L244.52,340.01 L244.54,342.32 L244.57,337.76 L244.59,336.61 L244.61,340.53 L244.64,335.92 L244.66,333.29 L244.68,333.72 L244.71,341.86 L244.73,347.43 L244.75,336.68 L244.78,339.96 L244.80,334.48 L244.82,328.55 L244.85,328.56 L244.87,335.27 L244.90,331.19 L244.92,328.54 L244.94,336.45 L244.97,335.33 L244.99,332.46 L245.01,336.85 L245.04,339.14 L245.06,340.37 L245.08,336.63 L245.11,339.73 L245.13,332.72 L245.15,338.30 L245.18,329.42 L245.20,330.67 L245.22,342.76 L245.25,331.31 L245.27,338.63 L245.30,329.87 L245.32,334.10 L245.34,336.85 L245.37,333.31 L245.39,339.37 L245.41,335.00 L245.44,334.72 L245.46,337.34 L245.48,334.70 L245.51,341.52 L245.53,333.86 L245.55,342.56 L245.58,333.53 L245.60,334.27 L245.62,333.10 L245.65,339.32 L245.67,321.66 L245.70,337.69 L245.72,335.82 L245.74,340.27 L245.77,329.53 L245.79,338.86 L245.81,331.67 L245.84,341.18 L245.86,335.02 L245.88,338.35 L245.91,331.96 L245.93,337.95 L245.95,340.75 L245.98,334.30 L246.00,342.36 L246.02,341.20 L246.05,332.74 L246.07,345.67 L246.09,332.78 L246.12,338.46 L246.14,340.97 L246.17,335.29 L246.19,333.39 L246.21,339.34 L246.24,337.33 L246.26,332.55 L246.28,332.78 L246.31,336.71 L246.33,340.22 L246.35,341.07 L246.38,339.36 L246.40,333.12 L246.42,333.62 L246.45,334.95 L246.47,329.64 L246.49,337.89 L246.52,338.27 L246.54,338.30 L246.57,327.09 L246.59,346.44 L246.61,334.99 L246.64,334.22 L246.66,336.09 L246.68,325.01 L246.71,330.68 L246.73,332.63 L246.75,340.75 L246.78,333.95 L246.80,338.18 L246.82,336.15 L246.85,335.38 L246.87,338.70 L246.89,333.27 L246.92,328.42 L246.94,331.30 L246.97,335.29 L246.99,345.73 L247.01,331.05 L247.04,331.09 L247.06,337.26 L247.08,338.64 L247.11,333.12 L247.13,340.24 L247.15,332.44 L247.18,341.55 L247.20,340.77 L247.22,336.22 L247.25,343.36 L247.27,336.28 L247.29,333.71 L247.32,342.67 L247.34,331.79 L247.37,339.00 L247.39,333.62 L247.41,335.24 L247.44,338.48 L247.46,338.81 L247.48,344.54 L247.51,339.64 L247.53,340.00 L247.55,328.30 L247.58,331.33 L247.60,342.90 L247.62,332.38 L247.65,335.18 L247.67,338.10 L247.69,330.73 L247.72,332.42 L247.74,339.01 L247.77,337.58 L247.79,335.45 L247.81,341.01 L247.84,335.35 L247.86,336.64 L247.88,339.53 L247.91,340.31 L247.93,334.76 L247.95,332.01 L247.98,334.64 L248.00,340.37 L248.02,332.62 L248.05,335.41 L248.07,333.37 L248.09,330.61 L248.12,340.59 L248.14,336.91 L248.17,339.12 L248.19,340.45 L248.21,326.55 L248.24,331.70 L248.26,344.76 L248.28,334.17 L248.31,338.91 L248.33,330.69 L248.35,335.82 L248.38,337.07 L248.40,335.54 L248.42,334.37 L248.45,336.08 L248.47,337.28 L248.49,336.89 L248.52,333.76 L248.54,341.67 L248.57,336.23 L248.59,336.80" fill="none" stroke="#1f77b4" stroke-width="0.45" stroke-opacity="0.75"/>
</g>
<rect x="51" y="242" width="207" height="146.5" fill="none" stroke="#000" stroke-width="1.5"/>
<line x1="60.41" y1="388.5" x2="60.41" y2="384.5" stroke="#000" stroke-width="1.2"/>
<text x="60.41" y="402.80" font-size="13.4" text-anchor="middle" font-family='"Liberation Serif", serif' >&#8722;100</text>
<line x1="107.45" y1="388.5" x2="107.45" y2="384.5" stroke="#000" stroke-width="1.2"/>
<text x="107.45" y="402.80" font-size="13.4" text-anchor="middle" font-family='"Liberation Serif", serif' >&#8722;50</text>
<line x1="154.50" y1="388.5" x2="154.50" y2="384.5" stroke="#000" stroke-width="1.2"/>
<text x="154.50" y="402.80" font-size="13.4" text-anchor="middle" font-family='"Liberation Serif", serif' >0</text>
<line x1="201.54" y1="388.5" x2="201.54" y2="384.5" stroke="#000" stroke-width="1.2"/>
<text x="201.54" y="402.80" font-size="13.4" text-anchor="middle" font-family='"Liberation Serif", serif' >50</text>
<line x1="248.59" y1="388.5" x2="248.59" y2="384.5" stroke="#000" stroke-width="1.2"/>
<text x="248.59" y="402.80" font-size="13.4" text-anchor="middle" font-family='"Liberation Serif", serif' >100</text>
<line x1="51" y1="337.30" x2="55.0" y2="337.30" stroke="#000" stroke-width="1.2"/>
<text x="46.40" y="342.30" font-size="13.4" text-anchor="end" font-family='"Liberation Serif", serif' >0.00</text>
<line x1="51" y1="283.00" x2="55.0" y2="283.00" stroke="#000" stroke-width="1.2"/>
<text x="46.40" y="288.00" font-size="13.4" text-anchor="end" font-family='"Liberation Serif", serif' >0.01</text>
<text x="154.70" y="423.90" font-size="18.6" text-anchor="middle" font-family='"Liberation Serif", serif' >T (s)</text>
<text transform="translate(13.8,314.4) rotate(-90)" x="0" y="0" font-size="18.8" text-anchor="middle" font-family='"Liberation Serif", serif'>Noise (V)</text>
<text transform="translate(12.0,239.0) scale(1.0,1)" x="0" y="0" font-size="25.5" font-family='"Liberation Sans", sans-serif'>b</text>
<g clip-path="url(#clipC)">
<path d="M346.00,45.31C347.14,44.90 349.55,42.98 352.86,42.84C356.18,42.70 361.55,44.49 365.90,44.49C370.24,44.49 374.93,43.00 378.93,42.84C382.94,42.68 386.25,43.80 389.91,43.53C393.57,43.25 397.69,41.99 400.89,41.19C404.09,40.39 406.84,39.82 409.12,38.72C411.41,37.62 412.55,36.55 414.61,34.61C416.67,32.66 419.19,26.83 421.47,27.06C423.76,27.29 426.28,33.23 428.34,35.98C430.39,38.72 432.05,42.38 433.82,43.53C435.60,44.67 437.68,43.14 439.00,42.84C440.32,42.54 440.60,41.28 441.74,41.74C442.89,42.20 444.49,43.34 445.86,45.58C447.23,47.83 448.49,52.33 449.98,55.19C451.46,58.05 453.18,62.28 454.78,62.74C456.38,63.19 457.64,60.22 459.58,57.93C461.53,55.65 464.16,51.19 466.45,49.01C468.73,46.84 471.02,45.81 473.31,44.90C475.59,43.98 476.74,43.80 480.17,43.53C483.60,43.25 489.32,43.37 493.89,43.25C498.46,43.14 503.04,42.84 507.61,42.84C512.19,42.84 517.10,43.18 521.34,43.25C525.57,43.32 531.06,43.25 533.00,43.25" fill="none" stroke="#152a7c" stroke-width="2.5" stroke-linejoin="round"/>
<path d="M346.00,84.21C347.14,84.03 350.57,83.30 352.86,83.11C355.15,82.93 356.52,83.00 359.72,83.11C362.92,83.23 367.96,83.89 372.07,83.80C376.19,83.71 380.08,82.95 384.42,82.56C388.77,82.18 394.49,82.11 398.15,81.47C401.81,80.83 404.09,79.87 406.38,78.72C408.67,77.58 410.04,76.21 411.87,74.61C413.70,73.00 415.87,70.33 417.36,69.12C418.84,67.90 419.64,67.22 420.79,67.33C421.93,67.45 422.96,68.02 424.22,69.80C425.48,71.59 426.96,75.64 428.34,78.04C429.71,80.44 431.42,83.07 432.45,84.21C433.48,85.36 433.42,85.24 434.51,84.90C435.60,84.55 437.68,82.79 439.00,82.15C440.32,81.51 441.29,80.83 442.43,81.06C443.57,81.28 444.60,81.74 445.86,83.53C447.12,85.31 448.72,89.13 449.98,91.76C451.24,94.39 452.31,97.48 453.41,99.31C454.51,101.14 455.54,102.62 456.56,102.74C457.59,102.85 458.39,101.48 459.58,99.99C460.77,98.51 462.33,95.53 463.70,93.82C465.07,92.10 466.22,90.89 467.82,89.70C469.42,88.51 471.25,87.64 473.31,86.68C475.36,85.72 478.11,84.58 480.17,83.94C482.23,83.30 482.91,82.86 485.66,82.84C488.40,82.82 492.98,83.85 496.64,83.80C500.29,83.75 503.95,82.56 507.61,82.56C511.27,82.56 514.36,83.80 518.59,83.80C522.82,83.80 530.60,82.77 533.00,82.56" fill="none" stroke="#152a7c" stroke-width="2.5" stroke-linejoin="round"/>
<path d="M346.00,123.11C347.14,123.18 350.00,123.69 352.86,123.53C355.72,123.37 359.49,122.15 363.15,122.15C366.81,122.15 370.82,123.53 374.82,123.53C378.82,123.53 383.28,122.50 387.17,122.15C391.06,121.81 394.94,122.04 398.15,121.47C401.35,120.90 404.09,120.21 406.38,118.72C408.67,117.24 410.27,114.33 411.87,112.55C413.47,110.76 414.84,108.87 415.99,108.02C417.13,107.17 417.70,106.94 418.73,107.47C419.76,108.00 420.90,108.84 422.16,111.18C423.42,113.51 425.02,118.84 426.28,121.47C427.54,124.10 428.79,125.86 429.71,126.96C430.62,128.05 430.85,128.17 431.77,128.05C432.68,127.94 433.99,127.14 435.20,126.27C436.40,125.40 437.57,123.98 439.00,122.84C440.43,121.70 442.43,119.64 443.80,119.41C445.18,119.18 445.98,119.75 447.23,121.47C448.49,123.18 450.09,126.84 451.35,129.70C452.61,132.56 453.71,136.33 454.78,138.62C455.86,140.91 456.77,143.19 457.80,143.42C458.83,143.65 459.74,141.59 460.96,139.99C462.17,138.39 463.70,135.76 465.07,133.82C466.45,131.87 467.59,129.59 469.19,128.33C470.79,127.07 472.39,126.89 474.68,126.27C476.97,125.65 480.40,125.08 482.91,124.62C485.43,124.17 486.80,123.41 489.77,123.53C492.75,123.64 496.86,125.38 500.75,125.31C504.64,125.24 509.44,123.23 513.10,123.11C516.76,123.00 519.39,124.49 522.71,124.62C526.02,124.76 531.28,124.05 533.00,123.94" fill="none" stroke="#152a7c" stroke-width="2.5" stroke-linejoin="round"/>
<path d="M346.00,164.90C347.14,164.78 350.12,164.51 352.86,164.21C355.61,163.91 359.15,163.07 362.47,163.11C365.78,163.16 368.87,164.58 372.76,164.49C376.65,164.39 381.79,162.89 385.80,162.56C389.80,162.24 394.03,162.79 396.77,162.56C399.52,162.34 400.43,162.18 402.26,161.19C404.09,160.21 405.92,158.56 407.75,156.66C409.58,154.77 411.69,151.34 413.24,149.80C414.80,148.27 415.83,147.36 417.08,147.47C418.34,147.58 419.48,148.16 420.79,150.49C422.09,152.82 423.65,158.45 424.91,161.47C426.16,164.49 427.35,167.18 428.34,168.60C429.32,170.02 429.78,170.14 430.81,169.98C431.84,169.82 433.15,168.60 434.51,167.64C435.88,166.68 437.22,165.52 439.00,164.21C440.78,162.91 443.57,160.16 445.18,159.82C446.78,159.48 447.35,160.28 448.61,162.15C449.86,164.03 451.46,168.10 452.72,171.07C453.98,174.05 455.01,177.89 456.15,179.99C457.30,182.10 458.44,183.58 459.58,183.70C460.73,183.81 461.64,182.33 463.01,180.68C464.39,179.03 466.10,175.76 467.82,173.82C469.53,171.87 471.25,170.27 473.31,169.01C475.36,167.76 477.88,166.91 480.17,166.27C482.45,165.63 484.06,165.24 487.03,165.17C490.00,165.10 494.35,166.09 498.01,165.86C501.67,165.63 505.10,163.96 508.99,163.80C512.87,163.64 517.33,164.78 521.34,164.90C525.34,165.01 531.06,164.55 533.00,164.49" fill="none" stroke="#152a7c" stroke-width="2.5" stroke-linejoin="round"/>
<path d="M346.00,203.15C346.91,203.15 348.86,202.92 351.49,203.15C354.12,203.38 358.01,204.69 361.78,204.53C365.55,204.37 370.24,202.31 374.13,202.19C378.02,202.08 381.56,204.02 385.11,203.84C388.65,203.66 392.09,201.90 395.40,201.09C398.72,200.29 402.49,200.29 405.01,199.04C407.52,197.78 408.55,195.38 410.50,193.55C412.44,191.72 414.96,188.40 416.67,188.06C418.39,187.72 419.30,188.86 420.79,191.49C422.27,194.12 424.33,200.87 425.59,203.84C426.85,206.81 427.42,208.14 428.34,209.33C429.25,210.52 430.05,210.98 431.08,210.98C432.11,210.98 433.19,210.17 434.51,209.33C435.83,208.48 437.57,207.38 439.00,205.90C440.43,204.41 441.63,201.90 443.12,200.41C444.60,198.92 446.43,196.86 447.92,196.98C449.41,197.09 450.66,198.58 452.04,201.09C453.41,203.61 454.90,208.76 456.15,212.07C457.41,215.39 458.55,218.98 459.58,220.99C460.61,223.01 461.30,224.26 462.33,224.15C463.36,224.03 464.39,222.20 465.76,220.31C467.13,218.41 468.85,214.82 470.56,212.76C472.28,210.70 473.76,209.21 476.05,207.96C478.34,206.70 480.63,205.97 484.28,205.21C487.94,204.46 493.20,203.73 498.01,203.43C502.81,203.13 507.27,203.47 513.10,203.43C518.93,203.38 529.68,203.20 533.00,203.15" fill="none" stroke="#152a7c" stroke-width="2.5" stroke-linejoin="round"/>
<path d="M346.00,243.43C347.14,243.50 350.12,243.61 352.86,243.84C355.61,244.07 358.69,244.96 362.47,244.80C366.24,244.64 371.62,243.04 375.50,242.88C379.39,242.72 382.48,244.14 385.80,243.84C389.11,243.54 392.66,241.90 395.40,241.09C398.15,240.29 400.20,240.29 402.26,239.04C404.32,237.78 405.88,235.38 407.75,233.55C409.63,231.72 411.91,228.52 413.52,228.06C415.12,227.60 415.92,228.40 417.36,230.80C418.80,233.20 420.79,239.15 422.16,242.47C423.53,245.78 424.56,248.76 425.59,250.70C426.62,252.64 427.19,253.90 428.34,254.13C429.48,254.36 430.68,253.45 432.45,252.07C434.23,250.70 436.99,247.96 439.00,245.90C441.01,243.84 442.66,241.32 444.49,239.72C446.32,238.12 448.38,236.18 449.98,236.29C451.58,236.41 452.72,237.78 454.09,240.41C455.47,243.04 456.95,248.76 458.21,252.07C459.47,255.39 460.61,258.36 461.64,260.31C462.67,262.25 463.36,263.62 464.39,263.74C465.42,263.85 466.33,262.94 467.82,260.99C469.30,259.05 471.48,254.47 473.31,252.07C475.14,249.67 476.74,247.84 478.80,246.58C480.85,245.33 483.14,244.82 485.66,244.53C488.17,244.23 490.69,245.07 493.89,244.80C497.09,244.53 501.21,242.99 504.87,242.88C508.53,242.76 511.16,244.18 515.85,244.11C520.54,244.05 530.14,242.74 533.00,242.47" fill="none" stroke="#152a7c" stroke-width="2.5" stroke-linejoin="round"/>
<path d="M346.00,283.84C347.49,283.56 351.49,282.19 354.92,282.19C358.35,282.19 362.47,283.98 366.58,283.84C370.70,283.70 375.73,281.60 379.62,281.37C383.51,281.14 386.82,282.74 389.91,282.47C393.00,282.19 395.63,281.21 398.15,279.72C400.66,278.24 402.67,275.45 405.01,273.55C407.34,271.65 410.20,268.56 412.14,268.33C414.09,268.10 415.12,269.59 416.67,272.18C418.23,274.76 419.99,280.64 421.47,283.84C422.96,287.04 424.49,289.83 425.59,291.39C426.69,292.94 426.92,293.40 428.06,293.17C429.20,292.94 430.92,291.07 432.45,290.01C433.98,288.96 436.16,287.43 437.26,286.86C438.35,286.29 438.14,286.74 439.00,286.58C439.86,286.42 441.06,287.16 442.43,285.90C443.80,284.64 445.56,280.87 447.23,279.04C448.90,277.21 450.96,275.03 452.45,274.92C453.93,274.81 454.85,275.83 456.15,278.35C457.46,280.87 459.01,286.47 460.27,290.01C461.53,293.56 462.60,297.17 463.70,299.62C464.80,302.07 465.71,304.35 466.86,304.70C468.00,305.04 469.14,303.44 470.56,301.68C471.98,299.92 473.76,296.30 475.36,294.13C476.97,291.96 478.22,290.08 480.17,288.64C482.11,287.20 484.28,286.24 487.03,285.49C489.77,284.73 492.98,284.53 496.64,284.11C500.29,283.70 505.33,283.11 508.99,283.02C512.64,282.92 514.59,283.61 518.59,283.56C522.59,283.52 530.60,282.88 533.00,282.74" fill="none" stroke="#152a7c" stroke-width="2.5" stroke-linejoin="round"/>
<path d="M346.00,324.80C347.83,324.64 353.55,324.11 356.98,323.84C360.41,323.56 362.01,323.31 366.58,323.15C371.16,322.99 380.08,323.27 384.42,322.88C388.77,322.49 390.14,321.69 392.66,320.82C395.17,319.95 397.46,319.11 399.52,317.66C401.58,316.22 403.29,313.71 405.01,312.18C406.72,310.64 408.21,308.58 409.81,308.47C411.41,308.36 413.13,309.38 414.61,311.49C416.10,313.59 417.36,317.78 418.73,321.09C420.10,324.41 421.47,328.87 422.85,331.39C424.22,333.90 425.59,335.73 426.96,336.19C428.34,336.65 429.71,335.39 431.08,334.13C432.45,332.87 433.88,329.85 435.20,328.64C436.52,327.43 437.68,327.25 439.00,326.86C440.32,326.47 441.52,327.73 443.12,326.31C444.72,324.89 446.78,320.36 448.61,318.35C450.44,316.34 452.49,314.35 454.09,314.23C455.70,314.12 456.84,315.38 458.21,317.66C459.58,319.95 460.96,324.30 462.33,327.96C463.70,331.62 465.19,336.83 466.45,339.62C467.70,342.41 468.62,344.47 469.88,344.70C471.13,344.93 472.28,343.10 473.99,340.99C475.71,338.89 478.22,334.25 480.17,332.07C482.11,329.90 483.14,329.33 485.66,327.96C488.17,326.58 492.06,324.23 495.26,323.84C498.46,323.45 501.21,325.74 504.87,325.62C508.53,325.51 512.53,323.40 517.22,323.15C521.91,322.90 530.37,323.95 533.00,324.11" fill="none" stroke="#152a7c" stroke-width="2.5" stroke-linejoin="round"/>
<path d="M346.00,365.21C347.14,364.87 348.74,363.50 352.86,363.15C356.98,362.81 365.67,363.54 370.70,363.15C375.73,362.76 379.39,361.44 383.05,360.82C386.71,360.20 390.14,360.32 392.66,359.45C395.17,358.58 395.90,357.39 398.15,355.61C400.39,353.82 404.05,349.32 406.11,348.74C408.16,348.17 408.85,349.43 410.50,352.18C412.14,354.92 414.38,361.44 415.99,365.21C417.59,368.99 418.84,372.64 420.10,374.82C421.36,376.99 422.39,378.13 423.53,378.25C424.68,378.36 425.59,377.45 426.96,375.50C428.34,373.56 430.35,368.57 431.77,366.58C433.18,364.59 434.27,363.79 435.47,363.56C436.68,363.34 437.61,364.48 439.00,365.21C440.39,365.94 441.97,368.87 443.80,367.96C445.63,367.04 447.81,362.42 449.98,359.72C452.15,357.02 454.90,352.45 456.84,351.76C458.78,351.08 460.04,352.91 461.64,355.61C463.24,358.30 465.07,364.07 466.45,367.96C467.82,371.84 468.85,376.08 469.88,378.93C470.91,381.79 471.59,384.65 472.62,385.11C473.65,385.57 474.79,383.39 476.05,381.68C477.31,379.96 478.80,376.88 480.17,374.82C481.54,372.76 482.45,370.59 484.28,369.33C486.11,368.07 488.86,367.89 491.15,367.27C493.43,366.65 495.49,366.38 498.01,365.62C500.52,364.87 502.92,362.92 506.24,362.74C509.56,362.56 513.45,364.62 517.91,364.53C522.36,364.43 530.48,362.58 533.00,362.19" fill="none" stroke="#152a7c" stroke-width="2.5" stroke-linejoin="round"/>
</g>
<line x1="392.75" y1="65.40" x2="392.75" y2="61.40" stroke="#000" stroke-width="1.2"/>
<line x1="439.50" y1="65.40" x2="439.50" y2="61.40" stroke="#000" stroke-width="1.2"/>
<line x1="486.25" y1="65.40" x2="486.25" y2="61.40" stroke="#000" stroke-width="1.2"/>
<line x1="346" y1="32.00" x2="350.0" y2="32.00" stroke="#000" stroke-width="1.2"/>
<text x="340.40" y="36.80" font-size="13.4" text-anchor="end" font-family='"Liberation Serif", serif' >0.1</text>
<line x1="346" y1="44.65" x2="350.0" y2="44.65" stroke="#000" stroke-width="1.2"/>
<text x="340.40" y="49.45" font-size="13.4" text-anchor="end" font-family='"Liberation Serif", serif' >0.0</text>
<line x1="346" y1="57.30" x2="350.0" y2="57.30" stroke="#000" stroke-width="1.2"/>
<text x="340.40" y="62.10" font-size="13.4" text-anchor="end" font-family='"Liberation Serif", serif' >&#8722;0.1</text>
<line x1="346" y1="65.40" x2="533" y2="65.40" stroke="#000" stroke-width="1"/>
<line x1="392.75" y1="105.60" x2="392.75" y2="101.60" stroke="#000" stroke-width="1.2"/>
<line x1="439.50" y1="105.60" x2="439.50" y2="101.60" stroke="#000" stroke-width="1.2"/>
<line x1="486.25" y1="105.60" x2="486.25" y2="101.60" stroke="#000" stroke-width="1.2"/>
<line x1="346" y1="71.30" x2="350.0" y2="71.30" stroke="#000" stroke-width="1.2"/>
<text x="340.40" y="76.10" font-size="13.4" text-anchor="end" font-family='"Liberation Serif", serif' >0.1</text>
<line x1="346" y1="83.85" x2="350.0" y2="83.85" stroke="#000" stroke-width="1.2"/>
<text x="340.40" y="88.65" font-size="13.4" text-anchor="end" font-family='"Liberation Serif", serif' >0.0</text>
<line x1="346" y1="96.40" x2="350.0" y2="96.40" stroke="#000" stroke-width="1.2"/>
<text x="340.40" y="101.20" font-size="13.4" text-anchor="end" font-family='"Liberation Serif", serif' >&#8722;0.1</text>
<line x1="346" y1="105.60" x2="533" y2="105.60" stroke="#000" stroke-width="1"/>
<line x1="392.75" y1="145.80" x2="392.75" y2="141.80" stroke="#000" stroke-width="1.2"/>
<line x1="439.50" y1="145.80" x2="439.50" y2="141.80" stroke="#000" stroke-width="1.2"/>
<line x1="486.25" y1="145.80" x2="486.25" y2="141.80" stroke="#000" stroke-width="1.2"/>
<line x1="346" y1="109.50" x2="350.0" y2="109.50" stroke="#000" stroke-width="1.2"/>
<text x="340.40" y="114.30" font-size="13.4" text-anchor="end" font-family='"Liberation Serif", serif' >0.1</text>
<line x1="346" y1="121.70" x2="350.0" y2="121.70" stroke="#000" stroke-width="1.2"/>
<text x="340.40" y="126.50" font-size="13.4" text-anchor="end" font-family='"Liberation Serif", serif' >0.0</text>
<line x1="346" y1="133.90" x2="350.0" y2="133.90" stroke="#000" stroke-width="1.2"/>
<text x="340.40" y="138.70" font-size="13.4" text-anchor="end" font-family='"Liberation Serif", serif' >&#8722;0.1</text>
<line x1="346" y1="145.80" x2="533" y2="145.80" stroke="#000" stroke-width="1"/>
<line x1="392.75" y1="186.00" x2="392.75" y2="182.00" stroke="#000" stroke-width="1.2"/>
<line x1="439.50" y1="186.00" x2="439.50" y2="182.00" stroke="#000" stroke-width="1.2"/>
<line x1="486.25" y1="186.00" x2="486.25" y2="182.00" stroke="#000" stroke-width="1.2"/>
<line x1="346" y1="151.45" x2="350.0" y2="151.45" stroke="#000" stroke-width="1.2"/>
<text x="340.40" y="156.25" font-size="13.4" text-anchor="end" font-family='"Liberation Serif", serif' >0.1</text>
<line x1="346" y1="164.40" x2="350.0" y2="164.40" stroke="#000" stroke-width="1.2"/>
<text x="340.40" y="169.20" font-size="13.4" text-anchor="end" font-family='"Liberation Serif", serif' >0.0</text>
<line x1="346" y1="177.35" x2="350.0" y2="177.35" stroke="#000" stroke-width="1.2"/>
<text x="340.40" y="182.15" font-size="13.4" text-anchor="end" font-family='"Liberation Serif", serif' >&#8722;0.1</text>
<line x1="346" y1="186.00" x2="533" y2="186.00" stroke="#000" stroke-width="1"/>
<line x1="392.75" y1="226.20" x2="392.75" y2="222.20" stroke="#000" stroke-width="1.2"/>
<line x1="439.50" y1="226.20" x2="439.50" y2="222.20" stroke="#000" stroke-width="1.2"/>
<line x1="486.25" y1="226.20" x2="486.25" y2="222.20" stroke="#000" stroke-width="1.2"/>
<line x1="346" y1="193.15" x2="350.0" y2="193.15" stroke="#000" stroke-width="1.2"/>
<text x="340.40" y="197.95" font-size="13.4" text-anchor="end" font-family='"Liberation Serif", serif' >0.1</text>
<line x1="346" y1="205.90" x2="350.0" y2="205.90" stroke="#000" stroke-width="1.2"/>
<text x="340.40" y="210.70" font-size="13.4" text-anchor="end" font-family='"Liberation Serif", serif' >0.0</text>
<line x1="346" y1="218.65" x2="350.0" y2="218.65" stroke="#000" stroke-width="1.2"/>
<text x="340.40" y="223.45" font-size="13.4" text-anchor="end" font-family='"Liberation Serif", serif' >&#8722;0.1</text>
<line x1="346" y1="226.20" x2="533" y2="226.20" stroke="#000" stroke-width="1"/>
<line x1="392.75" y1="266.40" x2="392.75" y2="262.40" stroke="#000" stroke-width="1.2"/>
<line x1="439.50" y1="266.40" x2="439.50" y2="262.40" stroke="#000" stroke-width="1.2"/>
<line x1="486.25" y1="266.40" x2="486.25" y2="262.40" stroke="#000" stroke-width="1.2"/>
<line x1="346" y1="231.80" x2="350.0" y2="231.80" stroke="#000" stroke-width="1.2"/>
<text x="340.40" y="236.60" font-size="13.4" text-anchor="end" font-family='"Liberation Serif", serif' >0.1</text>
<line x1="346" y1="244.90" x2="350.0" y2="244.90" stroke="#000" stroke-width="1.2"/>
<text x="340.40" y="249.70" font-size="13.4" text-anchor="end" font-family='"Liberation Serif", serif' >0.0</text>
<line x1="346" y1="258.00" x2="350.0" y2="258.00" stroke="#000" stroke-width="1.2"/>
<text x="340.40" y="262.80" font-size="13.4" text-anchor="end" font-family='"Liberation Serif", serif' >&#8722;0.1</text>
<line x1="346" y1="266.40" x2="533" y2="266.40" stroke="#000" stroke-width="1"/>
<line x1="392.75" y1="306.60" x2="392.75" y2="302.60" stroke="#000" stroke-width="1.2"/>
<line x1="439.50" y1="306.60" x2="439.50" y2="302.60" stroke="#000" stroke-width="1.2"/>
<line x1="486.25" y1="306.60" x2="486.25" y2="302.60" stroke="#000" stroke-width="1.2"/>
<line x1="346" y1="272.45" x2="350.0" y2="272.45" stroke="#000" stroke-width="1.2"/>
<text x="340.40" y="277.25" font-size="13.4" text-anchor="end" font-family='"Liberation Serif", serif' >0.1</text>
<line x1="346" y1="285.90" x2="350.0" y2="285.90" stroke="#000" stroke-width="1.2"/>
<text x="340.40" y="290.70" font-size="13.4" text-anchor="end" font-family='"Liberation Serif", serif' >0.0</text>
<line x1="346" y1="299.35" x2="350.0" y2="299.35" stroke="#000" stroke-width="1.2"/>
<text x="340.40" y="304.15" font-size="13.4" text-anchor="end" font-family='"Liberation Serif", serif' >&#8722;0.1</text>
<line x1="346" y1="306.60" x2="533" y2="306.60" stroke="#000" stroke-width="1"/>
<line x1="392.75" y1="346.80" x2="392.75" y2="342.80" stroke="#000" stroke-width="1.2"/>
<line x1="439.50" y1="346.80" x2="439.50" y2="342.80" stroke="#000" stroke-width="1.2"/>
<line x1="486.25" y1="346.80" x2="486.25" y2="342.80" stroke="#000" stroke-width="1.2"/>
<line x1="346" y1="310.70" x2="350.0" y2="310.70" stroke="#000" stroke-width="1.2"/>
<text x="340.40" y="315.50" font-size="13.4" text-anchor="end" font-family='"Liberation Serif", serif' >0.1</text>
<line x1="346" y1="325.15" x2="350.0" y2="325.15" stroke="#000" stroke-width="1.2"/>
<text x="340.40" y="329.95" font-size="13.4" text-anchor="end" font-family='"Liberation Serif", serif' >0.0</text>
<line x1="346" y1="339.60" x2="350.0" y2="339.60" stroke="#000" stroke-width="1.2"/>
<text x="340.40" y="344.40" font-size="13.4" text-anchor="end" font-family='"Liberation Serif", serif' >&#8722;0.1</text>
<line x1="346" y1="346.80" x2="533" y2="346.80" stroke="#000" stroke-width="1"/>
<line x1="392.75" y1="387.00" x2="392.75" y2="383.00" stroke="#000" stroke-width="1.2"/>
<line x1="439.50" y1="387.00" x2="439.50" y2="383.00" stroke="#000" stroke-width="1.2"/>
<line x1="486.25" y1="387.00" x2="486.25" y2="383.00" stroke="#000" stroke-width="1.2"/>
<line x1="346" y1="350.20" x2="350.0" y2="350.20" stroke="#000" stroke-width="1.2"/>
<text x="340.40" y="355.00" font-size="13.4" text-anchor="end" font-family='"Liberation Serif", serif' >0.1</text>
<line x1="346" y1="363.80" x2="350.0" y2="363.80" stroke="#000" stroke-width="1.2"/>
<text x="340.40" y="368.60" font-size="13.4" text-anchor="end" font-family='"Liberation Serif", serif' >0.0</text>
<line x1="346" y1="377.40" x2="350.0" y2="377.40" stroke="#000" stroke-width="1.2"/>
<text x="340.40" y="382.20" font-size="13.4" text-anchor="end" font-family='"Liberation Serif", serif' >&#8722;0.1</text>
<rect x="346" y="25.2" width="187" height="361.8" fill="none" stroke="#000" stroke-width="1.5"/>
<text x="346.00" y="401.20" font-size="13.4" text-anchor="middle" font-family='"Liberation Serif", serif' >&#8722;40</text>
<text x="392.75" y="401.20" font-size="13.4" text-anchor="middle" font-family='"Liberation Serif", serif' >&#8722;20</text>
<text x="439.50" y="401.20" font-size="13.4" text-anchor="middle" font-family='"Liberation Serif", serif' >0</text>
<text x="486.25" y="401.20" font-size="13.4" text-anchor="middle" font-family='"Liberation Serif", serif' >20</text>
<text x="533.00" y="401.20" font-size="13.4" text-anchor="middle" font-family='"Liberation Serif", serif' >40</text>
<text x="439.60" y="425.00" font-size="22.7" text-anchor="middle" font-family='"Liberation Serif", serif' >Detuning (MHz)</text>
<text transform="translate(306,206.5) rotate(-90)" x="0" y="0" font-size="26.7" text-anchor="middle" font-family='"Liberation Serif", serif'>Intensity contrast</text>
<text transform="translate(300.5,19.3) scale(1.0,1)" x="0" y="0" font-size="26" font-family='"Liberation Sans", sans-serif'>c</text>
<rect x="574.5" y="24.5" width="75.0" height="367.0" fill="#00007f"/>
<defs><radialGradient id="g_sat1" cx="0.5" cy="0.5" r="0.5"><stop offset="0.000" stop-color="#ffffff"/><stop offset="0.025" stop-color="#ffffff"/><stop offset="0.050" stop-color="#ffffff"/><stop offset="0.075" stop-color="#ffffff"/><stop offset="0.100" stop-color="#ffffff"/><stop offset="0.125" stop-color="#ffffff"/><stop offset="0.150" stop-color="#ffffff"/><stop offset="0.175" stop-color="#ffffff"/><stop offset="0.200" stop-color="#ffffff"/><stop offset="0.225" stop-color="#ffffff"/><stop offset="0.250" stop-color="#ffffff"/><stop offset="0.275" stop-color="#ffffff"/><stop offset="0.300" stop-color="#ffffff"/><stop offset="0.325" stop-color="#ffffff"/><stop offset="0.350" stop-color="#ffffff"/><stop offset="0.375" stop-color="#ffffff"/><stop offset="0.400" stop-color="#ffffff"/><stop offset="0.425" stop-color="#ffffff"/><stop offset="0.450" stop-color="#ffffff"/><stop offset="0.475" stop-color="#ffffff"/><stop offset="0.500" stop-color="#ffffff"/><stop offset="0.525" stop-color="#ffffff"/><stop offset="0.550" stop-color="#ffffff"/><stop offset="0.575" stop-color="#ffffff"/><stop offset="0.600" stop-color="#fcfcfc"/><stop offset="0.625" stop-color="#e7e7e7"/><stop offset="0.650" stop-color="#d2d2d2"/><stop offset="0.675" stop-color="#bcbcbc"/><stop offset="0.700" stop-color="#a6a6a6"/><stop offset="0.725" stop-color="#8f8f8f"/><stop offset="0.750" stop-color="#787878"/><stop offset="0.775" stop-color="#646464"/><stop offset="0.800" stop-color="#535353"/><stop offset="0.825" stop-color="#464646"/><stop offset="0.850" stop-color="#393939"/><stop offset="0.875" stop-color="#2e2e2e"/><stop offset="0.900" stop-color="#242424"/><stop offset="0.925" stop-color="#1a1a1a"/><stop offset="0.950" stop-color="#111111"/><stop offset="0.975" stop-color="#080808"/><stop offset="1.000" stop-color="#000000"/></radialGradient><radialGradient id="g_sat5" cx="0.5" cy="0.5" r="0.5"><stop offset="0.000" stop-color="#ffffff"/><stop offset="0.025" stop-color="#ffffff"/><stop offset="0.050" stop-color="#ffffff"/><stop offset="0.075" stop-color="#ffffff"/><stop offset="0.100" stop-color="#ffffff"/><stop offset="0.125" stop-color="#ffffff"/><stop offset="0.150" stop-color="#ffffff"/><stop offset="0.175" stop-color="#ffffff"/><stop offset="0.200" stop-color="#ffffff"/><stop offset="0.225" stop-color="#ffffff"/><stop offset="0.250" stop-color="#ffffff"/><stop offset="0.275" stop-color="#ffffff"/><stop offset="0.300" stop-color="#ffffff"/><stop offset="0.325" stop-color="#ffffff"/><stop offset="0.350" stop-color="#ffffff"/><stop offset="0.375" stop-color="#ffffff"/><stop offset="0.400" stop-color="#ffffff"/><stop offset="0.425" stop-color="#ffffff"/><stop offset="0.450" stop-color="#ffffff"/><stop offset="0.475" stop-color="#ffffff"/><stop offset="0.500" stop-color="#ffffff"/><stop offset="0.525" stop-color="#ffffff"/><stop offset="0.550" stop-color="#ffffff"/><stop offset="0.575" stop-color="#f8f8f8"/><stop offset="0.600" stop-color="#e3e3e3"/><stop offset="0.625" stop-color="#cacaca"/><stop offset="0.650" stop-color="#afafaf"/><stop offset="0.675" stop-color="#999999"/><stop offset="0.700" stop-color="#868686"/><stop offset="0.725" stop-color="#747474"/><stop offset="0.750" stop-color="#646464"/><stop offset="0.775" stop-color="#575757"/><stop offset="0.800" stop-color="#4c4c4c"/><stop offset="0.825" stop-color="#434343"/><stop offset="0.850" stop-color="#3b3b3b"/><stop offset="0.875" stop-color="#333333"/><stop offset="0.900" stop-color="#2b2b2b"/><stop offset="0.925" stop-color="#222222"/><stop offset="0.950" stop-color="#181818"/><stop offset="0.975" stop-color="#0c0c0c"/><stop offset="1.000" stop-color="#000000"/></radialGradient><radialGradient id="g_c2" cx="0.5" cy="0.5" r="0.5"><stop offset="0.000" stop-color="#ffffff"/><stop offset="0.025" stop-color="#ffffff"/><stop offset="0.050" stop-color="#ffffff"/><stop offset="0.075" stop-color="#ffffff"/><stop offset="0.100" stop-color="#ffffff"/><stop offset="0.125" stop-color="#ffffff"/><stop offset="0.150" stop-color="#ffffff"/><stop offset="0.175" stop-color="#ffffff"/><stop offset="0.200" stop-color="#ffffff"/><stop offset="0.225" stop-color="#ffffff"/><stop offset="0.250" stop-color="#ffffff"/><stop offset="0.275" stop-color="#ffffff"/><stop offset="0.300" stop-color="#ffffff"/><stop offset="0.325" stop-color="#ffffff"/><stop offset="0.350" stop-color="#ffffff"/><stop offset="0.375" stop-color="#fdfdfd"/><stop offset="0.400" stop-color="#fcfcfc"/><stop offset="0.425" stop-color="#fafafa"/><stop offset="0.450" stop-color="#f8f8f8"/><stop offset="0.475" stop-color="#f6f6f6"/><stop offset="0.500" stop-color="#f5f5f5"/><stop offset="0.525" stop-color="#f3f3f3"/><stop offset="0.550" stop-color="#f2f2f2"/><stop offset="0.575" stop-color="#f1f1f1"/><stop offset="0.600" stop-color="#efefef"/><stop offset="0.625" stop-color="#eeeeee"/><stop offset="0.650" stop-color="#ededed"/><stop offset="0.675" stop-color="#ececec"/><stop offset="0.700" stop-color="#eaeaea"/><stop offset="0.725" stop-color="#e8e8e8"/><stop offset="0.750" stop-color="#e6e6e6"/><stop offset="0.775" stop-color="#e4e4e4"/><stop offset="0.800" stop-color="#e0e0e0"/><stop offset="0.825" stop-color="#dcdcdc"/><stop offset="0.850" stop-color="#d6d6d6"/><stop offset="0.875" stop-color="#cecece"/><stop offset="0.900" stop-color="#c4c4c4"/><stop offset="0.925" stop-color="#b9b9b9"/><stop offset="0.950" stop-color="#acacac"/><stop offset="0.975" stop-color="#979797"/><stop offset="1.000" stop-color="#737373"/></radialGradient><radialGradient id="g_h2" cx="0.5" cy="0.5" r="0.5"><stop offset="0.000" stop-color="#bfbfbf"/><stop offset="0.025" stop-color="#bebebe"/><stop offset="0.050" stop-color="#bdbdbd"/><stop offset="0.075" stop-color="#bbbbbb"/><stop offset="0.100" stop-color="#b9b9b9"/><stop offset="0.125" stop-color="#b7b7b7"/><stop offset="0.150" stop-color="#b5b5b5"/><stop offset="0.175" stop-color="#b3b3b3"/><stop offset="0.200" stop-color="#b0b0b0"/><stop offset="0.225" stop-color="#aeaeae"/><stop offset="0.250" stop-color="#ababab"/><stop offset="0.275" stop-color="#a8a8a8"/><stop offset="0.300" stop-color="#a5a5a5"/><stop offset="0.325" stop-color="#a2a2a2"/><stop offset="0.350" stop-color="#9f9f9f"/><stop offset="0.375" stop-color="#9c9c9c"/><stop offset="0.400" stop-color="#999999"/><stop offset="0.425" stop-color="#969696"/><stop offset="0.450" stop-color="#929292"/><stop offset="0.475" stop-color="#8e8e8e"/><stop offset="0.500" stop-color="#898989"/><stop offset="0.525" stop-color="#848484"/><stop offset="0.550" stop-color="#808080"/><stop offset="0.575" stop-color="#7a7a7a"/><stop offset="0.600" stop-color="#747474"/><stop offset="0.625" stop-color="#6e6e6e"/><stop offset="0.650" stop-color="#676767"/><stop offset="0.675" stop-color="#606060"/><stop offset="0.700" stop-color="#595959"/><stop offset="0.725" stop-color="#515151"/><stop offset="0.750" stop-color="#494949"/><stop offset="0.775" stop-color="#404040"/><stop offset="0.800" stop-color="#373737"/><stop offset="0.825" stop-color="#2e2e2e"/><stop offset="0.850" stop-color="#252525"/><stop offset="0.875" stop-color="#1d1d1d"/><stop offset="0.900" stop-color="#171717"/><stop offset="0.925" stop-color="#101010"/><stop offset="0.950" stop-color="#0a0a0a"/><stop offset="0.975" stop-color="#050505"/><stop offset="1.000" stop-color="#000000"/></radialGradient><radialGradient id="g_c3l" cx="0.5" cy="0.5" r="0.5"><stop offset="0.000" stop-color="#cccccc"/><stop offset="0.025" stop-color="#cccccc"/><stop offset="0.050" stop-color="#cccccc"/><stop offset="0.075" stop-color="#cbcbcb"/><stop offset="0.100" stop-color="#cbcbcb"/><stop offset="0.125" stop-color="#cbcbcb"/><stop offset="0.150" stop-color="#cacaca"/><stop offset="0.175" stop-color="#c9c9c9"/><stop offset="0.200" stop-color="#c9c9c9"/><stop offset="0.225" stop-color="#c8c8c8"/><stop offset="0.250" stop-color="#c7c7c7"/><stop offset="0.275" stop-color="#c6c6c6"/><stop offset="0.300" stop-color="#c5c5c5"/><stop offset="0.325" stop-color="#c3c3c3"/><stop offset="0.350" stop-color="#c2c2c2"/><stop offset="0.375" stop-color="#c1c1c1"/><stop offset="0.400" stop-color="#c0c0c0"/><stop offset="0.425" stop-color="#bebebe"/><stop offset="0.450" stop-color="#bdbdbd"/><stop offset="0.475" stop-color="#bbbbbb"/><stop offset="0.500" stop-color="#b9b9b9"/><stop offset="0.525" stop-color="#b8b8b8"/><stop offset="0.550" stop-color="#b6b6b6"/><stop offset="0.575" stop-color="#b4b4b4"/><stop offset="0.600" stop-color="#b2b2b2"/><stop offset="0.625" stop-color="#b0b0b0"/><stop offset="0.650" stop-color="#aeaeae"/><stop offset="0.675" stop-color="#aaaaaa"/><stop offset="0.700" stop-color="#a7a7a7"/><stop offset="0.725" stop-color="#a3a3a3"/><stop offset="0.750" stop-color="#9f9f9f"/><stop offset="0.775" stop-color="#9a9a9a"/><stop offset="0.800" stop-color="#969696"/><stop offset="0.825" stop-color="#919191"/><stop offset="0.850" stop-color="#8c8c8c"/><stop offset="0.875" stop-color="#878787"/><stop offset="0.900" stop-color="#828282"/><stop offset="0.925" stop-color="#7d7d7d"/><stop offset="0.950" stop-color="#777777"/><stop offset="0.975" stop-color="#717171"/><stop offset="1.000" stop-color="#6b6b6b"/></radialGradient><radialGradient id="g_h3l" cx="0.5" cy="0.5" r="0.5"><stop offset="0.000" stop-color="#8c8c8c"/><stop offset="0.025" stop-color="#8c8c8c"/><stop offset="0.050" stop-color="#8c8c8c"/><stop offset="0.075" stop-color="#8b8b8b"/><stop offset="0.100" stop-color="#8a8a8a"/><stop offset="0.125" stop-color="#898989"/><stop offset="0.150" stop-color="#888888"/><stop offset="0.175" stop-color="#878787"/><stop offset="0.200" stop-color="#868686"/><stop offset="0.225" stop-color="#848484"/><stop offset="0.250" stop-color="#838383"/><stop offset="0.275" stop-color="#818181"/><stop offset="0.300" stop-color="#808080"/><stop offset="0.325" stop-color="#7e7e7e"/><stop offset="0.350" stop-color="#7b7b7b"/><stop offset="0.375" stop-color="#797979"/><stop offset="0.400" stop-color="#767676"/><stop offset="0.425" stop-color="#727272"/><stop offset="0.450" stop-color="#6f6f6f"/><stop offset="0.475" stop-color="#6b6b6b"/><stop offset="0.500" stop-color="#676767"/><stop offset="0.525" stop-color="#636363"/><stop offset="0.550" stop-color="#5e5e5e"/><stop offset="0.575" stop-color="#5a5a5a"/><stop offset="0.600" stop-color="#565656"/><stop offset="0.625" stop-color="#515151"/><stop offset="0.650" stop-color="#4b4b4b"/><stop offset="0.675" stop-color="#454545"/><stop offset="0.700" stop-color="#3f3f3f"/><stop offset="0.725" stop-color="#393939"/><stop offset="0.750" stop-color="#333333"/><stop offset="0.775" stop-color="#2d2d2d"/><stop offset="0.800" stop-color="#272727"/><stop offset="0.825" stop-color="#212121"/><stop offset="0.850" stop-color="#1c1c1c"/><stop offset="0.875" stop-color="#171717"/><stop offset="0.900" stop-color="#121212"/><stop offset="0.925" stop-color="#0d0d0d"/><stop offset="0.950" stop-color="#090909"/><stop offset="0.975" stop-color="#040404"/><stop offset="1.000" stop-color="#000000"/></radialGradient><radialGradient id="g_c3r" cx="0.5" cy="0.5" r="0.5"><stop offset="0.000" stop-color="#ffffff"/><stop offset="0.025" stop-color="#ffffff"/><stop offset="0.050" stop-color="#ffffff"/><stop offset="0.075" stop-color="#ffffff"/><stop offset="0.100" stop-color="#ffffff"/><stop offset="0.125" stop-color="#ffffff"/><stop offset="0.150" stop-color="#fefefe"/><stop offset="0.175" stop-color="#fdfdfd"/><stop offset="0.200" stop-color="#fcfcfc"/><stop offset="0.225" stop-color="#fbfbfb"/><stop offset="0.250" stop-color="#fafafa"/><stop offset="0.275" stop-color="#f8f8f8"/><stop offset="0.300" stop-color="#f7f7f7"/><stop offset="0.325" stop-color="#f5f5f5"/><stop offset="0.350" stop-color="#f4f4f4"/><stop offset="0.375" stop-color="#f3f3f3"/><stop offset="0.400" stop-color="#f1f1f1"/><stop offset="0.425" stop-color="#f0f0f0"/><stop offset="0.450" stop-color="#eeeeee"/><stop offset="0.475" stop-color="#ededed"/><stop offset="0.500" stop-color="#ebebeb"/><stop offset="0.525" stop-color="#e9e9e9"/><stop offset="0.550" stop-color="#e7e7e7"/><stop offset="0.575" stop-color="#e5e5e5"/><stop offset="0.600" stop-color="#e3e3e3"/><stop offset="0.625" stop-color="#e0e0e0"/><stop offset="0.650" stop-color="#dcdcdc"/><stop offset="0.675" stop-color="#d8d8d8"/><stop offset="0.700" stop-color="#d3d3d3"/><stop offset="0.725" stop-color="#cecece"/><stop offset="0.750" stop-color="#c8c8c8"/><stop offset="0.775" stop-color="#c2c2c2"/><stop offset="0.800" stop-color="#bbbbbb"/><stop offset="0.825" stop-color="#b4b4b4"/><stop offset="0.850" stop-color="#adadad"/><stop offset="0.875" stop-color="#a5a5a5"/><stop offset="0.900" stop-color="#9e9e9e"/><stop offset="0.925" stop-color="#969696"/><stop offset="0.950" stop-color="#8d8d8d"/><stop offset="0.975" stop-color="#848484"/><stop offset="1.000" stop-color="#7a7a7a"/></radialGradient><radialGradient id="g_h3r" cx="0.5" cy="0.5" r="0.5"><stop offset="0.000" stop-color="#999999"/><stop offset="0.025" stop-color="#999999"/><stop offset="0.050" stop-color="#989898"/><stop offset="0.075" stop-color="#989898"/><stop offset="0.100" stop-color="#979797"/><stop offset="0.125" stop-color="#969696"/><stop offset="0.150" stop-color="#949494"/><stop offset="0.175" stop-color="#939393"/><stop offset="0.200" stop-color="#919191"/><stop offset="0.225" stop-color="#8f8f8f"/><stop offset="0.250" stop-color="#8d8d8d"/><stop offset="0.275" stop-color="#8b8b8b"/><stop offset="0.300" stop-color="#898989"/><stop offset="0.325" stop-color="#878787"/><stop offset="0.350" stop-color="#858585"/><stop offset="0.375" stop-color="#828282"/><stop offset="0.400" stop-color="#7f7f7f"/><stop offset="0.425" stop-color="#7c7c7c"/><stop offset="0.450" stop-color="#787878"/><stop offset="0.475" stop-color="#747474"/><stop offset="0.500" stop-color="#707070"/><stop offset="0.525" stop-color="#6c6c6c"/><stop offset="0.550" stop-color="#676767"/><stop offset="0.575" stop-color="#626262"/><stop offset="0.600" stop-color="#5d5d5d"/><stop offset="0.625" stop-color="#585858"/><stop offset="0.650" stop-color="#535353"/><stop offset="0.675" stop-color="#4c4c4c"/><stop offset="0.700" stop-color="#454545"/><stop offset="0.725" stop-color="#3e3e3e"/><stop offset="0.750" stop-color="#373737"/><stop offset="0.775" stop-color="#2f2f2f"/><stop offset="0.800" stop-color="#282828"/><stop offset="0.825" stop-color="#222222"/><stop offset="0.850" stop-color="#1c1c1c"/><stop offset="0.875" stop-color="#171717"/><stop offset="0.900" stop-color="#121212"/><stop offset="0.925" stop-color="#0d0d0d"/><stop offset="0.950" stop-color="#080808"/><stop offset="0.975" stop-color="#040404"/><stop offset="1.000" stop-color="#000000"/></radialGradient><radialGradient id="g_c4" cx="0.5" cy="0.5" r="0.5"><stop offset="0.000" stop-color="#ffffff"/><stop offset="0.025" stop-color="#ffffff"/><stop offset="0.050" stop-color="#ffffff"/><stop offset="0.075" stop-color="#ffffff"/><stop offset="0.100" stop-color="#ffffff"/><stop offset="0.125" stop-color="#fefefe"/><stop offset="0.150" stop-color="#fcfcfc"/><stop offset="0.175" stop-color="#f9f9f9"/><stop offset="0.200" stop-color="#f7f7f7"/><stop offset="0.225" stop-color="#f4f4f4"/><stop offset="0.250" stop-color="#f2f2f2"/><stop offset="0.275" stop-color="#efefef"/><stop offset="0.300" stop-color="#ececec"/><stop offset="0.325" stop-color="#e9e9e9"/><stop offset="0.350" stop-color="#e6e6e6"/><stop offset="0.375" stop-color="#e3e3e3"/><stop offset="0.400" stop-color="#e0e0e0"/><stop offset="0.425" stop-color="#dddddd"/><stop offset="0.450" stop-color="#dadada"/><stop offset="0.475" stop-color="#d7d7d7"/><stop offset="0.500" stop-color="#d4d4d4"/><stop offset="0.525" stop-color="#d1d1d1"/><stop offset="0.550" stop-color="#cecece"/><stop offset="0.575" stop-color="#cacaca"/><stop offset="0.600" stop-color="#c7c7c7"/><stop offset="0.625" stop-color="#c4c4c4"/><stop offset="0.650" stop-color="#c0c0c0"/><stop offset="0.675" stop-color="#bdbdbd"/><stop offset="0.700" stop-color="#bababa"/><stop offset="0.725" stop-color="#b7b7b7"/><stop offset="0.750" stop-color="#b4b4b4"/><stop offset="0.775" stop-color="#b0b0b0"/><stop offset="0.800" stop-color="#acacac"/><stop offset="0.825" stop-color="#a8a8a8"/><stop offset="0.850" stop-color="#a4a4a4"/><stop offset="0.875" stop-color="#9f9f9f"/><stop offset="0.900" stop-color="#999999"/><stop offset="0.925" stop-color="#929292"/><stop offset="0.950" stop-color="#8a8a8a"/><stop offset="0.975" stop-color="#818181"/><stop offset="1.000" stop-color="#787878"/></radialGradient><radialGradient id="g_h4" cx="0.5" cy="0.5" r="0.5"><stop offset="0.000" stop-color="#999999"/><stop offset="0.025" stop-color="#999999"/><stop offset="0.050" stop-color="#989898"/><stop offset="0.075" stop-color="#979797"/><stop offset="0.100" stop-color="#969696"/><stop offset="0.125" stop-color="#959595"/><stop offset="0.150" stop-color="#949494"/><stop offset="0.175" stop-color="#929292"/><stop offset="0.200" stop-color="#919191"/><stop offset="0.225" stop-color="#8f8f8f"/><stop offset="0.250" stop-color="#8d8d8d"/><stop offset="0.275" stop-color="#8b8b8b"/><stop offset="0.300" stop-color="#898989"/><stop offset="0.325" stop-color="#878787"/><stop offset="0.350" stop-color="#858585"/><stop offset="0.375" stop-color="#828282"/><stop offset="0.400" stop-color="#808080"/><stop offset="0.425" stop-color="#7c7c7c"/><stop offset="0.450" stop-color="#797979"/><stop offset="0.475" stop-color="#757575"/><stop offset="0.500" stop-color="#717171"/><stop offset="0.525" stop-color="#6d6d6d"/><stop offset="0.550" stop-color="#696969"/><stop offset="0.575" stop-color="#646464"/><stop offset="0.600" stop-color="#5f5f5f"/><stop offset="0.625" stop-color="#5a5a5a"/><stop offset="0.650" stop-color="#555555"/><stop offset="0.675" stop-color="#4e4e4e"/><stop offset="0.700" stop-color="#464646"/><stop offset="0.725" stop-color="#3e3e3e"/><stop offset="0.750" stop-color="#363636"/><stop offset="0.775" stop-color="#2e2e2e"/><stop offset="0.800" stop-color="#262626"/><stop offset="0.825" stop-color="#202020"/><stop offset="0.850" stop-color="#1a1a1a"/><stop offset="0.875" stop-color="#151515"/><stop offset="0.900" stop-color="#101010"/><stop offset="0.925" stop-color="#0b0b0b"/><stop offset="0.950" stop-color="#070707"/><stop offset="0.975" stop-color="#030303"/><stop offset="1.000" stop-color="#000000"/></radialGradient><radialGradient id="g_fb4" cx="0.5" cy="0.5" r="0.5"><stop offset="0.000" stop-color="#404040"/><stop offset="0.025" stop-color="#3f3f3f"/><stop offset="0.050" stop-color="#3f3f3f"/><stop offset="0.075" stop-color="#3e3e3e"/><stop offset="0.100" stop-color="#3d3d3d"/><stop offset="0.125" stop-color="#3d3d3d"/><stop offset="0.150" stop-color="#3c3c3c"/><stop offset="0.175" stop-color="#3b3b3b"/><stop offset="0.200" stop-color="#3a3a3a"/><stop offset="0.225" stop-color="#3a3a3a"/><stop offset="0.250" stop-color="#393939"/><stop offset="0.275" stop-color="#383838"/><stop offset="0.300" stop-color="#373737"/><stop offset="0.325" stop-color="#363636"/><stop offset="0.350" stop-color="#353535"/><stop offset="0.375" stop-color="#343434"/><stop offset="0.400" stop-color="#333333"/><stop offset="0.425" stop-color="#323232"/><stop offset="0.450" stop-color="#313131"/><stop offset="0.475" stop-color="#303030"/><stop offset="0.500" stop-color="#2f2f2f"/><stop offset="0.525" stop-color="#2e2e2e"/><stop offset="0.550" stop-color="#2d2d2d"/><stop offset="0.575" stop-color="#2c2c2c"/><stop offset="0.600" stop-color="#2a2a2a"/><stop offset="0.625" stop-color="#292929"/><stop offset="0.650" stop-color="#282828"/><stop offset="0.675" stop-color="#262626"/><stop offset="0.700" stop-color="#252525"/><stop offset="0.725" stop-color="#232323"/><stop offset="0.750" stop-color="#222222"/><stop offset="0.775" stop-color="#202020"/><stop offset="0.800" stop-color="#1e1e1e"/><stop offset="0.825" stop-color="#1c1c1c"/><stop offset="0.850" stop-color="#191919"/><stop offset="0.875" stop-color="#171717"/><stop offset="0.900" stop-color="#131313"/><stop offset="0.925" stop-color="#0f0f0f"/><stop offset="0.950" stop-color="#0a0a0a"/><stop offset="0.975" stop-color="#050505"/><stop offset="1.000" stop-color="#000000"/></radialGradient><radialGradient id="g_fb2" cx="0.5" cy="0.5" r="0.5"><stop offset="0.000" stop-color="#262626"/><stop offset="0.025" stop-color="#262626"/><stop offset="0.050" stop-color="#262626"/><stop offset="0.075" stop-color="#262626"/><stop offset="0.100" stop-color="#262626"/><stop offset="0.125" stop-color="#262626"/><stop offset="0.150" stop-color="#252525"/><stop offset="0.175" stop-color="#252525"/><stop offset="0.200" stop-color="#252525"/><stop offset="0.225" stop-color="#242424"/><stop offset="0.250" stop-color="#242424"/><stop offset="0.275" stop-color="#232323"/><stop offset="0.300" stop-color="#232323"/><stop offset="0.325" stop-color="#232323"/><stop offset="0.350" stop-color="#222222"/><stop offset="0.375" stop-color="#222222"/><stop offset="0.400" stop-color="#212121"/><stop offset="0.425" stop-color="#212121"/><stop offset="0.450" stop-color="#202020"/><stop offset="0.475" stop-color="#1f1f1f"/><stop offset="0.500" stop-color="#1f1f1f"/><stop offset="0.525" stop-color="#1e1e1e"/><stop offset="0.550" stop-color="#1d1d1d"/><stop offset="0.575" stop-color="#1c1c1c"/><stop offset="0.600" stop-color="#1b1b1b"/><stop offset="0.625" stop-color="#1a1a1a"/><stop offset="0.650" stop-color="#191919"/><stop offset="0.675" stop-color="#181818"/><stop offset="0.700" stop-color="#171717"/><stop offset="0.725" stop-color="#161616"/><stop offset="0.750" stop-color="#141414"/><stop offset="0.775" stop-color="#131313"/><stop offset="0.800" stop-color="#111111"/><stop offset="0.825" stop-color="#101010"/><stop offset="0.850" stop-color="#0e0e0e"/><stop offset="0.875" stop-color="#0c0c0c"/><stop offset="0.900" stop-color="#0a0a0a"/><stop offset="0.925" stop-color="#080808"/><stop offset="0.950" stop-color="#060606"/><stop offset="0.975" stop-color="#030303"/><stop offset="1.000" stop-color="#000000"/></radialGradient><radialGradient id="g_fb1" cx="0.5" cy="0.5" r="0.5"><stop offset="0.000" stop-color="#0d0d0d"/><stop offset="0.025" stop-color="#0d0d0d"/><stop offset="0.050" stop-color="#0d0d0d"/><stop offset="0.075" stop-color="#0c0c0c"/><stop offset="0.100" stop-color="#0c0c0c"/><stop offset="0.125" stop-color="#0c0c0c"/><stop offset="0.150" stop-color="#0c0c0c"/><stop offset="0.175" stop-color="#0c0c0c"/><stop offset="0.200" stop-color="#0c0c0c"/><stop offset="0.225" stop-color="#0c0c0c"/><stop offset="0.250" stop-color="#0b0b0b"/><stop offset="0.275" stop-color="#0b0b0b"/><stop offset="0.300" stop-color="#0b0b0b"/><stop offset="0.325" stop-color="#0b0b0b"/><stop offset="0.350" stop-color="#0a0a0a"/><stop offset="0.375" stop-color="#0a0a0a"/><stop offset="0.400" stop-color="#0a0a0a"/><stop offset="0.425" stop-color="#0a0a0a"/><stop offset="0.450" stop-color="#090909"/><stop offset="0.475" stop-color="#090909"/><stop offset="0.500" stop-color="#090909"/><stop offset="0.525" stop-color="#090909"/><stop offset="0.550" stop-color="#080808"/><stop offset="0.575" stop-color="#080808"/><stop offset="0.600" stop-color="#080808"/><stop offset="0.625" stop-color="#070707"/><stop offset="0.650" stop-color="#070707"/><stop offset="0.675" stop-color="#070707"/><stop offset="0.700" stop-color="#060606"/><stop offset="0.725" stop-color="#060606"/><stop offset="0.750" stop-color="#050505"/><stop offset="0.775" stop-color="#050505"/><stop offset="0.800" stop-color="#040404"/><stop offset="0.825" stop-color="#040404"/><stop offset="0.850" stop-color="#030303"/><stop offset="0.875" stop-color="#030303"/><stop offset="0.900" stop-color="#020202"/><stop offset="0.925" stop-color="#020202"/><stop offset="0.950" stop-color="#010101"/><stop offset="0.975" stop-color="#010101"/><stop offset="1.000" stop-color="#000000"/></radialGradient><radialGradient id="g_fb5" cx="0.5" cy="0.5" r="0.5"><stop offset="0.000" stop-color="#090909"/><stop offset="0.025" stop-color="#090909"/><stop offset="0.050" stop-color="#090909"/><stop offset="0.075" stop-color="#090909"/><stop offset="0.100" stop-color="#090909"/><stop offset="0.125" stop-color="#090909"/><stop offset="0.150" stop-color="#090909"/><stop offset="0.175" stop-color="#080808"/><stop offset="0.200" stop-color="#080808"/><stop offset="0.225" stop-color="#080808"/><stop offset="0.250" stop-color="#080808"/><stop offset="0.275" stop-color="#080808"/><stop offset="0.300" stop-color="#080808"/><stop offset="0.325" stop-color="#080808"/><stop offset="0.350" stop-color="#070707"/><stop offset="0.375" stop-color="#070707"/><stop offset="0.400" stop-color="#070707"/><stop offset="0.425" stop-color="#070707"/><stop offset="0.450" stop-color="#070707"/><stop offset="0.475" stop-color="#070707"/><stop offset="0.500" stop-color="#060606"/><stop offset="0.525" stop-color="#060606"/><stop offset="0.550" stop-color="#060606"/><stop offset="0.575" stop-color="#060606"/><stop offset="0.600" stop-color="#060606"/><stop offset="0.625" stop-color="#050505"/><stop offset="0.650" stop-color="#050505"/><stop offset="0.675" stop-color="#050505"/><stop offset="0.700" stop-color="#040404"/><stop offset="0.725" stop-color="#040404"/><stop offset="0.750" stop-color="#040404"/><stop offset="0.775" stop-color="#030303"/><stop offset="0.800" stop-color="#030303"/><stop offset="0.825" stop-color="#030303"/><stop offset="0.850" stop-color="#020202"/><stop offset="0.875" stop-color="#020202"/><stop offset="0.900" stop-color="#020202"/><stop offset="0.925" stop-color="#010101"/><stop offset="0.950" stop-color="#010101"/><stop offset="0.975" stop-color="#000000"/><stop offset="1.000" stop-color="#000000"/></radialGradient><filter id="jetf" x="0" y="0" width="1" height="1" filterUnits="objectBoundingBox" color-interpolation-filters="sRGB"><feComponentTransfer><feFuncR type="table" tableValues="0.0000 0.0000 0.0000 0.0000 0.0000 0.0000 0.0000 0.0000 0.0000 0.0000 0.0000 0.0000 0.0000 0.0000 0.0000 0.0000 0.0000 0.0000 0.0000 0.0000 0.0000 0.0000 0.0000 0.0000 0.0000 0.0000 0.0000 0.0000 0.0000 0.0000 0.0000 0.0000 0.0000 0.0000 0.0000 0.0000 0.0314 0.0627 0.0980 0.1294 0.1608 0.1922 0.2275 0.2588 0.2902 0.3216 0.3529 0.3882 0.4196 0.4510 0.4824 0.5176 0.5490 0.5804 0.6118 0.6471 0.6784 0.7098 0.7412 0.7725 0.8078 0.8392 0.8706 0.9020 0.9373 0.9686 1.0000 1.0000 1.0000 1.0000 1.0000 1.0000 1.0000 1.0000 1.0000 1.0000 1.0000 1.0000 1.0000 1.0000 1.0000 1.0000 1.0000 1.0000 1.0000 1.0000 1.0000 1.0000 1.0000 1.0000 0.9529 0.9098 0.8627 0.8196 0.7725 0.7255 0.6824 0.6353 0.5922 0.5451 0.5020"/><feFuncG type="table" tableValues="0.0000 0.0000 0.0000 0.0000 0.0000 0.0000 0.0000 0.0000 0.0000 0.0000 0.0000 0.0000 0.0000 0.0196 0.0588 0.0980 0.1412 0.1804 0.2196 0.2588 0.3020 0.3412 0.3804 0.4196 0.4588 0.5020 0.5412 0.5804 0.6196 0.6588 0.6980 0.7412 0.7804 0.8196 0.8588 0.8980 0.9412 0.9804 1.0000 1.0000 1.0000 1.0000 1.0000 1.0000 1.0000 1.0000 1.0000 1.0000 1.0000 1.0000 1.0000 1.0000 1.0000 1.0000 1.0000 1.0000 1.0000 1.0000 1.0000 1.0000 1.0000 1.0000 1.0000 1.0000 1.0000 0.9647 0.9255 0.8902 0.8510 0.8157 0.7765 0.7412 0.7020 0.6667 0.6314 0.5922 0.5569 0.5176 0.4824 0.4431 0.4078 0.3686 0.3333 0.2980 0.2588 0.2235 0.1843 0.1490 0.1098 0.0745 0.0353 0.0000 0.0000 0.0000 0.0000 0.0000 0.0000 0.0000 0.0000 0.0000 0.0000"/><feFuncB type="table" tableValues="0.5020 0.5451 0.5922 0.6353 0.6824 0.7255 0.7725 0.8196 0.8627 0.9098 0.9529 1.0000 1.0000 1.0000 1.0000 1.0000 1.0000 1.0000 1.0000 1.0000 1.0000 1.0000 1.0000 1.0000 1.0000 1.0000 1.0000 1.0000 1.0000 1.0000 1.0000 1.0000 1.0000 1.0000 1.0000 0.9686 0.9373 0.9020 0.8706 0.8392 0.8078 0.7725 0.7412 0.7098 0.6784 0.6471 0.6118 0.5804 0.5490 0.5176 0.4824 0.4510 0.4196 0.3882 0.3529 0.3216 0.2902 0.2588 0.2275 0.1922 0.1608 0.1294 0.0980 0.0627 0.0314 0.0000 0.0000 0.0000 0.0000 0.0000 0.0000 0.0000 0.0000 0.0000 0.0000 0.0000 0.0000 0.0000 0.0000 0.0000 0.0000 0.0000 0.0000 0.0000 0.0000 0.0000 0.0000 0.0000 0.0000 0.0000 0.0000 0.0000 0.0000 0.0000 0.0000 0.0000 0.0000 0.0000 0.0000 0.0000 0.0000"/></feComponentTransfer></filter><pattern id="stripes" patternUnits="userSpaceOnUse" x="0" y="0.6" width="10" height="3.7"><rect x="0" y="0" width="10" height="1.5" fill="#000" fill-opacity="0.08"/></pattern></defs>
<g clip-path="url(#clipD)"><g filter="url(#jetf)"><rect x="574.5" y="24.5" width="75.0" height="367.0" fill="#000"/>
<ellipse cx="592.5" cy="58" rx="10" ry="22" fill="url(#g_fb1)" style="mix-blend-mode:lighten" transform="rotate(0 592.5 58)"/>
<ellipse cx="619.8" cy="60.3" rx="20.5" ry="23.5" fill="url(#g_sat1)" style="mix-blend-mode:lighten" transform="rotate(8 619.8 60.3)"/>
<ellipse cx="592.7" cy="130" rx="10.5" ry="23" fill="url(#g_fb2)" style="mix-blend-mode:lighten" transform="rotate(0 592.7 130)"/>
<ellipse cx="622.7" cy="133.6" rx="15.5" ry="21" fill="url(#g_h2)" style="mix-blend-mode:lighten" transform="rotate(0 622.7 133.6)"/>
<ellipse cx="622.7" cy="133.3" rx="9.8" ry="11.8" fill="url(#g_c2)" style="mix-blend-mode:lighten" transform="rotate(0 622.7 133.3)"/>
<ellipse cx="596.9" cy="205.7" rx="14.5" ry="24" fill="url(#g_h3l)" style="mix-blend-mode:lighten" transform="rotate(0 596.9 205.7)"/>
<ellipse cx="596.9" cy="205.7" rx="8" ry="10" fill="url(#g_c3l)" style="mix-blend-mode:lighten" transform="rotate(0 596.9 205.7)"/>
<ellipse cx="624.6" cy="206.6" rx="15.2" ry="24" fill="url(#g_h3r)" style="mix-blend-mode:lighten" transform="rotate(0 624.6 206.6)"/>
<ellipse cx="624.6" cy="206.3" rx="8.2" ry="9.6" fill="url(#g_c3r)" style="mix-blend-mode:lighten" transform="rotate(0 624.6 206.3)"/>
<ellipse cx="599.6" cy="278.8" rx="16.5" ry="25" fill="url(#g_h4)" style="mix-blend-mode:lighten" transform="rotate(0 599.6 278.8)"/>
<ellipse cx="599.6" cy="278.6" rx="10" ry="10.7" fill="url(#g_c4)" style="mix-blend-mode:lighten" transform="rotate(0 599.6 278.6)"/>
<ellipse cx="626.8" cy="280.4" rx="10.5" ry="18.5" fill="url(#g_fb4)" style="mix-blend-mode:lighten" transform="rotate(0 626.8 280.4)"/>
<ellipse cx="602.8" cy="353" rx="18.7" ry="22.3" fill="url(#g_sat5)" style="mix-blend-mode:lighten" transform="rotate(5 602.8 353)"/>
<ellipse cx="630.7" cy="354.6" rx="8" ry="14" fill="url(#g_fb5)" style="mix-blend-mode:lighten" transform="rotate(0 630.7 354.6)"/>
<rect x="580" y="35" width="26" height="50" fill="url(#stripes)"/>
<rect x="580" y="105" width="26" height="52" fill="url(#stripes)"/>
<rect x="582" y="180" width="30" height="52" fill="url(#stripes)"/>
<rect x="583" y="253" width="34" height="52" fill="url(#stripes)"/>
</g></g>
<line x1="574.5" y1="98.1" x2="649.5" y2="98.1" stroke="#fff" stroke-width="2"/>
<line x1="574.5" y1="171.5" x2="649.5" y2="171.5" stroke="#fff" stroke-width="2"/>
<line x1="574.5" y1="244.8" x2="649.5" y2="244.8" stroke="#fff" stroke-width="2"/>
<line x1="574.5" y1="317.9" x2="649.5" y2="317.9" stroke="#fff" stroke-width="2"/>
<rect x="574.5" y="24.5" width="75.0" height="367.0" fill="none" stroke="#000" stroke-width="1.2"/>
<line x1="574.60" y1="391.5" x2="574.60" y2="396.0" stroke="#000" stroke-width="1"/>
<text x="574.60" y="410.10" font-size="13.4" text-anchor="middle" font-family='"Liberation Serif", serif' >0</text>
<line x1="594.10" y1="391.5" x2="594.10" y2="396.0" stroke="#000" stroke-width="1"/>
<text x="594.10" y="410.10" font-size="13.4" text-anchor="middle" font-family='"Liberation Serif", serif' >0.5</text>
<line x1="613.60" y1="391.5" x2="613.60" y2="396.0" stroke="#000" stroke-width="1"/>
<text x="613.60" y="410.10" font-size="13.4" text-anchor="middle" font-family='"Liberation Serif", serif' >1</text>
<line x1="633.10" y1="391.5" x2="633.10" y2="396.0" stroke="#000" stroke-width="1"/>
<text x="633.10" y="410.10" font-size="13.4" text-anchor="middle" font-family='"Liberation Serif", serif' >1.5</text>
<text x="641.00" y="410.10" font-size="13.4" text-anchor="start" font-family='"Liberation Serif", serif' >(mm)</text>
<defs><linearGradient id="jet" x1="0" y1="1" x2="0" y2="0">
<stop offset="0" stop-color="#00007f"/><stop offset="0.11" stop-color="#0000ff"/><stop offset="0.125" stop-color="#0000ff"/>
<stop offset="0.34" stop-color="#00d4ff"/><stop offset="0.375" stop-color="#00ffff"/><stop offset="0.5" stop-color="#7dff7a"/>
<stop offset="0.625" stop-color="#ffff00"/><stop offset="0.66" stop-color="#ffe600"/><stop offset="0.875" stop-color="#ff0000"/>
<stop offset="0.89" stop-color="#fa0f00"/><stop offset="1" stop-color="#7f0000"/></linearGradient></defs>
<rect x="654.3" y="319.4" width="5.8" height="71.9" fill="url(#jet)" stroke="#000" stroke-width="1"/>
<line x1="660.1" y1="319.40" x2="663.8" y2="319.40" stroke="#000" stroke-width="1"/>
<text x="668.60" y="324.00" font-size="13.4" text-anchor="start" font-family='"Liberation Serif", serif' >1.0</text>
<line x1="660.1" y1="355.35" x2="663.8" y2="355.35" stroke="#000" stroke-width="1"/>
<text x="668.60" y="359.95" font-size="13.4" text-anchor="start" font-family='"Liberation Serif", serif' >0.5</text>
<line x1="660.1" y1="391.30" x2="663.8" y2="391.30" stroke="#000" stroke-width="1"/>
<text x="668.60" y="395.90" font-size="13.4" text-anchor="start" font-family='"Liberation Serif", serif' >0.0</text>
<text transform="translate(551.7,18.2) scale(1.0,1)" x="0" y="0" font-size="26" font-family='"Liberation Sans", sans-serif'>d</text>
</svg>
</body></html>
